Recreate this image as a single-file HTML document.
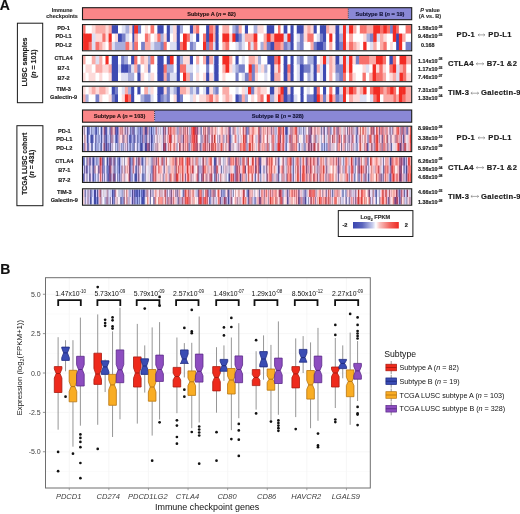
<!DOCTYPE html><html><head><meta charset="utf-8"><style>html,body{margin:0;padding:0;background:#fff;width:520px;height:514px;overflow:hidden}svg{display:block;filter:blur(0.3px)}text{font-family:"Liberation Sans",sans-serif}</style></head><body>
<svg width="520" height="514" viewBox="0 0 520 514">
<rect width="520" height="514" fill="#fff"/>
<text x="-0.2" y="9.6" font-size="14" font-weight="bold" fill="#111" stroke="#111" stroke-width="0.16">A</text>
<text x="62.1" y="12" font-size="5.4" font-weight="bold" fill="#333" text-anchor="middle"  stroke="#333" stroke-width="0.16">Immune</text>
<text x="62.1" y="18.2" font-size="5.4" font-weight="bold" fill="#333" text-anchor="middle"  stroke="#333" stroke-width="0.16">checkpoints</text>
<rect x="82.5" y="7.7" width="265.8" height="12.0" fill="#fa8688"/>
<rect x="348.3" y="7.7" width="63.39999999999998" height="12.0" fill="#8a88d6"/>
<line x1="348.3" y1="8.7" x2="348.3" y2="18.7" stroke="#222" stroke-width="0.8" stroke-dasharray="1,1"/>
<rect x="82.5" y="7.7" width="329.2" height="12.0" fill="none" stroke="#1a1a1a" stroke-width="1.1"/>
<text x="211.5" y="15.7" font-size="5.6" font-weight="bold" fill="#2a1515" text-anchor="middle" stroke="#2a1515" stroke-width="0.16">Subtype A (<tspan font-style="italic">n</tspan> = 82)</text>
<text x="380" y="15.7" font-size="5.6" font-weight="bold" fill="#15153a" text-anchor="middle" stroke="#15153a" stroke-width="0.16">Subtype B (<tspan font-style="italic">n</tspan> = 19)</text>
<rect x="82.5" y="110" width="72.1" height="12.200000000000003" fill="#fa8688"/>
<rect x="154.6" y="110" width="257.1" height="12.200000000000003" fill="#8a88d6"/>
<line x1="154.6" y1="111" x2="154.6" y2="121.2" stroke="#222" stroke-width="0.8" stroke-dasharray="1,1"/>
<rect x="82.5" y="110" width="329.2" height="12.200000000000003" fill="none" stroke="#1a1a1a" stroke-width="1.1"/>
<text x="119.5" y="118.1" font-size="5.6" font-weight="bold" fill="#2a1515" text-anchor="middle" stroke="#2a1515" stroke-width="0.16">Subtype A (<tspan font-style="italic">n</tspan> = 103)</text>
<text x="277.7" y="118.1" font-size="5.6" font-weight="bold" fill="#15153a" text-anchor="middle" stroke="#15153a" stroke-width="0.16">Subtype B (<tspan font-style="italic">n</tspan> = 328)</text>
<rect x="83.10" y="25.20" width="3.00" height="8.93" fill="#f7716b"/>
<rect x="83.10" y="33.53" width="3.00" height="8.93" fill="#f32c24"/>
<rect x="83.10" y="41.87" width="3.00" height="8.33" fill="#f32c24"/>
<rect x="85.50" y="25.20" width="3.73" height="8.93" fill="#ffffff"/>
<rect x="85.50" y="33.53" width="3.73" height="8.93" fill="#f32c24"/>
<rect x="85.50" y="41.87" width="3.73" height="8.33" fill="#f32c24"/>
<rect x="88.62" y="25.20" width="3.73" height="8.93" fill="#ffffff"/>
<rect x="88.62" y="33.53" width="3.73" height="8.93" fill="#f32c24"/>
<rect x="88.62" y="41.87" width="3.73" height="8.33" fill="#f7716b"/>
<rect x="91.75" y="25.20" width="4.35" height="8.93" fill="#fddad9"/>
<rect x="91.75" y="33.53" width="4.35" height="8.93" fill="#dddff2"/>
<rect x="91.75" y="41.87" width="4.35" height="8.33" fill="#dddff2"/>
<rect x="95.50" y="25.20" width="4.35" height="8.93" fill="#faaba7"/>
<rect x="95.50" y="33.53" width="4.35" height="8.93" fill="#fddad9"/>
<rect x="95.50" y="41.87" width="4.35" height="8.33" fill="#f7716b"/>
<rect x="99.25" y="25.20" width="3.73" height="8.93" fill="#faaba7"/>
<rect x="99.25" y="33.53" width="3.73" height="8.93" fill="#fddad9"/>
<rect x="99.25" y="41.87" width="3.73" height="8.33" fill="#faaba7"/>
<rect x="102.38" y="25.20" width="3.73" height="8.93" fill="#faaba7"/>
<rect x="102.38" y="33.53" width="3.73" height="8.93" fill="#f7716b"/>
<rect x="102.38" y="41.87" width="3.73" height="8.33" fill="#fddad9"/>
<rect x="105.50" y="25.20" width="3.73" height="8.93" fill="#fddad9"/>
<rect x="105.50" y="33.53" width="3.73" height="8.93" fill="#fddad9"/>
<rect x="105.50" y="41.87" width="3.73" height="8.33" fill="#ffffff"/>
<rect x="108.62" y="25.20" width="3.73" height="8.93" fill="#faaba7"/>
<rect x="108.62" y="33.53" width="3.73" height="8.93" fill="#f32c24"/>
<rect x="108.62" y="41.87" width="3.73" height="8.33" fill="#f7716b"/>
<rect x="111.75" y="25.20" width="3.73" height="8.93" fill="#3e4ab2"/>
<rect x="111.75" y="33.53" width="3.73" height="8.93" fill="#ffffff"/>
<rect x="111.75" y="41.87" width="3.73" height="8.33" fill="#dddff2"/>
<rect x="114.88" y="25.20" width="3.73" height="8.93" fill="#3e4ab2"/>
<rect x="114.88" y="33.53" width="3.73" height="8.93" fill="#fddad9"/>
<rect x="114.88" y="41.87" width="3.73" height="8.33" fill="#a8aedc"/>
<rect x="118.00" y="25.20" width="4.35" height="8.93" fill="#ffffff"/>
<rect x="118.00" y="33.53" width="4.35" height="8.93" fill="#3e4ab2"/>
<rect x="118.00" y="41.87" width="4.35" height="8.33" fill="#a8aedc"/>
<rect x="121.75" y="25.20" width="4.35" height="8.93" fill="#dddff2"/>
<rect x="121.75" y="33.53" width="4.35" height="8.93" fill="#7880c9"/>
<rect x="121.75" y="41.87" width="4.35" height="8.33" fill="#a8aedc"/>
<rect x="125.50" y="25.20" width="4.35" height="8.93" fill="#a8aedc"/>
<rect x="125.50" y="33.53" width="4.35" height="8.93" fill="#dddff2"/>
<rect x="125.50" y="41.87" width="4.35" height="8.33" fill="#f7716b"/>
<rect x="129.25" y="25.20" width="3.73" height="8.93" fill="#fddad9"/>
<rect x="129.25" y="33.53" width="3.73" height="8.93" fill="#ffffff"/>
<rect x="129.25" y="41.87" width="3.73" height="8.33" fill="#fddad9"/>
<rect x="132.38" y="25.20" width="2.48" height="8.93" fill="#3e4ab2"/>
<rect x="132.38" y="33.53" width="2.48" height="8.93" fill="#3e4ab2"/>
<rect x="132.38" y="41.87" width="2.48" height="8.33" fill="#7880c9"/>
<rect x="134.25" y="25.20" width="4.35" height="8.93" fill="#f32c24"/>
<rect x="134.25" y="33.53" width="4.35" height="8.93" fill="#faaba7"/>
<rect x="134.25" y="41.87" width="4.35" height="8.33" fill="#f7716b"/>
<rect x="138.00" y="25.20" width="3.73" height="8.93" fill="#7880c9"/>
<rect x="138.00" y="33.53" width="3.73" height="8.93" fill="#ffffff"/>
<rect x="138.00" y="41.87" width="3.73" height="8.33" fill="#ffffff"/>
<rect x="141.12" y="25.20" width="4.35" height="8.93" fill="#ffffff"/>
<rect x="141.12" y="33.53" width="4.35" height="8.93" fill="#ffffff"/>
<rect x="141.12" y="41.87" width="4.35" height="8.33" fill="#7880c9"/>
<rect x="144.88" y="25.20" width="3.73" height="8.93" fill="#fddad9"/>
<rect x="144.88" y="33.53" width="3.73" height="8.93" fill="#f7716b"/>
<rect x="144.88" y="41.87" width="3.73" height="8.33" fill="#faaba7"/>
<rect x="148.00" y="25.20" width="3.10" height="8.93" fill="#ffffff"/>
<rect x="148.00" y="33.53" width="3.10" height="8.93" fill="#faaba7"/>
<rect x="148.00" y="41.87" width="3.10" height="8.33" fill="#faaba7"/>
<rect x="150.50" y="25.20" width="4.35" height="8.93" fill="#f7716b"/>
<rect x="150.50" y="33.53" width="4.35" height="8.93" fill="#ffffff"/>
<rect x="150.50" y="41.87" width="4.35" height="8.33" fill="#dddff2"/>
<rect x="154.25" y="25.20" width="3.73" height="8.93" fill="#ffffff"/>
<rect x="154.25" y="33.53" width="3.73" height="8.93" fill="#fddad9"/>
<rect x="154.25" y="41.87" width="3.73" height="8.33" fill="#a8aedc"/>
<rect x="157.38" y="25.20" width="3.73" height="8.93" fill="#3e4ab2"/>
<rect x="157.38" y="33.53" width="3.73" height="8.93" fill="#f7716b"/>
<rect x="157.38" y="41.87" width="3.73" height="8.33" fill="#a8aedc"/>
<rect x="160.50" y="25.20" width="3.73" height="8.93" fill="#3e4ab2"/>
<rect x="160.50" y="33.53" width="3.73" height="8.93" fill="#a8aedc"/>
<rect x="160.50" y="41.87" width="3.73" height="8.33" fill="#7880c9"/>
<rect x="163.62" y="25.20" width="3.73" height="8.93" fill="#ffffff"/>
<rect x="163.62" y="33.53" width="3.73" height="8.93" fill="#fddad9"/>
<rect x="163.62" y="41.87" width="3.73" height="8.33" fill="#f7716b"/>
<rect x="166.75" y="25.20" width="3.73" height="8.93" fill="#3e4ab2"/>
<rect x="166.75" y="33.53" width="3.73" height="8.93" fill="#3e4ab2"/>
<rect x="166.75" y="41.87" width="3.73" height="8.33" fill="#ffffff"/>
<rect x="169.88" y="25.20" width="3.73" height="8.93" fill="#dddff2"/>
<rect x="169.88" y="33.53" width="3.73" height="8.93" fill="#ffffff"/>
<rect x="169.88" y="41.87" width="3.73" height="8.33" fill="#dddff2"/>
<rect x="173.00" y="25.20" width="4.35" height="8.93" fill="#fddad9"/>
<rect x="173.00" y="33.53" width="4.35" height="8.93" fill="#fddad9"/>
<rect x="173.00" y="41.87" width="4.35" height="8.33" fill="#dddff2"/>
<rect x="176.75" y="25.20" width="3.73" height="8.93" fill="#3e4ab2"/>
<rect x="176.75" y="33.53" width="3.73" height="8.93" fill="#3e4ab2"/>
<rect x="176.75" y="41.87" width="3.73" height="8.33" fill="#3e4ab2"/>
<rect x="179.88" y="25.20" width="3.73" height="8.93" fill="#a8aedc"/>
<rect x="179.88" y="33.53" width="3.73" height="8.93" fill="#ffffff"/>
<rect x="179.88" y="41.87" width="3.73" height="8.33" fill="#f7716b"/>
<rect x="183.00" y="25.20" width="4.35" height="8.93" fill="#ffffff"/>
<rect x="183.00" y="33.53" width="4.35" height="8.93" fill="#f32c24"/>
<rect x="183.00" y="41.87" width="4.35" height="8.33" fill="#f32c24"/>
<rect x="186.75" y="25.20" width="3.73" height="8.93" fill="#ffffff"/>
<rect x="186.75" y="33.53" width="3.73" height="8.93" fill="#f7716b"/>
<rect x="186.75" y="41.87" width="3.73" height="8.33" fill="#ffffff"/>
<rect x="189.88" y="25.20" width="3.73" height="8.93" fill="#3e4ab2"/>
<rect x="189.88" y="33.53" width="3.73" height="8.93" fill="#dddff2"/>
<rect x="189.88" y="41.87" width="3.73" height="8.33" fill="#7880c9"/>
<rect x="193.00" y="25.20" width="3.73" height="8.93" fill="#faaba7"/>
<rect x="193.00" y="33.53" width="3.73" height="8.93" fill="#ffffff"/>
<rect x="193.00" y="41.87" width="3.73" height="8.33" fill="#a8aedc"/>
<rect x="196.12" y="25.20" width="3.73" height="8.93" fill="#f7716b"/>
<rect x="196.12" y="33.53" width="3.73" height="8.93" fill="#3e4ab2"/>
<rect x="196.12" y="41.87" width="3.73" height="8.33" fill="#ffffff"/>
<rect x="199.25" y="25.20" width="4.35" height="8.93" fill="#ffffff"/>
<rect x="199.25" y="33.53" width="4.35" height="8.93" fill="#ffffff"/>
<rect x="199.25" y="41.87" width="4.35" height="8.33" fill="#ffffff"/>
<rect x="203.00" y="25.20" width="3.73" height="8.93" fill="#ffffff"/>
<rect x="203.00" y="33.53" width="3.73" height="8.93" fill="#f7716b"/>
<rect x="203.00" y="41.87" width="3.73" height="8.33" fill="#f32c24"/>
<rect x="206.12" y="25.20" width="3.73" height="8.93" fill="#3e4ab2"/>
<rect x="206.12" y="33.53" width="3.73" height="8.93" fill="#3e4ab2"/>
<rect x="206.12" y="41.87" width="3.73" height="8.33" fill="#7880c9"/>
<rect x="209.25" y="25.20" width="4.35" height="8.93" fill="#f7716b"/>
<rect x="209.25" y="33.53" width="4.35" height="8.93" fill="#f32c24"/>
<rect x="209.25" y="41.87" width="4.35" height="8.33" fill="#f7716b"/>
<rect x="213.00" y="25.20" width="3.10" height="8.93" fill="#faaba7"/>
<rect x="213.00" y="33.53" width="3.10" height="8.93" fill="#faaba7"/>
<rect x="213.00" y="41.87" width="3.10" height="8.33" fill="#dddff2"/>
<rect x="215.50" y="25.20" width="3.73" height="8.93" fill="#3e4ab2"/>
<rect x="215.50" y="33.53" width="3.73" height="8.93" fill="#3e4ab2"/>
<rect x="215.50" y="41.87" width="3.73" height="8.33" fill="#3e4ab2"/>
<rect x="218.62" y="25.20" width="4.35" height="8.93" fill="#ffffff"/>
<rect x="218.62" y="33.53" width="4.35" height="8.93" fill="#ffffff"/>
<rect x="218.62" y="41.87" width="4.35" height="8.33" fill="#ffffff"/>
<rect x="222.38" y="25.20" width="3.73" height="8.93" fill="#faaba7"/>
<rect x="222.38" y="33.53" width="3.73" height="8.93" fill="#f32c24"/>
<rect x="222.38" y="41.87" width="3.73" height="8.33" fill="#faaba7"/>
<rect x="225.50" y="25.20" width="4.35" height="8.93" fill="#faaba7"/>
<rect x="225.50" y="33.53" width="4.35" height="8.93" fill="#f32c24"/>
<rect x="225.50" y="41.87" width="4.35" height="8.33" fill="#f7716b"/>
<rect x="229.25" y="25.20" width="3.73" height="8.93" fill="#ffffff"/>
<rect x="229.25" y="33.53" width="3.73" height="8.93" fill="#fddad9"/>
<rect x="229.25" y="41.87" width="3.73" height="8.33" fill="#ffffff"/>
<rect x="232.38" y="25.20" width="3.73" height="8.93" fill="#a8aedc"/>
<rect x="232.38" y="33.53" width="3.73" height="8.93" fill="#f32c24"/>
<rect x="232.38" y="41.87" width="3.73" height="8.33" fill="#ffffff"/>
<rect x="235.50" y="25.20" width="3.73" height="8.93" fill="#7880c9"/>
<rect x="235.50" y="33.53" width="3.73" height="8.93" fill="#3e4ab2"/>
<rect x="235.50" y="41.87" width="3.73" height="8.33" fill="#dddff2"/>
<rect x="238.62" y="25.20" width="3.73" height="8.93" fill="#faaba7"/>
<rect x="238.62" y="33.53" width="3.73" height="8.93" fill="#7880c9"/>
<rect x="238.62" y="41.87" width="3.73" height="8.33" fill="#a8aedc"/>
<rect x="241.75" y="25.20" width="3.73" height="8.93" fill="#ffffff"/>
<rect x="241.75" y="33.53" width="3.73" height="8.93" fill="#dddff2"/>
<rect x="241.75" y="41.87" width="3.73" height="8.33" fill="#dddff2"/>
<rect x="244.88" y="25.20" width="3.73" height="8.93" fill="#3e4ab2"/>
<rect x="244.88" y="33.53" width="3.73" height="8.93" fill="#faaba7"/>
<rect x="244.88" y="41.87" width="3.73" height="8.33" fill="#ffffff"/>
<rect x="248.00" y="25.20" width="3.10" height="8.93" fill="#ffffff"/>
<rect x="248.00" y="33.53" width="3.10" height="8.93" fill="#faaba7"/>
<rect x="248.00" y="41.87" width="3.10" height="8.33" fill="#f7716b"/>
<rect x="250.50" y="25.20" width="3.73" height="8.93" fill="#ffffff"/>
<rect x="250.50" y="33.53" width="3.73" height="8.93" fill="#faaba7"/>
<rect x="250.50" y="41.87" width="3.73" height="8.33" fill="#dddff2"/>
<rect x="253.62" y="25.20" width="4.35" height="8.93" fill="#a8aedc"/>
<rect x="253.62" y="33.53" width="4.35" height="8.93" fill="#f32c24"/>
<rect x="253.62" y="41.87" width="4.35" height="8.33" fill="#f7716b"/>
<rect x="257.38" y="25.20" width="3.73" height="8.93" fill="#fddad9"/>
<rect x="257.38" y="33.53" width="3.73" height="8.93" fill="#ffffff"/>
<rect x="257.38" y="41.87" width="3.73" height="8.33" fill="#ffffff"/>
<rect x="260.50" y="25.20" width="3.73" height="8.93" fill="#fddad9"/>
<rect x="260.50" y="33.53" width="3.73" height="8.93" fill="#ffffff"/>
<rect x="260.50" y="41.87" width="3.73" height="8.33" fill="#a8aedc"/>
<rect x="263.62" y="25.20" width="3.73" height="8.93" fill="#ffffff"/>
<rect x="263.62" y="33.53" width="3.73" height="8.93" fill="#faaba7"/>
<rect x="263.62" y="41.87" width="3.73" height="8.33" fill="#faaba7"/>
<rect x="266.75" y="25.20" width="4.35" height="8.93" fill="#3e4ab2"/>
<rect x="266.75" y="33.53" width="4.35" height="8.93" fill="#f32c24"/>
<rect x="266.75" y="41.87" width="4.35" height="8.33" fill="#7880c9"/>
<rect x="270.50" y="25.20" width="4.35" height="8.93" fill="#3e4ab2"/>
<rect x="270.50" y="33.53" width="4.35" height="8.93" fill="#faaba7"/>
<rect x="270.50" y="41.87" width="4.35" height="8.33" fill="#3e4ab2"/>
<rect x="274.25" y="25.20" width="4.35" height="8.93" fill="#ffffff"/>
<rect x="274.25" y="33.53" width="4.35" height="8.93" fill="#f32c24"/>
<rect x="274.25" y="41.87" width="4.35" height="8.33" fill="#f7716b"/>
<rect x="278.00" y="25.20" width="3.10" height="8.93" fill="#f7716b"/>
<rect x="278.00" y="33.53" width="3.10" height="8.93" fill="#f32c24"/>
<rect x="278.00" y="41.87" width="3.10" height="8.33" fill="#f7716b"/>
<rect x="280.50" y="25.20" width="3.73" height="8.93" fill="#ffffff"/>
<rect x="280.50" y="33.53" width="3.73" height="8.93" fill="#f32c24"/>
<rect x="280.50" y="41.87" width="3.73" height="8.33" fill="#faaba7"/>
<rect x="283.62" y="25.20" width="4.35" height="8.93" fill="#3e4ab2"/>
<rect x="283.62" y="33.53" width="4.35" height="8.93" fill="#dddff2"/>
<rect x="283.62" y="41.87" width="4.35" height="8.33" fill="#7880c9"/>
<rect x="287.38" y="25.20" width="3.73" height="8.93" fill="#ffffff"/>
<rect x="287.38" y="33.53" width="3.73" height="8.93" fill="#f32c24"/>
<rect x="287.38" y="41.87" width="3.73" height="8.33" fill="#a8aedc"/>
<rect x="290.50" y="25.20" width="3.73" height="8.93" fill="#3e4ab2"/>
<rect x="290.50" y="33.53" width="3.73" height="8.93" fill="#3e4ab2"/>
<rect x="290.50" y="41.87" width="3.73" height="8.33" fill="#3e4ab2"/>
<rect x="293.62" y="25.20" width="3.73" height="8.93" fill="#ffffff"/>
<rect x="293.62" y="33.53" width="3.73" height="8.93" fill="#ffffff"/>
<rect x="293.62" y="41.87" width="3.73" height="8.33" fill="#ffffff"/>
<rect x="296.75" y="25.20" width="3.73" height="8.93" fill="#3e4ab2"/>
<rect x="296.75" y="33.53" width="3.73" height="8.93" fill="#dddff2"/>
<rect x="296.75" y="41.87" width="3.73" height="8.33" fill="#a8aedc"/>
<rect x="299.88" y="25.20" width="4.35" height="8.93" fill="#3e4ab2"/>
<rect x="299.88" y="33.53" width="4.35" height="8.93" fill="#7880c9"/>
<rect x="299.88" y="41.87" width="4.35" height="8.33" fill="#7880c9"/>
<rect x="303.62" y="25.20" width="4.35" height="8.93" fill="#fddad9"/>
<rect x="303.62" y="33.53" width="4.35" height="8.93" fill="#fddad9"/>
<rect x="303.62" y="41.87" width="4.35" height="8.33" fill="#ffffff"/>
<rect x="307.38" y="25.20" width="3.73" height="8.93" fill="#faaba7"/>
<rect x="307.38" y="33.53" width="3.73" height="8.93" fill="#f7716b"/>
<rect x="307.38" y="41.87" width="3.73" height="8.33" fill="#ffffff"/>
<rect x="310.50" y="25.20" width="3.73" height="8.93" fill="#fddad9"/>
<rect x="310.50" y="33.53" width="3.73" height="8.93" fill="#f7716b"/>
<rect x="310.50" y="41.87" width="3.73" height="8.33" fill="#faaba7"/>
<rect x="313.62" y="25.20" width="3.73" height="8.93" fill="#3e4ab2"/>
<rect x="313.62" y="33.53" width="3.73" height="8.93" fill="#ffffff"/>
<rect x="313.62" y="41.87" width="3.73" height="8.33" fill="#7880c9"/>
<rect x="316.75" y="25.20" width="3.73" height="8.93" fill="#ffffff"/>
<rect x="316.75" y="33.53" width="3.73" height="8.93" fill="#dddff2"/>
<rect x="316.75" y="41.87" width="3.73" height="8.33" fill="#3e4ab2"/>
<rect x="319.88" y="25.20" width="3.73" height="8.93" fill="#3e4ab2"/>
<rect x="319.88" y="33.53" width="3.73" height="8.93" fill="#7880c9"/>
<rect x="319.88" y="41.87" width="3.73" height="8.33" fill="#3e4ab2"/>
<rect x="323.00" y="25.20" width="3.73" height="8.93" fill="#3e4ab2"/>
<rect x="323.00" y="33.53" width="3.73" height="8.93" fill="#3e4ab2"/>
<rect x="323.00" y="41.87" width="3.73" height="8.33" fill="#7880c9"/>
<rect x="326.12" y="25.20" width="3.73" height="8.93" fill="#faaba7"/>
<rect x="326.12" y="33.53" width="3.73" height="8.93" fill="#ffffff"/>
<rect x="326.12" y="41.87" width="3.73" height="8.33" fill="#ffffff"/>
<rect x="329.25" y="25.20" width="3.73" height="8.93" fill="#fddad9"/>
<rect x="329.25" y="33.53" width="3.73" height="8.93" fill="#f32c24"/>
<rect x="329.25" y="41.87" width="3.73" height="8.33" fill="#faaba7"/>
<rect x="332.38" y="25.20" width="3.73" height="8.93" fill="#fddad9"/>
<rect x="332.38" y="33.53" width="3.73" height="8.93" fill="#ffffff"/>
<rect x="332.38" y="41.87" width="3.73" height="8.33" fill="#ffffff"/>
<rect x="335.50" y="25.20" width="4.35" height="8.93" fill="#3e4ab2"/>
<rect x="335.50" y="33.53" width="4.35" height="8.93" fill="#3e4ab2"/>
<rect x="335.50" y="41.87" width="4.35" height="8.33" fill="#3e4ab2"/>
<rect x="339.25" y="25.20" width="4.35" height="8.93" fill="#dddff2"/>
<rect x="339.25" y="33.53" width="4.35" height="8.93" fill="#a8aedc"/>
<rect x="339.25" y="41.87" width="4.35" height="8.33" fill="#7880c9"/>
<rect x="343.00" y="25.20" width="3.56" height="8.93" fill="#f32c24"/>
<rect x="343.00" y="33.53" width="3.56" height="8.93" fill="#f32c24"/>
<rect x="343.00" y="41.87" width="3.56" height="8.33" fill="#f32c24"/>
<rect x="345.96" y="25.20" width="3.70" height="8.93" fill="#dddff2"/>
<rect x="345.96" y="33.53" width="3.70" height="8.93" fill="#ffffff"/>
<rect x="345.96" y="41.87" width="3.70" height="8.33" fill="#fddad9"/>
<rect x="349.06" y="25.20" width="4.64" height="8.93" fill="#f32c24"/>
<rect x="349.06" y="33.53" width="4.64" height="8.93" fill="#faaba7"/>
<rect x="349.06" y="41.87" width="4.64" height="8.33" fill="#f7716b"/>
<rect x="353.09" y="25.20" width="3.96" height="8.93" fill="#faaba7"/>
<rect x="353.09" y="33.53" width="3.96" height="8.93" fill="#ffffff"/>
<rect x="353.09" y="41.87" width="3.96" height="8.33" fill="#faaba7"/>
<rect x="356.46" y="25.20" width="3.96" height="8.93" fill="#ffffff"/>
<rect x="356.46" y="33.53" width="3.96" height="8.93" fill="#ffffff"/>
<rect x="356.46" y="41.87" width="3.96" height="8.33" fill="#fddad9"/>
<rect x="359.82" y="25.20" width="3.96" height="8.93" fill="#f7716b"/>
<rect x="359.82" y="33.53" width="3.96" height="8.93" fill="#ffffff"/>
<rect x="359.82" y="41.87" width="3.96" height="8.33" fill="#ffffff"/>
<rect x="363.19" y="25.20" width="3.96" height="8.93" fill="#f7716b"/>
<rect x="363.19" y="33.53" width="3.96" height="8.93" fill="#fddad9"/>
<rect x="363.19" y="41.87" width="3.96" height="8.33" fill="#f32c24"/>
<rect x="366.55" y="25.20" width="3.96" height="8.93" fill="#faaba7"/>
<rect x="366.55" y="33.53" width="3.96" height="8.93" fill="#a8aedc"/>
<rect x="366.55" y="41.87" width="3.96" height="8.33" fill="#ffffff"/>
<rect x="369.92" y="25.20" width="3.96" height="8.93" fill="#faaba7"/>
<rect x="369.92" y="33.53" width="3.96" height="8.93" fill="#7880c9"/>
<rect x="369.92" y="41.87" width="3.96" height="8.33" fill="#dddff2"/>
<rect x="373.28" y="25.20" width="3.96" height="8.93" fill="#f32c24"/>
<rect x="373.28" y="33.53" width="3.96" height="8.93" fill="#f32c24"/>
<rect x="373.28" y="41.87" width="3.96" height="8.33" fill="#faaba7"/>
<rect x="376.65" y="25.20" width="3.96" height="8.93" fill="#f32c24"/>
<rect x="376.65" y="33.53" width="3.96" height="8.93" fill="#dddff2"/>
<rect x="376.65" y="41.87" width="3.96" height="8.33" fill="#ffffff"/>
<rect x="380.01" y="25.20" width="3.96" height="8.93" fill="#f7716b"/>
<rect x="380.01" y="33.53" width="3.96" height="8.93" fill="#faaba7"/>
<rect x="380.01" y="41.87" width="3.96" height="8.33" fill="#faaba7"/>
<rect x="383.38" y="25.20" width="3.96" height="8.93" fill="#f32c24"/>
<rect x="383.38" y="33.53" width="3.96" height="8.93" fill="#fddad9"/>
<rect x="383.38" y="41.87" width="3.96" height="8.33" fill="#f7716b"/>
<rect x="386.74" y="25.20" width="3.96" height="8.93" fill="#f7716b"/>
<rect x="386.74" y="33.53" width="3.96" height="8.93" fill="#ffffff"/>
<rect x="386.74" y="41.87" width="3.96" height="8.33" fill="#ffffff"/>
<rect x="390.11" y="25.20" width="3.29" height="8.93" fill="#7880c9"/>
<rect x="390.11" y="33.53" width="3.29" height="8.93" fill="#ffffff"/>
<rect x="390.11" y="41.87" width="3.29" height="8.33" fill="#fddad9"/>
<rect x="392.80" y="25.20" width="3.96" height="8.93" fill="#f32c24"/>
<rect x="392.80" y="33.53" width="3.96" height="8.93" fill="#f32c24"/>
<rect x="392.80" y="41.87" width="3.96" height="8.33" fill="#ffffff"/>
<rect x="396.16" y="25.20" width="3.29" height="8.93" fill="#f7716b"/>
<rect x="396.16" y="33.53" width="3.29" height="8.93" fill="#3e4ab2"/>
<rect x="396.16" y="41.87" width="3.29" height="8.33" fill="#3e4ab2"/>
<rect x="398.85" y="25.20" width="3.96" height="8.93" fill="#ffffff"/>
<rect x="398.85" y="33.53" width="3.96" height="8.93" fill="#f32c24"/>
<rect x="398.85" y="41.87" width="3.96" height="8.33" fill="#f32c24"/>
<rect x="402.22" y="25.20" width="3.96" height="8.93" fill="#ffffff"/>
<rect x="402.22" y="33.53" width="3.96" height="8.93" fill="#faaba7"/>
<rect x="402.22" y="41.87" width="3.96" height="8.33" fill="#ffffff"/>
<rect x="405.58" y="25.20" width="5.52" height="8.93" fill="#f7716b"/>
<rect x="405.58" y="33.53" width="5.52" height="8.93" fill="#ffffff"/>
<rect x="405.58" y="41.87" width="5.52" height="8.33" fill="#7880c9"/>
<rect x="82.5" y="24.6" width="329.2" height="26.199999999999996" fill="none" stroke="#1a1a1a" stroke-width="1.1"/>
<rect x="83.10" y="56.00" width="3.00" height="8.97" fill="#faaba7"/>
<rect x="83.10" y="64.37" width="3.00" height="8.97" fill="#ffffff"/>
<rect x="83.10" y="72.73" width="3.00" height="8.37" fill="#fddad9"/>
<rect x="85.50" y="56.00" width="3.73" height="8.97" fill="#ffffff"/>
<rect x="85.50" y="64.37" width="3.73" height="8.97" fill="#fddad9"/>
<rect x="85.50" y="72.73" width="3.73" height="8.37" fill="#ffffff"/>
<rect x="88.62" y="56.00" width="3.73" height="8.97" fill="#ffffff"/>
<rect x="88.62" y="64.37" width="3.73" height="8.97" fill="#fddad9"/>
<rect x="88.62" y="72.73" width="3.73" height="8.37" fill="#fddad9"/>
<rect x="91.75" y="56.00" width="4.35" height="8.97" fill="#faaba7"/>
<rect x="91.75" y="64.37" width="4.35" height="8.97" fill="#ffffff"/>
<rect x="91.75" y="72.73" width="4.35" height="8.37" fill="#fddad9"/>
<rect x="95.50" y="56.00" width="4.35" height="8.97" fill="#dddff2"/>
<rect x="95.50" y="64.37" width="4.35" height="8.97" fill="#faaba7"/>
<rect x="95.50" y="72.73" width="4.35" height="8.37" fill="#ffffff"/>
<rect x="99.25" y="56.00" width="3.73" height="8.97" fill="#faaba7"/>
<rect x="99.25" y="64.37" width="3.73" height="8.97" fill="#faaba7"/>
<rect x="99.25" y="72.73" width="3.73" height="8.37" fill="#fddad9"/>
<rect x="102.38" y="56.00" width="3.73" height="8.97" fill="#ffffff"/>
<rect x="102.38" y="64.37" width="3.73" height="8.97" fill="#fddad9"/>
<rect x="102.38" y="72.73" width="3.73" height="8.37" fill="#ffffff"/>
<rect x="105.50" y="56.00" width="3.73" height="8.97" fill="#f32c24"/>
<rect x="105.50" y="64.37" width="3.73" height="8.97" fill="#fddad9"/>
<rect x="105.50" y="72.73" width="3.73" height="8.37" fill="#ffffff"/>
<rect x="108.62" y="56.00" width="3.73" height="8.97" fill="#ffffff"/>
<rect x="108.62" y="64.37" width="3.73" height="8.97" fill="#faaba7"/>
<rect x="108.62" y="72.73" width="3.73" height="8.37" fill="#fddad9"/>
<rect x="111.75" y="56.00" width="6.85" height="8.97" fill="#3e4ab2"/>
<rect x="111.75" y="64.37" width="6.85" height="8.97" fill="#3e4ab2"/>
<rect x="111.75" y="72.73" width="6.85" height="8.37" fill="#3e4ab2"/>
<rect x="118.00" y="56.00" width="3.73" height="8.97" fill="#ffffff"/>
<rect x="118.00" y="64.37" width="3.73" height="8.97" fill="#dddff2"/>
<rect x="118.00" y="72.73" width="3.73" height="8.37" fill="#ffffff"/>
<rect x="121.12" y="56.00" width="3.73" height="8.97" fill="#7880c9"/>
<rect x="121.12" y="64.37" width="3.73" height="8.97" fill="#3e4ab2"/>
<rect x="121.12" y="72.73" width="3.73" height="8.37" fill="#dddff2"/>
<rect x="124.25" y="56.00" width="4.35" height="8.97" fill="#a8aedc"/>
<rect x="124.25" y="64.37" width="4.35" height="8.97" fill="#3e4ab2"/>
<rect x="124.25" y="72.73" width="4.35" height="8.37" fill="#dddff2"/>
<rect x="128.00" y="56.00" width="3.73" height="8.97" fill="#ffffff"/>
<rect x="128.00" y="64.37" width="3.73" height="8.97" fill="#7880c9"/>
<rect x="128.00" y="72.73" width="3.73" height="8.37" fill="#a8aedc"/>
<rect x="131.12" y="56.00" width="3.73" height="8.97" fill="#3e4ab2"/>
<rect x="131.12" y="64.37" width="3.73" height="8.97" fill="#dddff2"/>
<rect x="131.12" y="72.73" width="3.73" height="8.37" fill="#a8aedc"/>
<rect x="134.25" y="56.00" width="3.73" height="8.97" fill="#f7716b"/>
<rect x="134.25" y="64.37" width="3.73" height="8.97" fill="#faaba7"/>
<rect x="134.25" y="72.73" width="3.73" height="8.37" fill="#ffffff"/>
<rect x="137.38" y="56.00" width="3.73" height="8.97" fill="#ffffff"/>
<rect x="137.38" y="64.37" width="3.73" height="8.97" fill="#7880c9"/>
<rect x="137.38" y="72.73" width="3.73" height="8.37" fill="#3e4ab2"/>
<rect x="140.50" y="56.00" width="4.35" height="8.97" fill="#faaba7"/>
<rect x="140.50" y="64.37" width="4.35" height="8.97" fill="#ffffff"/>
<rect x="140.50" y="72.73" width="4.35" height="8.37" fill="#fddad9"/>
<rect x="144.25" y="56.00" width="4.35" height="8.97" fill="#fddad9"/>
<rect x="144.25" y="64.37" width="4.35" height="8.97" fill="#fddad9"/>
<rect x="144.25" y="72.73" width="4.35" height="8.37" fill="#ffffff"/>
<rect x="148.00" y="56.00" width="3.10" height="8.97" fill="#a8aedc"/>
<rect x="148.00" y="64.37" width="3.10" height="8.97" fill="#7880c9"/>
<rect x="148.00" y="72.73" width="3.10" height="8.37" fill="#dddff2"/>
<rect x="150.50" y="56.00" width="4.35" height="8.97" fill="#f7716b"/>
<rect x="150.50" y="64.37" width="4.35" height="8.97" fill="#ffffff"/>
<rect x="150.50" y="72.73" width="4.35" height="8.37" fill="#fddad9"/>
<rect x="154.25" y="56.00" width="3.73" height="8.97" fill="#ffffff"/>
<rect x="154.25" y="64.37" width="3.73" height="8.97" fill="#ffffff"/>
<rect x="154.25" y="72.73" width="3.73" height="8.37" fill="#ffffff"/>
<rect x="157.38" y="56.00" width="6.85" height="8.97" fill="#3e4ab2"/>
<rect x="157.38" y="64.37" width="6.85" height="8.97" fill="#3e4ab2"/>
<rect x="157.38" y="72.73" width="6.85" height="8.37" fill="#3e4ab2"/>
<rect x="163.62" y="56.00" width="3.73" height="8.97" fill="#ffffff"/>
<rect x="163.62" y="64.37" width="3.73" height="8.97" fill="#f7716b"/>
<rect x="163.62" y="72.73" width="3.73" height="8.37" fill="#faaba7"/>
<rect x="166.75" y="56.00" width="3.73" height="8.97" fill="#3e4ab2"/>
<rect x="166.75" y="64.37" width="3.73" height="8.97" fill="#a8aedc"/>
<rect x="166.75" y="72.73" width="3.73" height="8.37" fill="#7880c9"/>
<rect x="169.88" y="56.00" width="4.35" height="8.97" fill="#f32c24"/>
<rect x="169.88" y="64.37" width="4.35" height="8.97" fill="#a8aedc"/>
<rect x="169.88" y="72.73" width="4.35" height="8.37" fill="#dddff2"/>
<rect x="173.62" y="56.00" width="3.73" height="8.97" fill="#ffffff"/>
<rect x="173.62" y="64.37" width="3.73" height="8.97" fill="#ffffff"/>
<rect x="173.62" y="72.73" width="3.73" height="8.37" fill="#dddff2"/>
<rect x="176.75" y="56.00" width="3.73" height="8.97" fill="#3e4ab2"/>
<rect x="176.75" y="64.37" width="3.73" height="8.97" fill="#3e4ab2"/>
<rect x="176.75" y="72.73" width="3.73" height="8.37" fill="#3e4ab2"/>
<rect x="179.88" y="56.00" width="3.73" height="8.97" fill="#a8aedc"/>
<rect x="179.88" y="64.37" width="3.73" height="8.97" fill="#f7716b"/>
<rect x="179.88" y="72.73" width="3.73" height="8.37" fill="#ffffff"/>
<rect x="183.00" y="56.00" width="3.73" height="8.97" fill="#fddad9"/>
<rect x="183.00" y="64.37" width="3.73" height="8.97" fill="#f7716b"/>
<rect x="183.00" y="72.73" width="3.73" height="8.37" fill="#f32c24"/>
<rect x="186.12" y="56.00" width="4.35" height="8.97" fill="#fddad9"/>
<rect x="186.12" y="64.37" width="4.35" height="8.97" fill="#dddff2"/>
<rect x="186.12" y="72.73" width="4.35" height="8.37" fill="#faaba7"/>
<rect x="189.88" y="56.00" width="3.73" height="8.97" fill="#3e4ab2"/>
<rect x="189.88" y="64.37" width="3.73" height="8.97" fill="#dddff2"/>
<rect x="189.88" y="72.73" width="3.73" height="8.37" fill="#a8aedc"/>
<rect x="193.00" y="56.00" width="3.73" height="8.97" fill="#ffffff"/>
<rect x="193.00" y="64.37" width="3.73" height="8.97" fill="#ffffff"/>
<rect x="193.00" y="72.73" width="3.73" height="8.37" fill="#ffffff"/>
<rect x="196.12" y="56.00" width="3.73" height="8.97" fill="#faaba7"/>
<rect x="196.12" y="64.37" width="3.73" height="8.97" fill="#dddff2"/>
<rect x="196.12" y="72.73" width="3.73" height="8.37" fill="#fddad9"/>
<rect x="199.25" y="56.00" width="4.35" height="8.97" fill="#ffffff"/>
<rect x="199.25" y="64.37" width="4.35" height="8.97" fill="#ffffff"/>
<rect x="199.25" y="72.73" width="4.35" height="8.37" fill="#ffffff"/>
<rect x="203.00" y="56.00" width="3.73" height="8.97" fill="#faaba7"/>
<rect x="203.00" y="64.37" width="3.73" height="8.97" fill="#ffffff"/>
<rect x="203.00" y="72.73" width="3.73" height="8.37" fill="#fddad9"/>
<rect x="206.12" y="56.00" width="3.73" height="8.97" fill="#3e4ab2"/>
<rect x="206.12" y="64.37" width="3.73" height="8.97" fill="#7880c9"/>
<rect x="206.12" y="72.73" width="3.73" height="8.37" fill="#3e4ab2"/>
<rect x="209.25" y="56.00" width="4.35" height="8.97" fill="#faaba7"/>
<rect x="209.25" y="64.37" width="4.35" height="8.97" fill="#ffffff"/>
<rect x="209.25" y="72.73" width="4.35" height="8.37" fill="#fddad9"/>
<rect x="213.00" y="56.00" width="1.85" height="8.97" fill="#dddff2"/>
<rect x="213.00" y="64.37" width="1.85" height="8.97" fill="#dddff2"/>
<rect x="213.00" y="72.73" width="1.85" height="8.37" fill="#dddff2"/>
<rect x="214.25" y="56.00" width="4.97" height="8.97" fill="#3e4ab2"/>
<rect x="214.25" y="64.37" width="4.97" height="8.97" fill="#3e4ab2"/>
<rect x="214.25" y="72.73" width="4.97" height="8.37" fill="#3e4ab2"/>
<rect x="218.62" y="56.00" width="4.35" height="8.97" fill="#ffffff"/>
<rect x="218.62" y="64.37" width="4.35" height="8.97" fill="#ffffff"/>
<rect x="218.62" y="72.73" width="4.35" height="8.37" fill="#ffffff"/>
<rect x="222.38" y="56.00" width="3.73" height="8.97" fill="#f32c24"/>
<rect x="222.38" y="64.37" width="3.73" height="8.97" fill="#faaba7"/>
<rect x="222.38" y="72.73" width="3.73" height="8.37" fill="#fddad9"/>
<rect x="225.50" y="56.00" width="4.35" height="8.97" fill="#f32c24"/>
<rect x="225.50" y="64.37" width="4.35" height="8.97" fill="#f32c24"/>
<rect x="225.50" y="72.73" width="4.35" height="8.37" fill="#ffffff"/>
<rect x="229.25" y="56.00" width="3.73" height="8.97" fill="#faaba7"/>
<rect x="229.25" y="64.37" width="3.73" height="8.97" fill="#fddad9"/>
<rect x="229.25" y="72.73" width="3.73" height="8.37" fill="#ffffff"/>
<rect x="232.38" y="56.00" width="3.73" height="8.97" fill="#ffffff"/>
<rect x="232.38" y="64.37" width="3.73" height="8.97" fill="#dddff2"/>
<rect x="232.38" y="72.73" width="3.73" height="8.37" fill="#ffffff"/>
<rect x="235.50" y="56.00" width="3.73" height="8.97" fill="#3e4ab2"/>
<rect x="235.50" y="64.37" width="3.73" height="8.97" fill="#a8aedc"/>
<rect x="235.50" y="72.73" width="3.73" height="8.37" fill="#7880c9"/>
<rect x="238.62" y="56.00" width="3.73" height="8.97" fill="#ffffff"/>
<rect x="238.62" y="64.37" width="3.73" height="8.97" fill="#7880c9"/>
<rect x="238.62" y="72.73" width="3.73" height="8.37" fill="#ffffff"/>
<rect x="241.75" y="56.00" width="3.73" height="8.97" fill="#dddff2"/>
<rect x="241.75" y="64.37" width="3.73" height="8.97" fill="#7880c9"/>
<rect x="241.75" y="72.73" width="3.73" height="8.37" fill="#dddff2"/>
<rect x="244.88" y="56.00" width="4.35" height="8.97" fill="#ffffff"/>
<rect x="244.88" y="64.37" width="4.35" height="8.97" fill="#ffffff"/>
<rect x="244.88" y="72.73" width="4.35" height="8.37" fill="#7880c9"/>
<rect x="248.62" y="56.00" width="3.73" height="8.97" fill="#faaba7"/>
<rect x="248.62" y="64.37" width="3.73" height="8.97" fill="#f32c24"/>
<rect x="248.62" y="72.73" width="3.73" height="8.37" fill="#f7716b"/>
<rect x="251.75" y="56.00" width="3.73" height="8.97" fill="#faaba7"/>
<rect x="251.75" y="64.37" width="3.73" height="8.97" fill="#7880c9"/>
<rect x="251.75" y="72.73" width="3.73" height="8.37" fill="#7880c9"/>
<rect x="254.88" y="56.00" width="3.73" height="8.97" fill="#fddad9"/>
<rect x="254.88" y="64.37" width="3.73" height="8.97" fill="#faaba7"/>
<rect x="254.88" y="72.73" width="3.73" height="8.37" fill="#fddad9"/>
<rect x="258.00" y="56.00" width="3.73" height="8.97" fill="#a8aedc"/>
<rect x="258.00" y="64.37" width="3.73" height="8.97" fill="#dddff2"/>
<rect x="258.00" y="72.73" width="3.73" height="8.37" fill="#ffffff"/>
<rect x="261.12" y="56.00" width="3.73" height="8.97" fill="#ffffff"/>
<rect x="261.12" y="64.37" width="3.73" height="8.97" fill="#fddad9"/>
<rect x="261.12" y="72.73" width="3.73" height="8.37" fill="#ffffff"/>
<rect x="264.25" y="56.00" width="3.73" height="8.97" fill="#ffffff"/>
<rect x="264.25" y="64.37" width="3.73" height="8.97" fill="#a8aedc"/>
<rect x="264.25" y="72.73" width="3.73" height="8.37" fill="#dddff2"/>
<rect x="267.38" y="56.00" width="3.73" height="8.97" fill="#3e4ab2"/>
<rect x="267.38" y="64.37" width="3.73" height="8.97" fill="#ffffff"/>
<rect x="267.38" y="72.73" width="3.73" height="8.37" fill="#ffffff"/>
<rect x="270.50" y="56.00" width="4.35" height="8.97" fill="#3e4ab2"/>
<rect x="270.50" y="64.37" width="4.35" height="8.97" fill="#3e4ab2"/>
<rect x="270.50" y="72.73" width="4.35" height="8.37" fill="#3e4ab2"/>
<rect x="274.25" y="56.00" width="4.35" height="8.97" fill="#f7716b"/>
<rect x="274.25" y="64.37" width="4.35" height="8.97" fill="#fddad9"/>
<rect x="274.25" y="72.73" width="4.35" height="8.37" fill="#faaba7"/>
<rect x="278.00" y="56.00" width="3.10" height="8.97" fill="#f32c24"/>
<rect x="278.00" y="64.37" width="3.10" height="8.97" fill="#f7716b"/>
<rect x="278.00" y="72.73" width="3.10" height="8.37" fill="#faaba7"/>
<rect x="280.50" y="56.00" width="3.73" height="8.97" fill="#ffffff"/>
<rect x="280.50" y="64.37" width="3.73" height="8.97" fill="#ffffff"/>
<rect x="280.50" y="72.73" width="3.73" height="8.37" fill="#ffffff"/>
<rect x="283.62" y="56.00" width="4.35" height="8.97" fill="#3e4ab2"/>
<rect x="283.62" y="64.37" width="4.35" height="8.97" fill="#3e4ab2"/>
<rect x="283.62" y="72.73" width="4.35" height="8.37" fill="#3e4ab2"/>
<rect x="287.38" y="56.00" width="3.73" height="8.97" fill="#ffffff"/>
<rect x="287.38" y="64.37" width="3.73" height="8.97" fill="#f7716b"/>
<rect x="287.38" y="72.73" width="3.73" height="8.37" fill="#faaba7"/>
<rect x="290.50" y="56.00" width="3.73" height="8.97" fill="#3e4ab2"/>
<rect x="290.50" y="64.37" width="3.73" height="8.97" fill="#3e4ab2"/>
<rect x="290.50" y="72.73" width="3.73" height="8.37" fill="#3e4ab2"/>
<rect x="293.62" y="56.00" width="3.73" height="8.97" fill="#ffffff"/>
<rect x="293.62" y="64.37" width="3.73" height="8.97" fill="#ffffff"/>
<rect x="293.62" y="72.73" width="3.73" height="8.37" fill="#ffffff"/>
<rect x="296.75" y="56.00" width="3.73" height="8.97" fill="#a8aedc"/>
<rect x="296.75" y="64.37" width="3.73" height="8.97" fill="#dddff2"/>
<rect x="296.75" y="72.73" width="3.73" height="8.37" fill="#dddff2"/>
<rect x="299.88" y="56.00" width="4.35" height="8.97" fill="#7880c9"/>
<rect x="299.88" y="64.37" width="4.35" height="8.97" fill="#3e4ab2"/>
<rect x="299.88" y="72.73" width="4.35" height="8.37" fill="#3e4ab2"/>
<rect x="303.62" y="56.00" width="4.35" height="8.97" fill="#ffffff"/>
<rect x="303.62" y="64.37" width="4.35" height="8.97" fill="#7880c9"/>
<rect x="303.62" y="72.73" width="4.35" height="8.37" fill="#ffffff"/>
<rect x="307.38" y="56.00" width="3.73" height="8.97" fill="#a8aedc"/>
<rect x="307.38" y="64.37" width="3.73" height="8.97" fill="#7880c9"/>
<rect x="307.38" y="72.73" width="3.73" height="8.37" fill="#a8aedc"/>
<rect x="310.50" y="56.00" width="3.73" height="8.97" fill="#a8aedc"/>
<rect x="310.50" y="64.37" width="3.73" height="8.97" fill="#dddff2"/>
<rect x="310.50" y="72.73" width="3.73" height="8.37" fill="#dddff2"/>
<rect x="313.62" y="56.00" width="3.73" height="8.97" fill="#3e4ab2"/>
<rect x="313.62" y="64.37" width="3.73" height="8.97" fill="#3e4ab2"/>
<rect x="313.62" y="72.73" width="3.73" height="8.37" fill="#3e4ab2"/>
<rect x="316.75" y="56.00" width="3.73" height="8.97" fill="#ffffff"/>
<rect x="316.75" y="64.37" width="3.73" height="8.97" fill="#faaba7"/>
<rect x="316.75" y="72.73" width="3.73" height="8.37" fill="#ffffff"/>
<rect x="319.88" y="56.00" width="3.73" height="8.97" fill="#fddad9"/>
<rect x="319.88" y="64.37" width="3.73" height="8.97" fill="#dddff2"/>
<rect x="319.88" y="72.73" width="3.73" height="8.37" fill="#dddff2"/>
<rect x="323.00" y="56.00" width="3.73" height="8.97" fill="#f32c24"/>
<rect x="323.00" y="64.37" width="3.73" height="8.97" fill="#3e4ab2"/>
<rect x="323.00" y="72.73" width="3.73" height="8.37" fill="#3e4ab2"/>
<rect x="326.12" y="56.00" width="3.73" height="8.97" fill="#dddff2"/>
<rect x="326.12" y="64.37" width="3.73" height="8.97" fill="#ffffff"/>
<rect x="326.12" y="72.73" width="3.73" height="8.37" fill="#ffffff"/>
<rect x="329.25" y="56.00" width="3.73" height="8.97" fill="#faaba7"/>
<rect x="329.25" y="64.37" width="3.73" height="8.97" fill="#faaba7"/>
<rect x="329.25" y="72.73" width="3.73" height="8.37" fill="#faaba7"/>
<rect x="332.38" y="56.00" width="3.73" height="8.97" fill="#fddad9"/>
<rect x="332.38" y="64.37" width="3.73" height="8.97" fill="#fddad9"/>
<rect x="332.38" y="72.73" width="3.73" height="8.37" fill="#ffffff"/>
<rect x="335.50" y="56.00" width="4.35" height="8.97" fill="#3e4ab2"/>
<rect x="335.50" y="64.37" width="4.35" height="8.97" fill="#7880c9"/>
<rect x="335.50" y="72.73" width="4.35" height="8.37" fill="#a8aedc"/>
<rect x="339.25" y="56.00" width="4.35" height="8.97" fill="#dddff2"/>
<rect x="339.25" y="64.37" width="4.35" height="8.97" fill="#7880c9"/>
<rect x="339.25" y="72.73" width="4.35" height="8.37" fill="#7880c9"/>
<rect x="343.00" y="56.00" width="3.56" height="8.97" fill="#f32c24"/>
<rect x="343.00" y="64.37" width="3.56" height="8.97" fill="#f32c24"/>
<rect x="343.00" y="72.73" width="3.56" height="8.37" fill="#f7716b"/>
<rect x="345.96" y="56.00" width="3.70" height="8.97" fill="#dddff2"/>
<rect x="345.96" y="64.37" width="3.70" height="8.97" fill="#fddad9"/>
<rect x="345.96" y="72.73" width="3.70" height="8.37" fill="#ffffff"/>
<rect x="349.06" y="56.00" width="3.96" height="8.97" fill="#f32c24"/>
<rect x="349.06" y="64.37" width="3.96" height="8.97" fill="#f32c24"/>
<rect x="349.06" y="72.73" width="3.96" height="8.37" fill="#f7716b"/>
<rect x="352.42" y="56.00" width="3.96" height="8.97" fill="#fddad9"/>
<rect x="352.42" y="64.37" width="3.96" height="8.97" fill="#ffffff"/>
<rect x="352.42" y="72.73" width="3.96" height="8.37" fill="#fddad9"/>
<rect x="355.79" y="56.00" width="3.96" height="8.97" fill="#7880c9"/>
<rect x="355.79" y="64.37" width="3.96" height="8.97" fill="#ffffff"/>
<rect x="355.79" y="72.73" width="3.96" height="8.37" fill="#ffffff"/>
<rect x="359.15" y="56.00" width="3.96" height="8.97" fill="#f7716b"/>
<rect x="359.15" y="64.37" width="3.96" height="8.97" fill="#ffffff"/>
<rect x="359.15" y="72.73" width="3.96" height="8.37" fill="#ffffff"/>
<rect x="362.52" y="56.00" width="3.96" height="8.97" fill="#f7716b"/>
<rect x="362.52" y="64.37" width="3.96" height="8.97" fill="#fddad9"/>
<rect x="362.52" y="72.73" width="3.96" height="8.37" fill="#f7716b"/>
<rect x="365.88" y="56.00" width="3.96" height="8.97" fill="#f7716b"/>
<rect x="365.88" y="64.37" width="3.96" height="8.97" fill="#dddff2"/>
<rect x="365.88" y="72.73" width="3.96" height="8.37" fill="#ffffff"/>
<rect x="369.24" y="56.00" width="3.96" height="8.97" fill="#faaba7"/>
<rect x="369.24" y="64.37" width="3.96" height="8.97" fill="#ffffff"/>
<rect x="369.24" y="72.73" width="3.96" height="8.37" fill="#faaba7"/>
<rect x="372.61" y="56.00" width="3.96" height="8.97" fill="#faaba7"/>
<rect x="372.61" y="64.37" width="3.96" height="8.97" fill="#f32c24"/>
<rect x="372.61" y="72.73" width="3.96" height="8.37" fill="#f32c24"/>
<rect x="375.97" y="56.00" width="3.96" height="8.97" fill="#f32c24"/>
<rect x="375.97" y="64.37" width="3.96" height="8.97" fill="#fddad9"/>
<rect x="375.97" y="72.73" width="3.96" height="8.37" fill="#f7716b"/>
<rect x="379.34" y="56.00" width="3.96" height="8.97" fill="#f32c24"/>
<rect x="379.34" y="64.37" width="3.96" height="8.97" fill="#f7716b"/>
<rect x="379.34" y="72.73" width="3.96" height="8.37" fill="#f7716b"/>
<rect x="382.70" y="56.00" width="3.96" height="8.97" fill="#f7716b"/>
<rect x="382.70" y="64.37" width="3.96" height="8.97" fill="#fddad9"/>
<rect x="382.70" y="72.73" width="3.96" height="8.37" fill="#faaba7"/>
<rect x="386.07" y="56.00" width="3.96" height="8.97" fill="#ffffff"/>
<rect x="386.07" y="64.37" width="3.96" height="8.97" fill="#ffffff"/>
<rect x="386.07" y="72.73" width="3.96" height="8.37" fill="#ffffff"/>
<rect x="389.43" y="56.00" width="3.96" height="8.97" fill="#3e4ab2"/>
<rect x="389.43" y="64.37" width="3.96" height="8.97" fill="#f7716b"/>
<rect x="389.43" y="72.73" width="3.96" height="8.37" fill="#fddad9"/>
<rect x="392.80" y="56.00" width="3.96" height="8.97" fill="#f7716b"/>
<rect x="392.80" y="64.37" width="3.96" height="8.97" fill="#f32c24"/>
<rect x="392.80" y="72.73" width="3.96" height="8.37" fill="#faaba7"/>
<rect x="396.16" y="56.00" width="3.96" height="8.97" fill="#ffffff"/>
<rect x="396.16" y="64.37" width="3.96" height="8.97" fill="#dddff2"/>
<rect x="396.16" y="72.73" width="3.96" height="8.37" fill="#dddff2"/>
<rect x="399.53" y="56.00" width="3.96" height="8.97" fill="#f32c24"/>
<rect x="399.53" y="64.37" width="3.96" height="8.97" fill="#faaba7"/>
<rect x="399.53" y="72.73" width="3.96" height="8.37" fill="#f32c24"/>
<rect x="402.89" y="56.00" width="3.96" height="8.97" fill="#f32c24"/>
<rect x="402.89" y="64.37" width="3.96" height="8.97" fill="#f7716b"/>
<rect x="402.89" y="72.73" width="3.96" height="8.37" fill="#f7716b"/>
<rect x="406.26" y="56.00" width="4.84" height="8.97" fill="#faaba7"/>
<rect x="406.26" y="64.37" width="4.84" height="8.97" fill="#ffffff"/>
<rect x="406.26" y="72.73" width="4.84" height="8.37" fill="#fddad9"/>
<rect x="82.5" y="55.4" width="329.2" height="26.300000000000004" fill="none" stroke="#1a1a1a" stroke-width="1.1"/>
<rect x="83.10" y="86.80" width="3.00" height="8.20" fill="#fddad9"/>
<rect x="83.10" y="94.40" width="3.00" height="7.60" fill="#faaba7"/>
<rect x="85.50" y="86.80" width="3.73" height="8.20" fill="#ffffff"/>
<rect x="85.50" y="94.40" width="3.73" height="7.60" fill="#a8aedc"/>
<rect x="88.62" y="86.80" width="3.73" height="8.20" fill="#fddad9"/>
<rect x="88.62" y="94.40" width="3.73" height="7.60" fill="#ffffff"/>
<rect x="91.75" y="86.80" width="4.35" height="8.20" fill="#faaba7"/>
<rect x="91.75" y="94.40" width="4.35" height="7.60" fill="#ffffff"/>
<rect x="95.50" y="86.80" width="4.35" height="8.20" fill="#fddad9"/>
<rect x="95.50" y="94.40" width="4.35" height="7.60" fill="#7880c9"/>
<rect x="99.25" y="86.80" width="3.73" height="8.20" fill="#faaba7"/>
<rect x="99.25" y="94.40" width="3.73" height="7.60" fill="#fddad9"/>
<rect x="102.38" y="86.80" width="3.73" height="8.20" fill="#faaba7"/>
<rect x="102.38" y="94.40" width="3.73" height="7.60" fill="#ffffff"/>
<rect x="105.50" y="86.80" width="3.73" height="8.20" fill="#fddad9"/>
<rect x="105.50" y="94.40" width="3.73" height="7.60" fill="#ffffff"/>
<rect x="108.62" y="86.80" width="3.73" height="8.20" fill="#ffffff"/>
<rect x="108.62" y="94.40" width="3.73" height="7.60" fill="#fddad9"/>
<rect x="111.75" y="86.80" width="3.73" height="8.20" fill="#3e4ab2"/>
<rect x="111.75" y="94.40" width="3.73" height="7.60" fill="#7880c9"/>
<rect x="114.88" y="86.80" width="3.73" height="8.20" fill="#7880c9"/>
<rect x="114.88" y="94.40" width="3.73" height="7.60" fill="#3e4ab2"/>
<rect x="118.00" y="86.80" width="4.35" height="8.20" fill="#ffffff"/>
<rect x="118.00" y="94.40" width="4.35" height="7.60" fill="#ffffff"/>
<rect x="121.75" y="86.80" width="3.73" height="8.20" fill="#dddff2"/>
<rect x="121.75" y="94.40" width="3.73" height="7.60" fill="#fddad9"/>
<rect x="124.88" y="86.80" width="3.73" height="8.20" fill="#faaba7"/>
<rect x="124.88" y="94.40" width="3.73" height="7.60" fill="#f32c24"/>
<rect x="128.00" y="86.80" width="3.73" height="8.20" fill="#a8aedc"/>
<rect x="128.00" y="94.40" width="3.73" height="7.60" fill="#f7716b"/>
<rect x="131.12" y="86.80" width="3.73" height="8.20" fill="#3e4ab2"/>
<rect x="131.12" y="94.40" width="3.73" height="7.60" fill="#3e4ab2"/>
<rect x="134.25" y="86.80" width="3.73" height="8.20" fill="#ffffff"/>
<rect x="134.25" y="94.40" width="3.73" height="7.60" fill="#ffffff"/>
<rect x="137.38" y="86.80" width="3.73" height="8.20" fill="#3e4ab2"/>
<rect x="137.38" y="94.40" width="3.73" height="7.60" fill="#ffffff"/>
<rect x="140.50" y="86.80" width="4.35" height="8.20" fill="#ffffff"/>
<rect x="140.50" y="94.40" width="4.35" height="7.60" fill="#a8aedc"/>
<rect x="144.25" y="86.80" width="4.35" height="8.20" fill="#faaba7"/>
<rect x="144.25" y="94.40" width="4.35" height="7.60" fill="#7880c9"/>
<rect x="148.00" y="86.80" width="3.10" height="8.20" fill="#dddff2"/>
<rect x="148.00" y="94.40" width="3.10" height="7.60" fill="#7880c9"/>
<rect x="150.50" y="86.80" width="3.73" height="8.20" fill="#fddad9"/>
<rect x="150.50" y="94.40" width="3.73" height="7.60" fill="#dddff2"/>
<rect x="153.62" y="86.80" width="4.35" height="8.20" fill="#ffffff"/>
<rect x="153.62" y="94.40" width="4.35" height="7.60" fill="#ffffff"/>
<rect x="157.38" y="86.80" width="3.73" height="8.20" fill="#3e4ab2"/>
<rect x="157.38" y="94.40" width="3.73" height="7.60" fill="#3e4ab2"/>
<rect x="160.50" y="86.80" width="3.73" height="8.20" fill="#3e4ab2"/>
<rect x="160.50" y="94.40" width="3.73" height="7.60" fill="#7880c9"/>
<rect x="163.62" y="86.80" width="3.73" height="8.20" fill="#fddad9"/>
<rect x="163.62" y="94.40" width="3.73" height="7.60" fill="#a8aedc"/>
<rect x="166.75" y="86.80" width="3.73" height="8.20" fill="#7880c9"/>
<rect x="166.75" y="94.40" width="3.73" height="7.60" fill="#7880c9"/>
<rect x="169.88" y="86.80" width="4.35" height="8.20" fill="#dddff2"/>
<rect x="169.88" y="94.40" width="4.35" height="7.60" fill="#ffffff"/>
<rect x="173.62" y="86.80" width="3.73" height="8.20" fill="#a8aedc"/>
<rect x="173.62" y="94.40" width="3.73" height="7.60" fill="#fddad9"/>
<rect x="176.75" y="86.80" width="3.73" height="8.20" fill="#3e4ab2"/>
<rect x="176.75" y="94.40" width="3.73" height="7.60" fill="#3e4ab2"/>
<rect x="179.88" y="86.80" width="3.73" height="8.20" fill="#faaba7"/>
<rect x="179.88" y="94.40" width="3.73" height="7.60" fill="#7880c9"/>
<rect x="183.00" y="86.80" width="3.73" height="8.20" fill="#faaba7"/>
<rect x="183.00" y="94.40" width="3.73" height="7.60" fill="#ffffff"/>
<rect x="186.12" y="86.80" width="4.35" height="8.20" fill="#fddad9"/>
<rect x="186.12" y="94.40" width="4.35" height="7.60" fill="#ffffff"/>
<rect x="189.88" y="86.80" width="3.73" height="8.20" fill="#a8aedc"/>
<rect x="189.88" y="94.40" width="3.73" height="7.60" fill="#dddff2"/>
<rect x="193.00" y="86.80" width="3.73" height="8.20" fill="#dddff2"/>
<rect x="193.00" y="94.40" width="3.73" height="7.60" fill="#fddad9"/>
<rect x="196.12" y="86.80" width="3.73" height="8.20" fill="#7880c9"/>
<rect x="196.12" y="94.40" width="3.73" height="7.60" fill="#ffffff"/>
<rect x="199.25" y="86.80" width="4.35" height="8.20" fill="#ffffff"/>
<rect x="199.25" y="94.40" width="4.35" height="7.60" fill="#fddad9"/>
<rect x="203.00" y="86.80" width="3.73" height="8.20" fill="#dddff2"/>
<rect x="203.00" y="94.40" width="3.73" height="7.60" fill="#fddad9"/>
<rect x="206.12" y="86.80" width="3.73" height="8.20" fill="#3e4ab2"/>
<rect x="206.12" y="94.40" width="3.73" height="7.60" fill="#faaba7"/>
<rect x="209.25" y="86.80" width="4.35" height="8.20" fill="#fddad9"/>
<rect x="209.25" y="94.40" width="4.35" height="7.60" fill="#f7716b"/>
<rect x="213.00" y="86.80" width="3.10" height="8.20" fill="#a8aedc"/>
<rect x="213.00" y="94.40" width="3.10" height="7.60" fill="#fddad9"/>
<rect x="215.50" y="86.80" width="3.73" height="8.20" fill="#7880c9"/>
<rect x="215.50" y="94.40" width="3.73" height="7.60" fill="#faaba7"/>
<rect x="218.62" y="86.80" width="4.35" height="8.20" fill="#ffffff"/>
<rect x="218.62" y="94.40" width="4.35" height="7.60" fill="#ffffff"/>
<rect x="222.38" y="86.80" width="3.73" height="8.20" fill="#faaba7"/>
<rect x="222.38" y="94.40" width="3.73" height="7.60" fill="#fddad9"/>
<rect x="225.50" y="86.80" width="4.35" height="8.20" fill="#faaba7"/>
<rect x="225.50" y="94.40" width="4.35" height="7.60" fill="#faaba7"/>
<rect x="229.25" y="86.80" width="3.73" height="8.20" fill="#ffffff"/>
<rect x="229.25" y="94.40" width="3.73" height="7.60" fill="#fddad9"/>
<rect x="232.38" y="86.80" width="3.73" height="8.20" fill="#ffffff"/>
<rect x="232.38" y="94.40" width="3.73" height="7.60" fill="#ffffff"/>
<rect x="235.50" y="86.80" width="3.73" height="8.20" fill="#dddff2"/>
<rect x="235.50" y="94.40" width="3.73" height="7.60" fill="#3e4ab2"/>
<rect x="238.62" y="86.80" width="3.73" height="8.20" fill="#ffffff"/>
<rect x="238.62" y="94.40" width="3.73" height="7.60" fill="#7880c9"/>
<rect x="241.75" y="86.80" width="3.73" height="8.20" fill="#fddad9"/>
<rect x="241.75" y="94.40" width="3.73" height="7.60" fill="#faaba7"/>
<rect x="244.88" y="86.80" width="3.73" height="8.20" fill="#dddff2"/>
<rect x="244.88" y="94.40" width="3.73" height="7.60" fill="#a8aedc"/>
<rect x="248.00" y="86.80" width="3.73" height="8.20" fill="#f32c24"/>
<rect x="248.00" y="94.40" width="3.73" height="7.60" fill="#ffffff"/>
<rect x="251.12" y="86.80" width="3.73" height="8.20" fill="#7880c9"/>
<rect x="251.12" y="94.40" width="3.73" height="7.60" fill="#fddad9"/>
<rect x="254.25" y="86.80" width="3.73" height="8.20" fill="#fddad9"/>
<rect x="254.25" y="94.40" width="3.73" height="7.60" fill="#ffffff"/>
<rect x="257.38" y="86.80" width="3.73" height="8.20" fill="#faaba7"/>
<rect x="257.38" y="94.40" width="3.73" height="7.60" fill="#faaba7"/>
<rect x="260.50" y="86.80" width="3.73" height="8.20" fill="#fddad9"/>
<rect x="260.50" y="94.40" width="3.73" height="7.60" fill="#f7716b"/>
<rect x="263.62" y="86.80" width="3.73" height="8.20" fill="#fddad9"/>
<rect x="263.62" y="94.40" width="3.73" height="7.60" fill="#ffffff"/>
<rect x="266.75" y="86.80" width="3.73" height="8.20" fill="#ffffff"/>
<rect x="266.75" y="94.40" width="3.73" height="7.60" fill="#f32c24"/>
<rect x="269.88" y="86.80" width="4.97" height="8.20" fill="#3e4ab2"/>
<rect x="269.88" y="94.40" width="4.97" height="7.60" fill="#a8aedc"/>
<rect x="274.25" y="86.80" width="4.35" height="8.20" fill="#fddad9"/>
<rect x="274.25" y="94.40" width="4.35" height="7.60" fill="#fddad9"/>
<rect x="278.00" y="86.80" width="3.10" height="8.20" fill="#faaba7"/>
<rect x="278.00" y="94.40" width="3.10" height="7.60" fill="#f32c24"/>
<rect x="280.50" y="86.80" width="3.73" height="8.20" fill="#f32c24"/>
<rect x="280.50" y="94.40" width="3.73" height="7.60" fill="#f7716b"/>
<rect x="283.62" y="86.80" width="4.35" height="8.20" fill="#3e4ab2"/>
<rect x="283.62" y="94.40" width="4.35" height="7.60" fill="#3e4ab2"/>
<rect x="287.38" y="86.80" width="3.73" height="8.20" fill="#fddad9"/>
<rect x="287.38" y="94.40" width="3.73" height="7.60" fill="#7880c9"/>
<rect x="290.50" y="86.80" width="3.73" height="8.20" fill="#3e4ab2"/>
<rect x="290.50" y="94.40" width="3.73" height="7.60" fill="#3e4ab2"/>
<rect x="293.62" y="86.80" width="4.35" height="8.20" fill="#ffffff"/>
<rect x="293.62" y="94.40" width="4.35" height="7.60" fill="#dddff2"/>
<rect x="297.38" y="86.80" width="3.73" height="8.20" fill="#ffffff"/>
<rect x="297.38" y="94.40" width="3.73" height="7.60" fill="#ffffff"/>
<rect x="300.50" y="86.80" width="3.73" height="8.20" fill="#3e4ab2"/>
<rect x="300.50" y="94.40" width="3.73" height="7.60" fill="#3e4ab2"/>
<rect x="303.62" y="86.80" width="3.73" height="8.20" fill="#ffffff"/>
<rect x="303.62" y="94.40" width="3.73" height="7.60" fill="#ffffff"/>
<rect x="306.75" y="86.80" width="3.73" height="8.20" fill="#dddff2"/>
<rect x="306.75" y="94.40" width="3.73" height="7.60" fill="#7880c9"/>
<rect x="309.88" y="86.80" width="4.35" height="8.20" fill="#ffffff"/>
<rect x="309.88" y="94.40" width="4.35" height="7.60" fill="#7880c9"/>
<rect x="313.62" y="86.80" width="3.73" height="8.20" fill="#3e4ab2"/>
<rect x="313.62" y="94.40" width="3.73" height="7.60" fill="#3e4ab2"/>
<rect x="316.75" y="86.80" width="3.73" height="8.20" fill="#f7716b"/>
<rect x="316.75" y="94.40" width="3.73" height="7.60" fill="#f32c24"/>
<rect x="319.88" y="86.80" width="3.73" height="8.20" fill="#ffffff"/>
<rect x="319.88" y="94.40" width="3.73" height="7.60" fill="#faaba7"/>
<rect x="323.00" y="86.80" width="3.73" height="8.20" fill="#3e4ab2"/>
<rect x="323.00" y="94.40" width="3.73" height="7.60" fill="#7880c9"/>
<rect x="326.12" y="86.80" width="3.73" height="8.20" fill="#ffffff"/>
<rect x="326.12" y="94.40" width="3.73" height="7.60" fill="#fddad9"/>
<rect x="329.25" y="86.80" width="3.73" height="8.20" fill="#f7716b"/>
<rect x="329.25" y="94.40" width="3.73" height="7.60" fill="#f32c24"/>
<rect x="332.38" y="86.80" width="3.73" height="8.20" fill="#ffffff"/>
<rect x="332.38" y="94.40" width="3.73" height="7.60" fill="#faaba7"/>
<rect x="335.50" y="86.80" width="4.35" height="8.20" fill="#3e4ab2"/>
<rect x="335.50" y="94.40" width="4.35" height="7.60" fill="#7880c9"/>
<rect x="339.25" y="86.80" width="4.35" height="8.20" fill="#dddff2"/>
<rect x="339.25" y="94.40" width="4.35" height="7.60" fill="#a8aedc"/>
<rect x="343.00" y="86.80" width="3.56" height="8.20" fill="#f32c24"/>
<rect x="343.00" y="94.40" width="3.56" height="7.60" fill="#f32c24"/>
<rect x="345.96" y="86.80" width="3.70" height="8.20" fill="#faaba7"/>
<rect x="345.96" y="94.40" width="3.70" height="7.60" fill="#ffffff"/>
<rect x="349.06" y="86.80" width="4.64" height="8.20" fill="#f32c24"/>
<rect x="349.06" y="94.40" width="4.64" height="7.60" fill="#faaba7"/>
<rect x="353.09" y="86.80" width="3.96" height="8.20" fill="#f7716b"/>
<rect x="353.09" y="94.40" width="3.96" height="7.60" fill="#fddad9"/>
<rect x="356.46" y="86.80" width="3.96" height="8.20" fill="#fddad9"/>
<rect x="356.46" y="94.40" width="3.96" height="7.60" fill="#fddad9"/>
<rect x="359.82" y="86.80" width="3.96" height="8.20" fill="#faaba7"/>
<rect x="359.82" y="94.40" width="3.96" height="7.60" fill="#dddff2"/>
<rect x="363.19" y="86.80" width="3.96" height="8.20" fill="#f32c24"/>
<rect x="363.19" y="94.40" width="3.96" height="7.60" fill="#dddff2"/>
<rect x="366.55" y="86.80" width="3.96" height="8.20" fill="#ffffff"/>
<rect x="366.55" y="94.40" width="3.96" height="7.60" fill="#ffffff"/>
<rect x="369.92" y="86.80" width="3.96" height="8.20" fill="#f7716b"/>
<rect x="369.92" y="94.40" width="3.96" height="7.60" fill="#dddff2"/>
<rect x="373.28" y="86.80" width="3.96" height="8.20" fill="#f32c24"/>
<rect x="373.28" y="94.40" width="3.96" height="7.60" fill="#f7716b"/>
<rect x="376.65" y="86.80" width="3.96" height="8.20" fill="#f32c24"/>
<rect x="376.65" y="94.40" width="3.96" height="7.60" fill="#f32c24"/>
<rect x="380.01" y="86.80" width="3.96" height="8.20" fill="#f7716b"/>
<rect x="380.01" y="94.40" width="3.96" height="7.60" fill="#ffffff"/>
<rect x="383.38" y="86.80" width="3.96" height="8.20" fill="#faaba7"/>
<rect x="383.38" y="94.40" width="3.96" height="7.60" fill="#faaba7"/>
<rect x="386.74" y="86.80" width="3.96" height="8.20" fill="#f7716b"/>
<rect x="386.74" y="94.40" width="3.96" height="7.60" fill="#faaba7"/>
<rect x="390.11" y="86.80" width="3.96" height="8.20" fill="#f32c24"/>
<rect x="390.11" y="94.40" width="3.96" height="7.60" fill="#faaba7"/>
<rect x="393.47" y="86.80" width="3.29" height="8.20" fill="#f7716b"/>
<rect x="393.47" y="94.40" width="3.29" height="7.60" fill="#f7716b"/>
<rect x="396.16" y="86.80" width="3.29" height="8.20" fill="#ffffff"/>
<rect x="396.16" y="94.40" width="3.29" height="7.60" fill="#faaba7"/>
<rect x="398.85" y="86.80" width="3.96" height="8.20" fill="#f32c24"/>
<rect x="398.85" y="94.40" width="3.96" height="7.60" fill="#f32c24"/>
<rect x="402.22" y="86.80" width="3.96" height="8.20" fill="#f32c24"/>
<rect x="402.22" y="94.40" width="3.96" height="7.60" fill="#f7716b"/>
<rect x="405.58" y="86.80" width="5.52" height="8.20" fill="#faaba7"/>
<rect x="405.58" y="94.40" width="5.52" height="7.60" fill="#faaba7"/>
<rect x="82.5" y="86.2" width="329.2" height="16.39999999999999" fill="none" stroke="#1a1a1a" stroke-width="1.1"/>
<path fill="#dec0d8" d="M83.10 126.80h0.90v8.67h-0.90zM167.00 126.80h1.00v8.67h-1.00zM320.00 126.80h1.00v8.67h-1.00z"/>
<path fill="#9c8aa8" d="M84.00 126.80h1.00v8.67h-1.00z"/>
<path fill="#f0e4f6" d="M85.00 126.80h1.00v8.67h-1.00z"/>
<path fill="#d2d2fc" d="M86.00 126.80h1.00v8.67h-1.00z"/>
<path fill="#424e9c" d="M87.00 126.80h1.00v8.67h-1.00z"/>
<path fill="#5a66ba" d="M88.00 126.80h1.00v8.67h-1.00z"/>
<path fill="#787ec0" d="M89.00 126.80h1.00v8.67h-1.00z"/>
<path fill="#ccd2ff" d="M90.00 126.80h1.00v8.67h-1.00z"/>
<path fill="#848aba" d="M91.00 126.80h1.00v8.67h-1.00z"/>
<path fill="#aeb4e4" d="M92.00 126.80h1.00v8.67h-1.00z"/>
<path fill="#aeb4de" d="M93.00 126.80h1.00v8.67h-1.00z"/>
<path fill="#a8aee4" d="M94.00 126.80h1.00v8.67h-1.00z"/>
<path fill="#666cba" d="M95.00 126.80h1.00v8.67h-1.00z"/>
<path fill="#4e54a8" d="M96.00 126.80h1.00v8.67h-1.00z"/>
<path fill="#a8b4f0" d="M97.00 126.80h1.00v8.67h-1.00z"/>
<path fill="#8a90c0" d="M98.00 126.80h1.00v8.67h-1.00z"/>
<path fill="#eaeaff" d="M99.00 126.80h1.00v8.67h-1.00z"/>
<path fill="#aeb4ea" d="M100.00 126.80h1.00v8.67h-1.00z"/>
<path fill="#424e96" d="M101.00 126.80h1.00v8.67h-1.00zM151.00 126.80h1.00v8.67h-1.00z"/>
<path fill="#b4a8de" d="M102.00 126.80h1.00v8.67h-1.00z"/>
<path fill="#deaec6" d="M103.00 126.80h1.00v8.67h-1.00zM297.00 126.80h1.00v8.67h-1.00z"/>
<path fill="#844e84" d="M104.00 126.80h1.00v8.67h-1.00z"/>
<path fill="#5a4ea2" d="M105.00 126.80h1.00v8.67h-1.00z"/>
<path fill="#545aae" d="M106.00 126.80h1.00v8.67h-1.00z"/>
<path fill="#c0bae4" d="M107.00 126.80h1.00v8.67h-1.00z"/>
<path fill="#ded8f6" d="M108.00 126.80h1.00v8.67h-1.00z"/>
<path fill="#969cd2" d="M109.00 126.80h1.00v8.67h-1.00z"/>
<path fill="#8466a2" d="M110.00 126.80h1.00v8.67h-1.00z"/>
<path fill="#a86084" d="M111.00 126.80h1.00v8.67h-1.00z"/>
<path fill="#c084a2" d="M112.00 126.80h1.00v8.67h-1.00z"/>
<path fill="#f6c0c6" d="M113.00 126.80h1.00v8.67h-1.00z"/>
<path fill="#dea2ba" d="M114.00 126.80h1.00v8.67h-1.00z"/>
<path fill="#664e96" d="M115.00 126.80h1.00v8.67h-1.00z"/>
<path fill="#6066c6" d="M116.00 126.80h1.00v8.67h-1.00z"/>
<path fill="#484ea2" d="M117.00 126.80h1.00v8.67h-1.00z"/>
<path fill="#a290c6" d="M118.00 126.80h1.00v8.67h-1.00z"/>
<path fill="#f0b4c6" d="M119.00 126.80h1.00v8.67h-1.00z"/>
<path fill="#d88a90" d="M120.00 126.80h1.00v8.67h-1.00z"/>
<path fill="#e496a2" d="M121.00 126.80h1.00v8.67h-1.00z"/>
<path fill="#c67e8a" d="M122.00 126.80h1.00v8.67h-1.00z"/>
<path fill="#f0c6d2" d="M123.00 126.80h1.00v8.67h-1.00z"/>
<path fill="#ccaecc" d="M124.00 126.80h1.00v8.67h-1.00zM274.00 126.80h1.00v8.67h-1.00z"/>
<path fill="#9078a2" d="M125.00 126.80h1.00v8.67h-1.00z"/>
<path fill="#ccbaea" d="M126.00 126.80h1.00v8.67h-1.00z"/>
<path fill="#8a6c96" d="M127.00 126.80h1.00v8.67h-1.00z"/>
<path fill="#d8bad8" d="M128.00 126.80h1.00v8.67h-1.00z"/>
<path fill="#d8ccf0" d="M129.00 126.80h1.00v8.67h-1.00z"/>
<path fill="#6c72ae" d="M130.00 126.80h1.00v8.67h-1.00z"/>
<path fill="#9c96d8" d="M131.00 126.80h1.00v8.67h-1.00z"/>
<path fill="#8472ae" d="M132.00 126.80h1.00v8.67h-1.00z"/>
<path fill="#7866a8" d="M133.00 126.80h1.00v8.67h-1.00z"/>
<path fill="#7878b4" d="M134.00 126.80h1.00v8.67h-1.00z"/>
<path fill="#d2d8fc" d="M135.00 126.80h1.00v8.67h-1.00z"/>
<path fill="#c6ccf0" d="M136.00 126.80h1.00v8.67h-1.00z"/>
<path fill="#9ca2d2" d="M137.00 126.80h1.00v8.67h-1.00z"/>
<path fill="#8a90cc" d="M138.00 126.80h1.00v8.67h-1.00z"/>
<path fill="#969ce4" d="M139.00 126.80h1.00v8.67h-1.00z"/>
<path fill="#545aa8" d="M140.00 126.80h1.00v8.67h-1.00z"/>
<path fill="#848ad2" d="M141.00 126.80h1.00v8.67h-1.00zM247.00 126.80h1.00v8.67h-1.00z"/>
<path fill="#968ac0" d="M142.00 126.80h1.00v8.67h-1.00z"/>
<path fill="#d29cba" d="M143.00 126.80h1.00v8.67h-1.00zM405.00 126.80h1.00v8.67h-1.00z"/>
<path fill="#b47ea8" d="M144.00 126.80h1.00v8.67h-1.00z"/>
<path fill="#4e4896" d="M145.00 126.80h1.00v8.67h-1.00z"/>
<path fill="#5a489c" d="M146.00 126.80h1.00v8.67h-1.00z"/>
<path fill="#ae7ea2" d="M147.00 126.80h1.00v8.67h-1.00z"/>
<path fill="#c6a8d2" d="M148.00 126.80h1.00v8.67h-1.00z"/>
<path fill="#7e7eb4" d="M149.00 126.80h1.00v8.67h-1.00z"/>
<path fill="#a8aef0" d="M150.00 126.80h1.00v8.67h-1.00zM152.00 126.80h1.00v8.67h-1.00z"/>
<path fill="#8a90c6" d="M153.00 126.80h1.00v8.67h-1.00z"/>
<path fill="#bac0f0" d="M154.00 126.80h1.00v8.67h-1.00z"/>
<path fill="#baa2c6" d="M155.00 126.80h1.00v8.67h-1.00z"/>
<path fill="#ba7e96" d="M156.00 126.80h1.00v8.67h-1.00z"/>
<path fill="#dec6de" d="M157.00 126.80h1.00v8.67h-1.00z"/>
<path fill="#bab4d2" d="M158.00 126.80h1.00v8.67h-1.00z"/>
<path fill="#ead8f0" d="M159.00 126.80h1.00v8.67h-1.00z"/>
<path fill="#bab4cc" d="M160.00 126.80h1.00v8.67h-1.00z"/>
<path fill="#e4def6" d="M161.00 126.80h1.00v8.67h-1.00z"/>
<path fill="#ccc6f0" d="M162.00 126.80h1.00v8.67h-1.00z"/>
<path fill="#7e5484" d="M163.00 126.80h1.00v8.67h-1.00z"/>
<path fill="#d28aa8" d="M164.00 126.80h1.00v8.67h-1.00z"/>
<path fill="#906084" d="M165.00 126.80h1.00v8.67h-1.00z"/>
<path fill="#d8d2f6" d="M166.00 126.80h1.00v8.67h-1.00z"/>
<path fill="#ba606c" d="M168.00 126.80h1.00v8.67h-1.00z"/>
<path fill="#ff9090" d="M169.00 126.80h1.00v8.67h-1.00z"/>
<path fill="#d85a5a" d="M170.00 126.80h1.00v8.67h-1.00z"/>
<path fill="#ea8a90" d="M171.00 126.80h1.00v8.67h-1.00z"/>
<path fill="#fca8ae" d="M172.00 126.80h1.00v8.67h-1.00z"/>
<path fill="#f0908a" d="M173.00 126.80h1.00v8.67h-1.00z"/>
<path fill="#ea9090" d="M174.00 126.80h1.00v8.67h-1.00z"/>
<path fill="#e4aeba" d="M175.00 126.80h1.00v8.67h-1.00z"/>
<path fill="#d2b4cc" d="M176.00 126.80h1.00v8.67h-1.00z"/>
<path fill="#a296c6" d="M177.00 126.80h1.00v8.67h-1.00z"/>
<path fill="#b4a2c6" d="M178.00 126.80h1.00v8.67h-1.00z"/>
<path fill="#d290a8" d="M179.00 126.80h1.00v8.67h-1.00z"/>
<path fill="#d28a9c" d="M180.00 126.80h1.00v8.67h-1.00z"/>
<path fill="#c696ae" d="M181.00 126.80h1.00v8.67h-1.00zM352.00 126.80h1.00v8.67h-1.00z"/>
<path fill="#f0c0d2" d="M182.00 126.80h1.00v8.67h-1.00z"/>
<path fill="#ba788a" d="M183.00 126.80h1.00v8.67h-1.00z"/>
<path fill="#e4909c" d="M184.00 126.80h1.00v8.67h-1.00z"/>
<path fill="#cc787e" d="M185.00 126.80h1.00v8.67h-1.00z"/>
<path fill="#fcbacc" d="M186.00 126.80h1.00v8.67h-1.00z"/>
<path fill="#a26072" d="M187.00 126.80h1.00v8.67h-1.00z"/>
<path fill="#f6ccde" d="M188.00 126.80h1.00v8.67h-1.00z"/>
<path fill="#aeaed2" d="M189.00 126.80h1.00v8.67h-1.00z"/>
<path fill="#c6aecc" d="M190.00 126.80h1.00v8.67h-1.00z"/>
<path fill="#d26c7e" d="M191.00 126.80h1.00v8.67h-1.00z"/>
<path fill="#fc605a" d="M192.00 126.80h1.00v8.67h-1.00z"/>
<path fill="#ea302a" d="M193.00 126.80h1.00v8.67h-1.00zM411.00 126.80h0.10v8.67h-0.10z"/>
<path fill="#d23642" d="M194.00 126.80h1.00v8.67h-1.00z"/>
<path fill="#ae4866" d="M195.00 126.80h1.00v8.67h-1.00z"/>
<path fill="#c6668a" d="M196.00 126.80h1.00v8.67h-1.00z"/>
<path fill="#90547e" d="M197.00 126.80h1.00v8.67h-1.00z"/>
<path fill="#ccb4d2" d="M198.00 126.80h1.00v8.67h-1.00z"/>
<path fill="#eac6d8" d="M199.00 126.80h1.00v8.67h-1.00z"/>
<path fill="#a896c0" d="M200.00 126.80h1.00v8.67h-1.00z"/>
<path fill="#8484b4" d="M201.00 126.80h1.00v8.67h-1.00z"/>
<path fill="#ffdef0" d="M202.00 126.80h1.00v8.67h-1.00z"/>
<path fill="#c6787e" d="M203.00 126.80h1.00v8.67h-1.00z"/>
<path fill="#f09ca8" d="M204.00 126.80h1.00v8.67h-1.00z"/>
<path fill="#ba727e" d="M205.00 126.80h1.00v8.67h-1.00zM267.00 126.80h1.00v8.67h-1.00z"/>
<path fill="#ffd2d8" d="M206.00 126.80h1.00v8.67h-1.00z"/>
<path fill="#c08aa2" d="M207.00 126.80h1.00v8.67h-1.00zM290.00 126.80h1.00v8.67h-1.00z"/>
<path fill="#a27ea8" d="M208.00 126.80h1.00v8.67h-1.00z"/>
<path fill="#a27ea2" d="M209.00 126.80h1.00v8.67h-1.00z"/>
<path fill="#f6b4c0" d="M210.00 126.80h1.00v8.67h-1.00zM378.00 126.80h1.00v8.67h-1.00z"/>
<path fill="#de96a2" d="M211.00 126.80h1.00v8.67h-1.00zM234.00 126.80h1.00v8.67h-1.00z"/>
<path fill="#cc8a96" d="M212.00 126.80h1.00v8.67h-1.00zM273.00 126.80h1.00v8.67h-1.00zM292.00 126.80h1.00v8.67h-1.00zM333.00 126.80h1.00v8.67h-1.00z"/>
<path fill="#fcc6cc" d="M213.00 126.80h1.00v8.67h-1.00zM216.00 126.80h1.00v8.67h-1.00z"/>
<path fill="#ffc6c0" d="M214.00 126.80h1.00v8.67h-1.00z"/>
<path fill="#e49696" d="M215.00 126.80h1.00v8.67h-1.00z"/>
<path fill="#deccd8" d="M217.00 126.80h1.00v8.67h-1.00zM341.00 126.80h1.00v8.67h-1.00z"/>
<path fill="#fcf0fc" d="M218.00 126.80h1.00v8.67h-1.00z"/>
<path fill="#fce4e4" d="M219.00 126.80h1.00v8.67h-1.00z"/>
<path fill="#ffd2cc" d="M220.00 126.80h1.00v8.67h-1.00z"/>
<path fill="#f6a8a8" d="M221.00 126.80h1.00v8.67h-1.00z"/>
<path fill="#e49c9c" d="M222.00 126.80h1.00v8.67h-1.00z"/>
<path fill="#fcd8de" d="M223.00 126.80h1.00v8.67h-1.00z"/>
<path fill="#f6d2d8" d="M224.00 126.80h1.00v8.67h-1.00z"/>
<path fill="#eabac0" d="M225.00 126.80h1.00v8.67h-1.00zM343.00 126.80h1.00v8.67h-1.00z"/>
<path fill="#d8b4c6" d="M226.00 126.80h1.00v8.67h-1.00z"/>
<path fill="#f0c0cc" d="M227.00 126.80h1.00v8.67h-1.00z"/>
<path fill="#c67e96" d="M228.00 126.80h1.00v8.67h-1.00z"/>
<path fill="#845a90" d="M229.00 126.80h1.00v8.67h-1.00z"/>
<path fill="#847eba" d="M230.00 126.80h1.00v8.67h-1.00z"/>
<path fill="#ead8f6" d="M231.00 126.80h1.00v8.67h-1.00z"/>
<path fill="#d2aec6" d="M232.00 126.80h1.00v8.67h-1.00z"/>
<path fill="#ae84a2" d="M233.00 126.80h1.00v8.67h-1.00z"/>
<path fill="#f0aeb4" d="M235.00 126.80h1.00v8.67h-1.00zM318.00 126.80h1.00v8.67h-1.00zM340.00 126.80h1.00v8.67h-1.00z"/>
<path fill="#ead8e4" d="M236.00 126.80h1.00v8.67h-1.00z"/>
<path fill="#c0c6e4" d="M237.00 126.80h1.00v8.67h-1.00z"/>
<path fill="#d2c6de" d="M238.00 126.80h1.00v8.67h-1.00z"/>
<path fill="#f0ccd8" d="M239.00 126.80h1.00v8.67h-1.00z"/>
<path fill="#e4baba" d="M240.00 126.80h1.00v8.67h-1.00z"/>
<path fill="#fff0f6" d="M241.00 126.80h1.00v8.67h-1.00z"/>
<path fill="#f0bac6" d="M242.00 126.80h1.00v8.67h-1.00z"/>
<path fill="#c66066" d="M243.00 126.80h1.00v8.67h-1.00z"/>
<path fill="#ffb4b4" d="M244.00 126.80h1.00v8.67h-1.00zM264.00 126.80h1.00v8.67h-1.00z"/>
<path fill="#c68aa2" d="M245.00 126.80h1.00v8.67h-1.00z"/>
<path fill="#7e66a2" d="M246.00 126.80h1.00v8.67h-1.00z"/>
<path fill="#907eae" d="M248.00 126.80h1.00v8.67h-1.00z"/>
<path fill="#d896a8" d="M249.00 126.80h1.00v8.67h-1.00z"/>
<path fill="#ffc6c6" d="M250.00 126.80h1.00v8.67h-1.00zM409.00 126.80h1.00v8.67h-1.00z"/>
<path fill="#f6b4ba" d="M251.00 126.80h1.00v8.67h-1.00z"/>
<path fill="#f08a8a" d="M252.00 126.80h1.00v8.67h-1.00z"/>
<path fill="#ea847e" d="M253.00 126.80h1.00v8.67h-1.00zM362.00 126.80h1.00v8.67h-1.00z"/>
<path fill="#ffbaba" d="M254.00 126.80h1.00v8.67h-1.00zM364.00 126.80h1.00v8.67h-1.00z"/>
<path fill="#fcccc6" d="M255.00 126.80h1.00v8.67h-1.00z"/>
<path fill="#fcd8d8" d="M256.00 126.80h1.00v8.67h-1.00z"/>
<path fill="#ffd8d8" d="M257.00 126.80h1.00v8.67h-1.00z"/>
<path fill="#d26c72" d="M258.00 126.80h1.00v8.67h-1.00z"/>
<path fill="#b4607e" d="M259.00 126.80h1.00v8.67h-1.00z"/>
<path fill="#a884ae" d="M260.00 126.80h1.00v8.67h-1.00z"/>
<path fill="#d2a2ba" d="M261.00 126.80h1.00v8.67h-1.00z"/>
<path fill="#fcc0c6" d="M262.00 126.80h1.00v8.67h-1.00z"/>
<path fill="#e49090" d="M263.00 126.80h1.00v8.67h-1.00z"/>
<path fill="#e4aeae" d="M265.00 126.80h1.00v8.67h-1.00z"/>
<path fill="#ffccd8" d="M266.00 126.80h1.00v8.67h-1.00z"/>
<path fill="#f0b4c0" d="M268.00 126.80h1.00v8.67h-1.00z"/>
<path fill="#f0b4ba" d="M269.00 126.80h1.00v8.67h-1.00z"/>
<path fill="#eaaec0" d="M270.00 126.80h1.00v8.67h-1.00z"/>
<path fill="#9c7296" d="M271.00 126.80h1.00v8.67h-1.00z"/>
<path fill="#e4aec6" d="M272.00 126.80h1.00v8.67h-1.00z"/>
<path fill="#b4b4de" d="M275.00 126.80h1.00v8.67h-1.00z"/>
<path fill="#b4aed2" d="M276.00 126.80h1.00v8.67h-1.00z"/>
<path fill="#fcc6d2" d="M277.00 126.80h1.00v8.67h-1.00z"/>
<path fill="#e45a54" d="M278.00 126.80h1.00v8.67h-1.00zM410.00 126.80h1.00v8.67h-1.00z"/>
<path fill="#d84e54" d="M279.00 126.80h1.00v8.67h-1.00z"/>
<path fill="#ba6078" d="M280.00 126.80h1.00v8.67h-1.00z"/>
<path fill="#de8490" d="M281.00 126.80h1.00v8.67h-1.00z"/>
<path fill="#ff8a84" d="M282.00 126.80h1.00v8.67h-1.00z"/>
<path fill="#c04242" d="M283.00 126.80h1.00v8.67h-1.00z"/>
<path fill="#f0c0e4" d="M284.00 126.80h1.00v8.67h-1.00z"/>
<path fill="#6066b4" d="M285.00 126.80h1.00v8.67h-1.00z"/>
<path fill="#4248a8" d="M286.00 126.80h1.00v8.67h-1.00z"/>
<path fill="#6c72b4" d="M287.00 126.80h1.00v8.67h-1.00z"/>
<path fill="#d8d2f0" d="M288.00 126.80h1.00v8.67h-1.00z"/>
<path fill="#f0ccde" d="M289.00 126.80h1.00v8.67h-1.00z"/>
<path fill="#c68aa8" d="M291.00 126.80h1.00v8.67h-1.00z"/>
<path fill="#eaa2a8" d="M293.00 126.80h1.00v8.67h-1.00z"/>
<path fill="#f69696" d="M294.00 126.80h1.00v8.67h-1.00z"/>
<path fill="#f0605a" d="M295.00 126.80h1.00v8.67h-1.00z"/>
<path fill="#cc545a" d="M296.00 126.80h1.00v8.67h-1.00z"/>
<path fill="#c6bade" d="M298.00 126.80h1.00v8.67h-1.00z"/>
<path fill="#9c96c0" d="M299.00 126.80h1.00v8.67h-1.00z"/>
<path fill="#babae4" d="M300.00 126.80h1.00v8.67h-1.00z"/>
<path fill="#b4bad8" d="M301.00 126.80h1.00v8.67h-1.00z"/>
<path fill="#e4deff" d="M302.00 126.80h1.00v8.67h-1.00z"/>
<path fill="#7e78a8" d="M303.00 126.80h1.00v8.67h-1.00z"/>
<path fill="#c0c0ea" d="M304.00 126.80h1.00v8.67h-1.00z"/>
<path fill="#c0b4d2" d="M305.00 126.80h1.00v8.67h-1.00z"/>
<path fill="#ead2d8" d="M306.00 126.80h1.00v8.67h-1.00z"/>
<path fill="#fff0ff" d="M307.00 126.80h1.00v8.67h-1.00z"/>
<path fill="#a28aa8" d="M308.00 126.80h1.00v8.67h-1.00z"/>
<path fill="#ae7ea8" d="M309.00 126.80h1.00v8.67h-1.00z"/>
<path fill="#9c6c9c" d="M310.00 126.80h1.00v8.67h-1.00z"/>
<path fill="#8a486c" d="M311.00 126.80h1.00v8.67h-1.00z"/>
<path fill="#f6bac6" d="M312.00 126.80h1.00v8.67h-1.00z"/>
<path fill="#ffccd2" d="M313.00 126.80h1.00v8.67h-1.00z"/>
<path fill="#d89096" d="M314.00 126.80h1.00v8.67h-1.00z"/>
<path fill="#d296a8" d="M315.00 126.80h1.00v8.67h-1.00z"/>
<path fill="#fcccd8" d="M316.00 126.80h1.00v8.67h-1.00z"/>
<path fill="#dea2a8" d="M317.00 126.80h1.00v8.67h-1.00z"/>
<path fill="#f0baba" d="M319.00 126.80h1.00v8.67h-1.00z"/>
<path fill="#7e78a2" d="M321.00 126.80h1.00v8.67h-1.00z"/>
<path fill="#dec6ea" d="M322.00 126.80h1.00v8.67h-1.00z"/>
<path fill="#ae8aae" d="M323.00 126.80h1.00v8.67h-1.00zM400.00 126.80h1.00v8.67h-1.00z"/>
<path fill="#72669c" d="M324.00 126.80h1.00v8.67h-1.00z"/>
<path fill="#eae4ff" d="M325.00 126.80h1.00v8.67h-1.00z"/>
<path fill="#d8ccea" d="M326.00 126.80h1.00v8.67h-1.00z"/>
<path fill="#9c7ea8" d="M327.00 126.80h1.00v8.67h-1.00z"/>
<path fill="#c6849c" d="M328.00 126.80h1.00v8.67h-1.00z"/>
<path fill="#cc90a8" d="M329.00 126.80h1.00v8.67h-1.00z"/>
<path fill="#9084b4" d="M330.00 126.80h1.00v8.67h-1.00z"/>
<path fill="#aeaede" d="M331.00 126.80h1.00v8.67h-1.00z"/>
<path fill="#eadef6" d="M332.00 126.80h1.00v8.67h-1.00z"/>
<path fill="#d87278" d="M334.00 126.80h1.00v8.67h-1.00z"/>
<path fill="#f6b4c6" d="M335.00 126.80h1.00v8.67h-1.00z"/>
<path fill="#ae90b4" d="M336.00 126.80h1.00v8.67h-1.00z"/>
<path fill="#a8729c" d="M337.00 126.80h1.00v8.67h-1.00z"/>
<path fill="#a86c90" d="M338.00 126.80h1.00v8.67h-1.00z"/>
<path fill="#eaa2ae" d="M339.00 126.80h1.00v8.67h-1.00z"/>
<path fill="#e4d8e4" d="M342.00 126.80h1.00v8.67h-1.00z"/>
<path fill="#dea8ba" d="M344.00 126.80h1.00v8.67h-1.00z"/>
<path fill="#c0a2ba" d="M345.00 126.80h1.00v8.67h-1.00z"/>
<path fill="#f0e4ff" d="M346.00 126.80h1.00v8.67h-1.00z"/>
<path fill="#846c90" d="M347.00 126.80h1.00v8.67h-1.00z"/>
<path fill="#f0b4cc" d="M348.00 126.80h1.00v8.67h-1.00z"/>
<path fill="#a86c7e" d="M349.00 126.80h1.00v8.67h-1.00z"/>
<path fill="#eabad2" d="M350.00 126.80h1.00v8.67h-1.00z"/>
<path fill="#ba7e90" d="M351.00 126.80h1.00v8.67h-1.00z"/>
<path fill="#c0a2c0" d="M353.00 126.80h1.00v8.67h-1.00z"/>
<path fill="#d8c0d8" d="M354.00 126.80h1.00v8.67h-1.00z"/>
<path fill="#c6c0e4" d="M355.00 126.80h1.00v8.67h-1.00z"/>
<path fill="#9090cc" d="M356.00 126.80h1.00v8.67h-1.00z"/>
<path fill="#726096" d="M357.00 126.80h1.00v8.67h-1.00z"/>
<path fill="#e4b4cc" d="M358.00 126.80h1.00v8.67h-1.00z"/>
<path fill="#ffcccc" d="M359.00 126.80h1.00v8.67h-1.00z"/>
<path fill="#c6726c" d="M360.00 126.80h1.00v8.67h-1.00z"/>
<path fill="#ffded8" d="M361.00 126.80h1.00v8.67h-1.00z"/>
<path fill="#e4726c" d="M363.00 126.80h1.00v8.67h-1.00z"/>
<path fill="#d8969c" d="M365.00 126.80h1.00v8.67h-1.00z"/>
<path fill="#eac0cc" d="M366.00 126.80h1.00v8.67h-1.00z"/>
<path fill="#ccc6de" d="M367.00 126.80h1.00v8.67h-1.00z"/>
<path fill="#c6c0de" d="M368.00 126.80h1.00v8.67h-1.00z"/>
<path fill="#ffe4ea" d="M369.00 126.80h1.00v8.67h-1.00z"/>
<path fill="#de969c" d="M370.00 126.80h1.00v8.67h-1.00z"/>
<path fill="#ae5a72" d="M371.00 126.80h1.00v8.67h-1.00z"/>
<path fill="#d2728a" d="M372.00 126.80h1.00v8.67h-1.00z"/>
<path fill="#ae546c" d="M373.00 126.80h1.00v8.67h-1.00z"/>
<path fill="#b490b4" d="M374.00 126.80h1.00v8.67h-1.00z"/>
<path fill="#ffd8f0" d="M375.00 126.80h1.00v8.67h-1.00z"/>
<path fill="#cc5a5a" d="M376.00 126.80h1.00v8.67h-1.00z"/>
<path fill="#f67e78" d="M377.00 126.80h1.00v8.67h-1.00z"/>
<path fill="#90608a" d="M379.00 126.80h1.00v8.67h-1.00z"/>
<path fill="#ea909c" d="M380.00 126.80h1.00v8.67h-1.00z"/>
<path fill="#de7884" d="M381.00 126.80h1.00v8.67h-1.00z"/>
<path fill="#c07890" d="M382.00 126.80h1.00v8.67h-1.00z"/>
<path fill="#de8a96" d="M383.00 126.80h1.00v8.67h-1.00z"/>
<path fill="#f0a8b4" d="M384.00 126.80h1.00v8.67h-1.00z"/>
<path fill="#d2a2b4" d="M385.00 126.80h1.00v8.67h-1.00z"/>
<path fill="#de909c" d="M386.00 126.80h1.00v8.67h-1.00z"/>
<path fill="#e49ca2" d="M387.00 126.80h1.00v8.67h-1.00z"/>
<path fill="#fcd8ea" d="M388.00 126.80h1.00v8.67h-1.00z"/>
<path fill="#b49cba" d="M389.00 126.80h1.00v8.67h-1.00z"/>
<path fill="#a284a8" d="M390.00 126.80h1.00v8.67h-1.00zM392.00 126.80h1.00v8.67h-1.00z"/>
<path fill="#d2c6ea" d="M391.00 126.80h1.00v8.67h-1.00z"/>
<path fill="#dea2ae" d="M393.00 126.80h1.00v8.67h-1.00z"/>
<path fill="#fccccc" d="M394.00 126.80h1.00v8.67h-1.00z"/>
<path fill="#fcccd2" d="M395.00 126.80h1.00v8.67h-1.00z"/>
<path fill="#ea8a8a" d="M396.00 126.80h1.00v8.67h-1.00z"/>
<path fill="#f66660" d="M397.00 126.80h1.00v8.67h-1.00z"/>
<path fill="#de5454" d="M398.00 126.80h1.00v8.67h-1.00z"/>
<path fill="#f0a8ba" d="M399.00 126.80h1.00v8.67h-1.00z"/>
<path fill="#c07290" d="M401.00 126.80h1.00v8.67h-1.00z"/>
<path fill="#b46684" d="M402.00 126.80h1.00v8.67h-1.00z"/>
<path fill="#966c9c" d="M403.00 126.80h1.00v8.67h-1.00z"/>
<path fill="#cc96b4" d="M404.00 126.80h1.00v8.67h-1.00z"/>
<path fill="#9084c0" d="M406.00 126.80h1.00v8.67h-1.00z"/>
<path fill="#786ca8" d="M407.00 126.80h1.00v8.67h-1.00z"/>
<path fill="#d8aec0" d="M408.00 126.80h1.00v8.67h-1.00z"/>
<path fill="#fcf0fc" d="M83.10 134.87h0.90v8.67h-0.90z"/>
<path fill="#c096a8" d="M84.00 134.87h1.00v8.67h-1.00z"/>
<path fill="#deb4c0" d="M85.00 134.87h1.00v8.67h-1.00zM119.00 134.87h1.00v8.67h-1.00z"/>
<path fill="#ccc6f0" d="M86.00 134.87h1.00v8.67h-1.00z"/>
<path fill="#424e96" d="M87.00 134.87h1.00v8.67h-1.00z"/>
<path fill="#8a90d2" d="M88.00 134.87h1.00v8.67h-1.00zM138.00 134.87h1.00v8.67h-1.00z"/>
<path fill="#d8deff" d="M89.00 134.87h1.00v8.67h-1.00z"/>
<path fill="#848acc" d="M90.00 134.87h1.00v8.67h-1.00z"/>
<path fill="#424ea8" d="M91.00 134.87h1.00v8.67h-1.00z"/>
<path fill="#4e54ae" d="M92.00 134.87h1.00v8.67h-1.00zM116.00 134.87h1.00v8.67h-1.00z"/>
<path fill="#9ca2d8" d="M93.00 134.87h1.00v8.67h-1.00z"/>
<path fill="#eae4ff" d="M94.00 134.87h1.00v8.67h-1.00z"/>
<path fill="#7872ae" d="M95.00 134.87h1.00v8.67h-1.00z"/>
<path fill="#9096cc" d="M96.00 134.87h1.00v8.67h-1.00z"/>
<path fill="#b4baea" d="M97.00 134.87h1.00v8.67h-1.00z"/>
<path fill="#969cd2" d="M98.00 134.87h1.00v8.67h-1.00zM99.00 134.87h1.00v8.67h-1.00z"/>
<path fill="#bac0f6" d="M100.00 134.87h1.00v8.67h-1.00z"/>
<path fill="#4e5a9c" d="M101.00 134.87h1.00v8.67h-1.00z"/>
<path fill="#c0baea" d="M102.00 134.87h1.00v8.67h-1.00z"/>
<path fill="#d2bad8" d="M103.00 134.87h1.00v8.67h-1.00z"/>
<path fill="#846ca2" d="M104.00 134.87h1.00v8.67h-1.00z"/>
<path fill="#7272c0" d="M105.00 134.87h1.00v8.67h-1.00z"/>
<path fill="#4e54a2" d="M106.00 134.87h1.00v8.67h-1.00z"/>
<path fill="#aeaee4" d="M107.00 134.87h1.00v8.67h-1.00zM153.00 134.87h1.00v8.67h-1.00z"/>
<path fill="#b4b4de" d="M108.00 134.87h1.00v8.67h-1.00zM231.00 134.87h1.00v8.67h-1.00z"/>
<path fill="#c0c6f6" d="M109.00 134.87h1.00v8.67h-1.00z"/>
<path fill="#786ca2" d="M110.00 134.87h1.00v8.67h-1.00z"/>
<path fill="#a87ea8" d="M111.00 134.87h1.00v8.67h-1.00z"/>
<path fill="#ae8aae" d="M112.00 134.87h1.00v8.67h-1.00z"/>
<path fill="#ccbad2" d="M113.00 134.87h1.00v8.67h-1.00z"/>
<path fill="#ded8fc" d="M114.00 134.87h1.00v8.67h-1.00z"/>
<path fill="#727ec0" d="M115.00 134.87h1.00v8.67h-1.00z"/>
<path fill="#6c72c0" d="M117.00 134.87h1.00v8.67h-1.00zM152.00 134.87h1.00v8.67h-1.00z"/>
<path fill="#b49ccc" d="M118.00 134.87h1.00v8.67h-1.00z"/>
<path fill="#fcd8de" d="M120.00 134.87h1.00v8.67h-1.00z"/>
<path fill="#ffdee4" d="M121.00 134.87h1.00v8.67h-1.00zM363.00 134.87h1.00v8.67h-1.00z"/>
<path fill="#ba8aa2" d="M122.00 134.87h1.00v8.67h-1.00z"/>
<path fill="#9c7ea8" d="M123.00 134.87h1.00v8.67h-1.00z"/>
<path fill="#c6a2ba" d="M124.00 134.87h1.00v8.67h-1.00z"/>
<path fill="#f6c6d2" d="M125.00 134.87h1.00v8.67h-1.00z"/>
<path fill="#deaec0" d="M126.00 134.87h1.00v8.67h-1.00zM220.00 134.87h1.00v8.67h-1.00z"/>
<path fill="#967ea2" d="M127.00 134.87h1.00v8.67h-1.00z"/>
<path fill="#c6c6fc" d="M128.00 134.87h1.00v8.67h-1.00z"/>
<path fill="#6066b4" d="M129.00 134.87h1.00v8.67h-1.00z"/>
<path fill="#545ab4" d="M130.00 134.87h1.00v8.67h-1.00z"/>
<path fill="#7e84c6" d="M131.00 134.87h1.00v8.67h-1.00z"/>
<path fill="#aeaeea" d="M132.00 134.87h1.00v8.67h-1.00z"/>
<path fill="#7e7ec0" d="M133.00 134.87h1.00v8.67h-1.00z"/>
<path fill="#6060ae" d="M134.00 134.87h1.00v8.67h-1.00z"/>
<path fill="#a8a2d2" d="M135.00 134.87h1.00v8.67h-1.00z"/>
<path fill="#d2ccf6" d="M136.00 134.87h1.00v8.67h-1.00z"/>
<path fill="#7278b4" d="M137.00 134.87h1.00v8.67h-1.00z"/>
<path fill="#a2a8e4" d="M139.00 134.87h1.00v8.67h-1.00z"/>
<path fill="#666cb4" d="M140.00 134.87h1.00v8.67h-1.00z"/>
<path fill="#8a96de" d="M141.00 134.87h1.00v8.67h-1.00z"/>
<path fill="#7266a2" d="M142.00 134.87h1.00v8.67h-1.00z"/>
<path fill="#ba96c0" d="M143.00 134.87h1.00v8.67h-1.00z"/>
<path fill="#a290c6" d="M144.00 134.87h1.00v8.67h-1.00z"/>
<path fill="#7e84cc" d="M145.00 134.87h1.00v8.67h-1.00z"/>
<path fill="#6c66a8" d="M146.00 134.87h1.00v8.67h-1.00z"/>
<path fill="#ccb4d2" d="M147.00 134.87h1.00v8.67h-1.00z"/>
<path fill="#d8c6ea" d="M148.00 134.87h1.00v8.67h-1.00z"/>
<path fill="#847eae" d="M149.00 134.87h1.00v8.67h-1.00z"/>
<path fill="#c0baf0" d="M150.00 134.87h1.00v8.67h-1.00z"/>
<path fill="#484896" d="M151.00 134.87h1.00v8.67h-1.00z"/>
<path fill="#a8a2c6" d="M154.00 134.87h1.00v8.67h-1.00z"/>
<path fill="#f6e4f6" d="M155.00 134.87h1.00v8.67h-1.00z"/>
<path fill="#e4c6d2" d="M156.00 134.87h1.00v8.67h-1.00z"/>
<path fill="#c0a8ba" d="M157.00 134.87h1.00v8.67h-1.00z"/>
<path fill="#f0def0" d="M158.00 134.87h1.00v8.67h-1.00z"/>
<path fill="#d8c6d2" d="M159.00 134.87h1.00v8.67h-1.00z"/>
<path fill="#f0d8e4" d="M160.00 134.87h1.00v8.67h-1.00z"/>
<path fill="#e4d8e4" d="M161.00 134.87h1.00v8.67h-1.00zM407.00 134.87h1.00v8.67h-1.00z"/>
<path fill="#d2ccea" d="M162.00 134.87h1.00v8.67h-1.00z"/>
<path fill="#906690" d="M163.00 134.87h1.00v8.67h-1.00z"/>
<path fill="#d290a8" d="M164.00 134.87h1.00v8.67h-1.00zM297.00 134.87h1.00v8.67h-1.00z"/>
<path fill="#ba8a9c" d="M165.00 134.87h1.00v8.67h-1.00z"/>
<path fill="#fcdef0" d="M166.00 134.87h1.00v8.67h-1.00z"/>
<path fill="#d8a8b4" d="M167.00 134.87h1.00v8.67h-1.00z"/>
<path fill="#f6a2ae" d="M168.00 134.87h1.00v8.67h-1.00z"/>
<path fill="#e44848" d="M169.00 134.87h1.00v8.67h-1.00z"/>
<path fill="#d8363c" d="M170.00 134.87h1.00v8.67h-1.00z"/>
<path fill="#c06678" d="M171.00 134.87h1.00v8.67h-1.00z"/>
<path fill="#f6d2de" d="M172.00 134.87h1.00v8.67h-1.00z"/>
<path fill="#ffd8d8" d="M173.00 134.87h1.00v8.67h-1.00z"/>
<path fill="#de9696" d="M174.00 134.87h1.00v8.67h-1.00z"/>
<path fill="#ffd2d2" d="M175.00 134.87h1.00v8.67h-1.00zM242.00 134.87h1.00v8.67h-1.00z"/>
<path fill="#f0deea" d="M176.00 134.87h1.00v8.67h-1.00z"/>
<path fill="#c6aecc" d="M177.00 134.87h1.00v8.67h-1.00zM347.00 134.87h1.00v8.67h-1.00z"/>
<path fill="#d296a8" d="M178.00 134.87h1.00v8.67h-1.00z"/>
<path fill="#e4a2ae" d="M179.00 134.87h1.00v8.67h-1.00zM222.00 134.87h1.00v8.67h-1.00z"/>
<path fill="#cc96ae" d="M180.00 134.87h1.00v8.67h-1.00z"/>
<path fill="#ba9cc0" d="M181.00 134.87h1.00v8.67h-1.00zM311.00 134.87h1.00v8.67h-1.00z"/>
<path fill="#c0a8d2" d="M182.00 134.87h1.00v8.67h-1.00z"/>
<path fill="#84486c" d="M183.00 134.87h1.00v8.67h-1.00z"/>
<path fill="#ffa8b4" d="M184.00 134.87h1.00v8.67h-1.00z"/>
<path fill="#e4847e" d="M185.00 134.87h1.00v8.67h-1.00z"/>
<path fill="#ff9ca2" d="M186.00 134.87h1.00v8.67h-1.00z"/>
<path fill="#cc7884" d="M187.00 134.87h1.00v8.67h-1.00zM289.00 134.87h1.00v8.67h-1.00z"/>
<path fill="#d2a2ba" d="M188.00 134.87h1.00v8.67h-1.00z"/>
<path fill="#baa2c6" d="M189.00 134.87h1.00v8.67h-1.00z"/>
<path fill="#b48aa8" d="M190.00 134.87h1.00v8.67h-1.00z"/>
<path fill="#e48490" d="M191.00 134.87h1.00v8.67h-1.00z"/>
<path fill="#ea5a5a" d="M192.00 134.87h1.00v8.67h-1.00z"/>
<path fill="#fc544e" d="M193.00 134.87h1.00v8.67h-1.00z"/>
<path fill="#d23c42" d="M194.00 134.87h1.00v8.67h-1.00z"/>
<path fill="#f07284" d="M195.00 134.87h1.00v8.67h-1.00z"/>
<path fill="#ba424e" d="M196.00 134.87h1.00v8.67h-1.00z"/>
<path fill="#d28496" d="M197.00 134.87h1.00v8.67h-1.00z"/>
<path fill="#fff6ff" d="M198.00 134.87h1.00v8.67h-1.00z"/>
<path fill="#fcfcff" d="M199.00 134.87h1.00v8.67h-1.00z"/>
<path fill="#babade" d="M200.00 134.87h1.00v8.67h-1.00z"/>
<path fill="#a296c0" d="M201.00 134.87h1.00v8.67h-1.00zM303.00 134.87h1.00v8.67h-1.00z"/>
<path fill="#b496ba" d="M202.00 134.87h1.00v8.67h-1.00zM223.00 134.87h1.00v8.67h-1.00z"/>
<path fill="#dea8ba" d="M203.00 134.87h1.00v8.67h-1.00z"/>
<path fill="#de7884" d="M204.00 134.87h1.00v8.67h-1.00z"/>
<path fill="#a84e60" d="M205.00 134.87h1.00v8.67h-1.00z"/>
<path fill="#e4a8c0" d="M206.00 134.87h1.00v8.67h-1.00z"/>
<path fill="#b46c84" d="M207.00 134.87h1.00v8.67h-1.00zM352.00 134.87h1.00v8.67h-1.00z"/>
<path fill="#c09cc0" d="M208.00 134.87h1.00v8.67h-1.00z"/>
<path fill="#a8a2c0" d="M209.00 134.87h1.00v8.67h-1.00z"/>
<path fill="#ffdef0" d="M210.00 134.87h1.00v8.67h-1.00z"/>
<path fill="#cc7e90" d="M211.00 134.87h1.00v8.67h-1.00z"/>
<path fill="#ba6072" d="M212.00 134.87h1.00v8.67h-1.00z"/>
<path fill="#ffbac0" d="M213.00 134.87h1.00v8.67h-1.00z"/>
<path fill="#c63c36" d="M214.00 134.87h1.00v8.67h-1.00z"/>
<path fill="#f6908a" d="M215.00 134.87h1.00v8.67h-1.00z"/>
<path fill="#fff0fc" d="M216.00 134.87h1.00v8.67h-1.00zM342.00 134.87h1.00v8.67h-1.00z"/>
<path fill="#b4a2ba" d="M217.00 134.87h1.00v8.67h-1.00z"/>
<path fill="#e4ccea" d="M218.00 134.87h1.00v8.67h-1.00z"/>
<path fill="#a28aae" d="M219.00 134.87h1.00v8.67h-1.00z"/>
<path fill="#ffc0c0" d="M221.00 134.87h1.00v8.67h-1.00z"/>
<path fill="#c6bad8" d="M224.00 134.87h1.00v8.67h-1.00z"/>
<path fill="#ead2e4" d="M225.00 134.87h1.00v8.67h-1.00z"/>
<path fill="#a87e96" d="M226.00 134.87h1.00v8.67h-1.00z"/>
<path fill="#f09ca8" d="M227.00 134.87h1.00v8.67h-1.00zM307.00 134.87h1.00v8.67h-1.00z"/>
<path fill="#de7e8a" d="M228.00 134.87h1.00v8.67h-1.00z"/>
<path fill="#72427e" d="M229.00 134.87h1.00v8.67h-1.00z"/>
<path fill="#6c6cb4" d="M230.00 134.87h1.00v8.67h-1.00z"/>
<path fill="#d8d2e4" d="M232.00 134.87h1.00v8.67h-1.00z"/>
<path fill="#fceaf0" d="M233.00 134.87h1.00v8.67h-1.00z"/>
<path fill="#fcc0c0" d="M234.00 134.87h1.00v8.67h-1.00zM264.00 134.87h1.00v8.67h-1.00z"/>
<path fill="#de7e7e" d="M235.00 134.87h1.00v8.67h-1.00z"/>
<path fill="#f0b4c0" d="M236.00 134.87h1.00v8.67h-1.00z"/>
<path fill="#d8cce4" d="M237.00 134.87h1.00v8.67h-1.00z"/>
<path fill="#aea8cc" d="M238.00 134.87h1.00v8.67h-1.00z"/>
<path fill="#eadef6" d="M239.00 134.87h1.00v8.67h-1.00z"/>
<path fill="#eaccd8" d="M240.00 134.87h1.00v8.67h-1.00z"/>
<path fill="#e4c0c6" d="M241.00 134.87h1.00v8.67h-1.00z"/>
<path fill="#cc423c" d="M243.00 134.87h1.00v8.67h-1.00z"/>
<path fill="#ff7272" d="M244.00 134.87h1.00v8.67h-1.00z"/>
<path fill="#c65a66" d="M245.00 134.87h1.00v8.67h-1.00z"/>
<path fill="#96729c" d="M246.00 134.87h1.00v8.67h-1.00z"/>
<path fill="#c6c6ea" d="M247.00 134.87h1.00v8.67h-1.00z"/>
<path fill="#fce4f0" d="M248.00 134.87h1.00v8.67h-1.00zM312.00 134.87h1.00v8.67h-1.00zM322.00 134.87h1.00v8.67h-1.00z"/>
<path fill="#e49c9c" d="M249.00 134.87h1.00v8.67h-1.00z"/>
<path fill="#fca29c" d="M250.00 134.87h1.00v8.67h-1.00z"/>
<path fill="#ff9696" d="M251.00 134.87h1.00v8.67h-1.00z"/>
<path fill="#d2544e" d="M252.00 134.87h1.00v8.67h-1.00z"/>
<path fill="#fcb4b4" d="M253.00 134.87h1.00v8.67h-1.00z"/>
<path fill="#ffeaf0" d="M254.00 134.87h1.00v8.67h-1.00z"/>
<path fill="#dec6d2" d="M255.00 134.87h1.00v8.67h-1.00z"/>
<path fill="#ccc0de" d="M256.00 134.87h1.00v8.67h-1.00z"/>
<path fill="#e4c6de" d="M257.00 134.87h1.00v8.67h-1.00z"/>
<path fill="#d27284" d="M258.00 134.87h1.00v8.67h-1.00zM369.00 134.87h1.00v8.67h-1.00z"/>
<path fill="#a85472" d="M259.00 134.87h1.00v8.67h-1.00z"/>
<path fill="#906c9c" d="M260.00 134.87h1.00v8.67h-1.00z"/>
<path fill="#d8aec6" d="M261.00 134.87h1.00v8.67h-1.00z"/>
<path fill="#ffc6c6" d="M262.00 134.87h1.00v8.67h-1.00zM293.00 134.87h1.00v8.67h-1.00z"/>
<path fill="#e48a8a" d="M263.00 134.87h1.00v8.67h-1.00z"/>
<path fill="#fff6fc" d="M265.00 134.87h1.00v8.67h-1.00z"/>
<path fill="#f6ccd8" d="M266.00 134.87h1.00v8.67h-1.00zM268.00 134.87h1.00v8.67h-1.00z"/>
<path fill="#ae6672" d="M267.00 134.87h1.00v8.67h-1.00z"/>
<path fill="#e4d2d8" d="M269.00 134.87h1.00v8.67h-1.00z"/>
<path fill="#fcdeea" d="M270.00 134.87h1.00v8.67h-1.00z"/>
<path fill="#d29cae" d="M271.00 134.87h1.00v8.67h-1.00z"/>
<path fill="#e47e84" d="M272.00 134.87h1.00v8.67h-1.00z"/>
<path fill="#e47878" d="M273.00 134.87h1.00v8.67h-1.00z"/>
<path fill="#f0b4c6" d="M274.00 134.87h1.00v8.67h-1.00z"/>
<path fill="#b4aecc" d="M275.00 134.87h1.00v8.67h-1.00z"/>
<path fill="#d2d2f6" d="M276.00 134.87h1.00v8.67h-1.00z"/>
<path fill="#d8a8c0" d="M277.00 134.87h1.00v8.67h-1.00z"/>
<path fill="#d85454" d="M278.00 134.87h1.00v8.67h-1.00z"/>
<path fill="#de5a66" d="M279.00 134.87h1.00v8.67h-1.00z"/>
<path fill="#964e6c" d="M280.00 134.87h1.00v8.67h-1.00z"/>
<path fill="#ffc6d2" d="M281.00 134.87h1.00v8.67h-1.00z"/>
<path fill="#fc908a" d="M282.00 134.87h1.00v8.67h-1.00z"/>
<path fill="#d25454" d="M283.00 134.87h1.00v8.67h-1.00z"/>
<path fill="#e4a2ba" d="M284.00 134.87h1.00v8.67h-1.00z"/>
<path fill="#aea8d2" d="M285.00 134.87h1.00v8.67h-1.00z"/>
<path fill="#787eba" d="M286.00 134.87h1.00v8.67h-1.00z"/>
<path fill="#a8aede" d="M287.00 134.87h1.00v8.67h-1.00z"/>
<path fill="#eaccea" d="M288.00 134.87h1.00v8.67h-1.00z"/>
<path fill="#c06078" d="M290.00 134.87h1.00v8.67h-1.00z"/>
<path fill="#ba789c" d="M291.00 134.87h1.00v8.67h-1.00z"/>
<path fill="#d28490" d="M292.00 134.87h1.00v8.67h-1.00z"/>
<path fill="#f6baba" d="M294.00 134.87h1.00v8.67h-1.00z"/>
<path fill="#ffc0ba" d="M295.00 134.87h1.00v8.67h-1.00z"/>
<path fill="#cc6060" d="M296.00 134.87h1.00v8.67h-1.00z"/>
<path fill="#b49cba" d="M298.00 134.87h1.00v8.67h-1.00z"/>
<path fill="#fceaf6" d="M299.00 134.87h1.00v8.67h-1.00z"/>
<path fill="#f6e4e4" d="M300.00 134.87h1.00v8.67h-1.00z"/>
<path fill="#f6f0f0" d="M301.00 134.87h1.00v8.67h-1.00z"/>
<path fill="#f0eafc" d="M302.00 134.87h1.00v8.67h-1.00z"/>
<path fill="#a29ccc" d="M304.00 134.87h1.00v8.67h-1.00zM367.00 134.87h1.00v8.67h-1.00z"/>
<path fill="#debad2" d="M305.00 134.87h1.00v8.67h-1.00z"/>
<path fill="#d87e7e" d="M306.00 134.87h1.00v8.67h-1.00z"/>
<path fill="#ba7296" d="M308.00 134.87h1.00v8.67h-1.00z"/>
<path fill="#964e7e" d="M309.00 134.87h1.00v8.67h-1.00z"/>
<path fill="#845a90" d="M310.00 134.87h1.00v8.67h-1.00z"/>
<path fill="#debac6" d="M313.00 134.87h1.00v8.67h-1.00z"/>
<path fill="#d2909c" d="M314.00 134.87h1.00v8.67h-1.00zM328.00 134.87h1.00v8.67h-1.00z"/>
<path fill="#a8789c" d="M315.00 134.87h1.00v8.67h-1.00z"/>
<path fill="#baaed2" d="M316.00 134.87h1.00v8.67h-1.00z"/>
<path fill="#d8c6de" d="M317.00 134.87h1.00v8.67h-1.00z"/>
<path fill="#d8b4c0" d="M318.00 134.87h1.00v8.67h-1.00z"/>
<path fill="#f0d2d8" d="M319.00 134.87h1.00v8.67h-1.00z"/>
<path fill="#eae4f6" d="M320.00 134.87h1.00v8.67h-1.00z"/>
<path fill="#aeaecc" d="M321.00 134.87h1.00v8.67h-1.00z"/>
<path fill="#e4c0cc" d="M323.00 134.87h1.00v8.67h-1.00z"/>
<path fill="#8a7296" d="M324.00 134.87h1.00v8.67h-1.00z"/>
<path fill="#dedefc" d="M325.00 134.87h1.00v8.67h-1.00z"/>
<path fill="#c0c6de" d="M326.00 134.87h1.00v8.67h-1.00z"/>
<path fill="#e4ccde" d="M327.00 134.87h1.00v8.67h-1.00z"/>
<path fill="#c08aa2" d="M329.00 134.87h1.00v8.67h-1.00zM395.00 134.87h1.00v8.67h-1.00z"/>
<path fill="#b496b4" d="M330.00 134.87h1.00v8.67h-1.00z"/>
<path fill="#ffdeea" d="M331.00 134.87h1.00v8.67h-1.00z"/>
<path fill="#ae5a66" d="M332.00 134.87h1.00v8.67h-1.00z"/>
<path fill="#e490a2" d="M333.00 134.87h1.00v8.67h-1.00z"/>
<path fill="#d88a90" d="M334.00 134.87h1.00v8.67h-1.00z"/>
<path fill="#ffccd8" d="M335.00 134.87h1.00v8.67h-1.00zM361.00 134.87h1.00v8.67h-1.00z"/>
<path fill="#c0a8c0" d="M336.00 134.87h1.00v8.67h-1.00z"/>
<path fill="#b484a8" d="M337.00 134.87h1.00v8.67h-1.00z"/>
<path fill="#d27e96" d="M338.00 134.87h1.00v8.67h-1.00z"/>
<path fill="#c64e54" d="M339.00 134.87h1.00v8.67h-1.00z"/>
<path fill="#fca2ae" d="M340.00 134.87h1.00v8.67h-1.00z"/>
<path fill="#a28aa8" d="M341.00 134.87h1.00v8.67h-1.00z"/>
<path fill="#ea9c9c" d="M343.00 134.87h1.00v8.67h-1.00z"/>
<path fill="#cc7284" d="M344.00 134.87h1.00v8.67h-1.00z"/>
<path fill="#a87290" d="M345.00 134.87h1.00v8.67h-1.00z"/>
<path fill="#eac6de" d="M346.00 134.87h1.00v8.67h-1.00z"/>
<path fill="#ae96c0" d="M348.00 134.87h1.00v8.67h-1.00z"/>
<path fill="#8a6c9c" d="M349.00 134.87h1.00v8.67h-1.00z"/>
<path fill="#e4c6ea" d="M350.00 134.87h1.00v8.67h-1.00z"/>
<path fill="#c696b4" d="M351.00 134.87h1.00v8.67h-1.00z"/>
<path fill="#e49ca8" d="M353.00 134.87h1.00v8.67h-1.00z"/>
<path fill="#ffe4ea" d="M354.00 134.87h1.00v8.67h-1.00z"/>
<path fill="#ccc6ea" d="M355.00 134.87h1.00v8.67h-1.00z"/>
<path fill="#6666a2" d="M356.00 134.87h1.00v8.67h-1.00z"/>
<path fill="#a8aee4" d="M357.00 134.87h1.00v8.67h-1.00z"/>
<path fill="#deccea" d="M358.00 134.87h1.00v8.67h-1.00z"/>
<path fill="#d88a9c" d="M359.00 134.87h1.00v8.67h-1.00z"/>
<path fill="#c06066" d="M360.00 134.87h1.00v8.67h-1.00z"/>
<path fill="#d8aeb4" d="M362.00 134.87h1.00v8.67h-1.00z"/>
<path fill="#dea2a8" d="M364.00 134.87h1.00v8.67h-1.00z"/>
<path fill="#de9090" d="M365.00 134.87h1.00v8.67h-1.00z"/>
<path fill="#fcccd8" d="M366.00 134.87h1.00v8.67h-1.00z"/>
<path fill="#a28aba" d="M368.00 134.87h1.00v8.67h-1.00z"/>
<path fill="#de5a5a" d="M370.00 134.87h1.00v8.67h-1.00z"/>
<path fill="#de8a90" d="M371.00 134.87h1.00v8.67h-1.00zM386.00 134.87h1.00v8.67h-1.00z"/>
<path fill="#f6ccde" d="M372.00 134.87h1.00v8.67h-1.00z"/>
<path fill="#d2aec6" d="M373.00 134.87h1.00v8.67h-1.00z"/>
<path fill="#a26c8a" d="M374.00 134.87h1.00v8.67h-1.00z"/>
<path fill="#f08490" d="M375.00 134.87h1.00v8.67h-1.00z"/>
<path fill="#f04842" d="M376.00 134.87h1.00v8.67h-1.00z"/>
<path fill="#d83c36" d="M377.00 134.87h1.00v8.67h-1.00z"/>
<path fill="#f09cae" d="M378.00 134.87h1.00v8.67h-1.00z"/>
<path fill="#a88aae" d="M379.00 134.87h1.00v8.67h-1.00zM390.00 134.87h1.00v8.67h-1.00z"/>
<path fill="#f0ccde" d="M380.00 134.87h1.00v8.67h-1.00z"/>
<path fill="#c6a2c0" d="M381.00 134.87h1.00v8.67h-1.00z"/>
<path fill="#7e5a8a" d="M382.00 134.87h1.00v8.67h-1.00z"/>
<path fill="#de8496" d="M383.00 134.87h1.00v8.67h-1.00z"/>
<path fill="#ea8a8a" d="M384.00 134.87h1.00v8.67h-1.00z"/>
<path fill="#ffd2cc" d="M385.00 134.87h1.00v8.67h-1.00z"/>
<path fill="#a26078" d="M387.00 134.87h1.00v8.67h-1.00z"/>
<path fill="#dec6de" d="M388.00 134.87h1.00v8.67h-1.00z"/>
<path fill="#ead8f0" d="M389.00 134.87h1.00v8.67h-1.00z"/>
<path fill="#c096b4" d="M391.00 134.87h1.00v8.67h-1.00z"/>
<path fill="#fcdee4" d="M392.00 134.87h1.00v8.67h-1.00z"/>
<path fill="#fcd8d8" d="M393.00 134.87h1.00v8.67h-1.00z"/>
<path fill="#e4bac6" d="M394.00 134.87h1.00v8.67h-1.00z"/>
<path fill="#cc788a" d="M396.00 134.87h1.00v8.67h-1.00z"/>
<path fill="#d87884" d="M397.00 134.87h1.00v8.67h-1.00z"/>
<path fill="#f6a8ae" d="M398.00 134.87h1.00v8.67h-1.00z"/>
<path fill="#d8a8ba" d="M399.00 134.87h1.00v8.67h-1.00z"/>
<path fill="#d8a2c0" d="M400.00 134.87h1.00v8.67h-1.00z"/>
<path fill="#ae6678" d="M401.00 134.87h1.00v8.67h-1.00z"/>
<path fill="#d8bae4" d="M402.00 134.87h1.00v8.67h-1.00z"/>
<path fill="#605490" d="M403.00 134.87h1.00v8.67h-1.00z"/>
<path fill="#ba84a8" d="M404.00 134.87h1.00v8.67h-1.00z"/>
<path fill="#eabac6" d="M405.00 134.87h1.00v8.67h-1.00z"/>
<path fill="#f0e4f0" d="M406.00 134.87h1.00v8.67h-1.00z"/>
<path fill="#f6c6cc" d="M408.00 134.87h1.00v8.67h-1.00z"/>
<path fill="#ffa2a2" d="M409.00 134.87h1.00v8.67h-1.00z"/>
<path fill="#e4423c" d="M410.00 134.87h1.00v8.67h-1.00z"/>
<path fill="#f63c36" d="M411.00 134.87h0.10v8.67h-0.10z"/>
<path fill="#9090cc" d="M83.10 142.93h0.90v8.07h-0.90z"/>
<path fill="#9c7ea8" d="M84.00 142.93h1.00v8.07h-1.00z"/>
<path fill="#dea8ba" d="M85.00 142.93h1.00v8.07h-1.00zM344.00 142.93h1.00v8.07h-1.00zM379.00 142.93h1.00v8.07h-1.00z"/>
<path fill="#ead2ea" d="M86.00 142.93h1.00v8.07h-1.00z"/>
<path fill="#666cae" d="M87.00 142.93h1.00v8.07h-1.00z"/>
<path fill="#7272b4" d="M88.00 142.93h1.00v8.07h-1.00z"/>
<path fill="#d8cce4" d="M89.00 142.93h1.00v8.07h-1.00z"/>
<path fill="#e4def6" d="M90.00 142.93h1.00v8.07h-1.00z"/>
<path fill="#7278b4" d="M91.00 142.93h1.00v8.07h-1.00zM92.00 142.93h1.00v8.07h-1.00z"/>
<path fill="#eaeaff" d="M93.00 142.93h1.00v8.07h-1.00z"/>
<path fill="#d2d8fc" d="M94.00 142.93h1.00v8.07h-1.00z"/>
<path fill="#6c72ae" d="M95.00 142.93h1.00v8.07h-1.00zM286.00 142.93h1.00v8.07h-1.00z"/>
<path fill="#9ca2de" d="M96.00 142.93h1.00v8.07h-1.00z"/>
<path fill="#9ca2d8" d="M97.00 142.93h1.00v8.07h-1.00z"/>
<path fill="#a2a8d2" d="M98.00 142.93h1.00v8.07h-1.00z"/>
<path fill="#c6ccf6" d="M99.00 142.93h1.00v8.07h-1.00z"/>
<path fill="#8490cc" d="M100.00 142.93h1.00v8.07h-1.00z"/>
<path fill="#5a66a8" d="M101.00 142.93h1.00v8.07h-1.00z"/>
<path fill="#ded2f6" d="M102.00 142.93h1.00v8.07h-1.00z"/>
<path fill="#c696ae" d="M103.00 142.93h1.00v8.07h-1.00zM218.00 142.93h1.00v8.07h-1.00z"/>
<path fill="#844e7e" d="M104.00 142.93h1.00v8.07h-1.00z"/>
<path fill="#7e78c0" d="M105.00 142.93h1.00v8.07h-1.00z"/>
<path fill="#48489c" d="M106.00 142.93h1.00v8.07h-1.00zM145.00 142.93h1.00v8.07h-1.00z"/>
<path fill="#9684c6" d="M107.00 142.93h1.00v8.07h-1.00z"/>
<path fill="#786cae" d="M108.00 142.93h1.00v8.07h-1.00z"/>
<path fill="#9ca2e4" d="M109.00 142.93h1.00v8.07h-1.00z"/>
<path fill="#605a9c" d="M110.00 142.93h1.00v8.07h-1.00z"/>
<path fill="#c6bae4" d="M111.00 142.93h1.00v8.07h-1.00z"/>
<path fill="#b4a8c6" d="M112.00 142.93h1.00v8.07h-1.00z"/>
<path fill="#f0e4f6" d="M113.00 142.93h1.00v8.07h-1.00z"/>
<path fill="#f6f0ff" d="M114.00 142.93h1.00v8.07h-1.00z"/>
<path fill="#969cc0" d="M115.00 142.93h1.00v8.07h-1.00z"/>
<path fill="#c0c6f6" d="M116.00 142.93h1.00v8.07h-1.00z"/>
<path fill="#848aba" d="M117.00 142.93h1.00v8.07h-1.00z"/>
<path fill="#b4a8d2" d="M118.00 142.93h1.00v8.07h-1.00z"/>
<path fill="#c0a2c0" d="M119.00 142.93h1.00v8.07h-1.00z"/>
<path fill="#d2ccea" d="M120.00 142.93h1.00v8.07h-1.00z"/>
<path fill="#8a90c6" d="M121.00 142.93h1.00v8.07h-1.00zM326.00 142.93h1.00v8.07h-1.00z"/>
<path fill="#aeb4ea" d="M122.00 142.93h1.00v8.07h-1.00zM139.00 142.93h1.00v8.07h-1.00z"/>
<path fill="#9690ba" d="M123.00 142.93h1.00v8.07h-1.00z"/>
<path fill="#d8ccea" d="M124.00 142.93h1.00v8.07h-1.00z"/>
<path fill="#baa2c0" d="M125.00 142.93h1.00v8.07h-1.00zM353.00 142.93h1.00v8.07h-1.00z"/>
<path fill="#eaccea" d="M126.00 142.93h1.00v8.07h-1.00z"/>
<path fill="#8a78a2" d="M127.00 142.93h1.00v8.07h-1.00z"/>
<path fill="#c6c6f6" d="M128.00 142.93h1.00v8.07h-1.00z"/>
<path fill="#969ccc" d="M129.00 142.93h1.00v8.07h-1.00zM321.00 142.93h1.00v8.07h-1.00zM356.00 142.93h1.00v8.07h-1.00z"/>
<path fill="#7878b4" d="M130.00 142.93h1.00v8.07h-1.00z"/>
<path fill="#bac0f0" d="M131.00 142.93h1.00v8.07h-1.00z"/>
<path fill="#9096d2" d="M132.00 142.93h1.00v8.07h-1.00z"/>
<path fill="#7e84c6" d="M133.00 142.93h1.00v8.07h-1.00z"/>
<path fill="#8484b4" d="M134.00 142.93h1.00v8.07h-1.00z"/>
<path fill="#f6eaff" d="M135.00 142.93h1.00v8.07h-1.00z"/>
<path fill="#d8d2f0" d="M136.00 142.93h1.00v8.07h-1.00z"/>
<path fill="#787eae" d="M137.00 142.93h1.00v8.07h-1.00z"/>
<path fill="#c0c0f0" d="M138.00 142.93h1.00v8.07h-1.00z"/>
<path fill="#5460ae" d="M140.00 142.93h1.00v8.07h-1.00z"/>
<path fill="#4248a8" d="M141.00 142.93h1.00v8.07h-1.00z"/>
<path fill="#6c72c0" d="M142.00 142.93h1.00v8.07h-1.00z"/>
<path fill="#c0c0ea" d="M143.00 142.93h1.00v8.07h-1.00zM298.00 142.93h1.00v8.07h-1.00z"/>
<path fill="#baaede" d="M144.00 142.93h1.00v8.07h-1.00z"/>
<path fill="#544296" d="M146.00 142.93h1.00v8.07h-1.00z"/>
<path fill="#a86696" d="M147.00 142.93h1.00v8.07h-1.00z"/>
<path fill="#9c5a8a" d="M148.00 142.93h1.00v8.07h-1.00z"/>
<path fill="#78548a" d="M149.00 142.93h1.00v8.07h-1.00z"/>
<path fill="#d2c6fc" d="M150.00 142.93h1.00v8.07h-1.00z"/>
<path fill="#545a9c" d="M151.00 142.93h1.00v8.07h-1.00z"/>
<path fill="#96a2de" d="M152.00 142.93h1.00v8.07h-1.00z"/>
<path fill="#a8a8d2" d="M153.00 142.93h1.00v8.07h-1.00z"/>
<path fill="#d8c6e4" d="M154.00 142.93h1.00v8.07h-1.00z"/>
<path fill="#c0a2ba" d="M155.00 142.93h1.00v8.07h-1.00z"/>
<path fill="#d2a8c0" d="M156.00 142.93h1.00v8.07h-1.00zM260.00 142.93h1.00v8.07h-1.00z"/>
<path fill="#ba90a8" d="M157.00 142.93h1.00v8.07h-1.00z"/>
<path fill="#eac6cc" d="M158.00 142.93h1.00v8.07h-1.00z"/>
<path fill="#ffe4e4" d="M159.00 142.93h1.00v8.07h-1.00z"/>
<path fill="#f6dee4" d="M160.00 142.93h1.00v8.07h-1.00z"/>
<path fill="#ded2e4" d="M161.00 142.93h1.00v8.07h-1.00z"/>
<path fill="#e4d8fc" d="M162.00 142.93h1.00v8.07h-1.00z"/>
<path fill="#84426c" d="M163.00 142.93h1.00v8.07h-1.00z"/>
<path fill="#ba4266" d="M164.00 142.93h1.00v8.07h-1.00z"/>
<path fill="#8a426c" d="M165.00 142.93h1.00v8.07h-1.00z"/>
<path fill="#c0aed8" d="M166.00 142.93h1.00v8.07h-1.00z"/>
<path fill="#f6ccde" d="M167.00 142.93h1.00v8.07h-1.00z"/>
<path fill="#cc7e84" d="M168.00 142.93h1.00v8.07h-1.00z"/>
<path fill="#ffb4b4" d="M169.00 142.93h1.00v8.07h-1.00zM251.00 142.93h1.00v8.07h-1.00zM253.00 142.93h1.00v8.07h-1.00z"/>
<path fill="#d2605a" d="M170.00 142.93h1.00v8.07h-1.00zM215.00 142.93h1.00v8.07h-1.00z"/>
<path fill="#ffbaba" d="M171.00 142.93h1.00v8.07h-1.00z"/>
<path fill="#ffd2d8" d="M172.00 142.93h1.00v8.07h-1.00zM319.00 142.93h1.00v8.07h-1.00z"/>
<path fill="#f09696" d="M173.00 142.93h1.00v8.07h-1.00z"/>
<path fill="#de7878" d="M174.00 142.93h1.00v8.07h-1.00z"/>
<path fill="#f6bac0" d="M175.00 142.93h1.00v8.07h-1.00zM261.00 142.93h1.00v8.07h-1.00z"/>
<path fill="#c6a2c0" d="M176.00 142.93h1.00v8.07h-1.00z"/>
<path fill="#b4aecc" d="M177.00 142.93h1.00v8.07h-1.00z"/>
<path fill="#ffe4f6" d="M178.00 142.93h1.00v8.07h-1.00z"/>
<path fill="#ae5460" d="M179.00 142.93h1.00v8.07h-1.00z"/>
<path fill="#c6788a" d="M180.00 142.93h1.00v8.07h-1.00zM318.00 142.93h1.00v8.07h-1.00z"/>
<path fill="#fcc6d2" d="M181.00 142.93h1.00v8.07h-1.00z"/>
<path fill="#e4aec0" d="M182.00 142.93h1.00v8.07h-1.00z"/>
<path fill="#a26072" d="M183.00 142.93h1.00v8.07h-1.00z"/>
<path fill="#ffb4ba" d="M184.00 142.93h1.00v8.07h-1.00z"/>
<path fill="#d8848a" d="M185.00 142.93h1.00v8.07h-1.00z"/>
<path fill="#ffc0c0" d="M186.00 142.93h1.00v8.07h-1.00z"/>
<path fill="#c66c78" d="M187.00 142.93h1.00v8.07h-1.00z"/>
<path fill="#b484ae" d="M188.00 142.93h1.00v8.07h-1.00z"/>
<path fill="#8484ba" d="M189.00 142.93h1.00v8.07h-1.00z"/>
<path fill="#d2bade" d="M190.00 142.93h1.00v8.07h-1.00z"/>
<path fill="#d89096" d="M191.00 142.93h1.00v8.07h-1.00z"/>
<path fill="#ff9c96" d="M192.00 142.93h1.00v8.07h-1.00zM295.00 142.93h1.00v8.07h-1.00z"/>
<path fill="#ea5454" d="M193.00 142.93h1.00v8.07h-1.00z"/>
<path fill="#de5a60" d="M194.00 142.93h1.00v8.07h-1.00z"/>
<path fill="#cc6072" d="M195.00 142.93h1.00v8.07h-1.00z"/>
<path fill="#c05a72" d="M196.00 142.93h1.00v8.07h-1.00z"/>
<path fill="#a2607e" d="M197.00 142.93h1.00v8.07h-1.00z"/>
<path fill="#fcccd8" d="M198.00 142.93h1.00v8.07h-1.00z"/>
<path fill="#d2a2ba" d="M199.00 142.93h1.00v8.07h-1.00z"/>
<path fill="#8472a2" d="M200.00 142.93h1.00v8.07h-1.00z"/>
<path fill="#b4a2cc" d="M201.00 142.93h1.00v8.07h-1.00z"/>
<path fill="#e4a2b4" d="M202.00 142.93h1.00v8.07h-1.00z"/>
<path fill="#d86c72" d="M203.00 142.93h1.00v8.07h-1.00z"/>
<path fill="#f07272" d="M204.00 142.93h1.00v8.07h-1.00z"/>
<path fill="#ba5466" d="M205.00 142.93h1.00v8.07h-1.00z"/>
<path fill="#f0a8ba" d="M206.00 142.93h1.00v8.07h-1.00zM281.00 142.93h1.00v8.07h-1.00z"/>
<path fill="#cc8490" d="M207.00 142.93h1.00v8.07h-1.00z"/>
<path fill="#f6bacc" d="M208.00 142.93h1.00v8.07h-1.00z"/>
<path fill="#96546c" d="M209.00 142.93h1.00v8.07h-1.00z"/>
<path fill="#ffbac6" d="M210.00 142.93h1.00v8.07h-1.00z"/>
<path fill="#c05a60" d="M211.00 142.93h1.00v8.07h-1.00z"/>
<path fill="#d86066" d="M212.00 142.93h1.00v8.07h-1.00z"/>
<path fill="#de6060" d="M213.00 142.93h1.00v8.07h-1.00z"/>
<path fill="#ff9690" d="M214.00 142.93h1.00v8.07h-1.00z"/>
<path fill="#fcbac6" d="M216.00 142.93h1.00v8.07h-1.00z"/>
<path fill="#cca2ba" d="M217.00 142.93h1.00v8.07h-1.00z"/>
<path fill="#deb4c6" d="M219.00 142.93h1.00v8.07h-1.00z"/>
<path fill="#f0969c" d="M220.00 142.93h1.00v8.07h-1.00zM359.00 142.93h1.00v8.07h-1.00z"/>
<path fill="#de544e" d="M221.00 142.93h1.00v8.07h-1.00z"/>
<path fill="#f09096" d="M222.00 142.93h1.00v8.07h-1.00z"/>
<path fill="#c69cae" d="M223.00 142.93h1.00v8.07h-1.00z"/>
<path fill="#ffd8de" d="M224.00 142.93h1.00v8.07h-1.00z"/>
<path fill="#e4a8a8" d="M225.00 142.93h1.00v8.07h-1.00z"/>
<path fill="#d8b4c6" d="M226.00 142.93h1.00v8.07h-1.00z"/>
<path fill="#f6d2de" d="M227.00 142.93h1.00v8.07h-1.00z"/>
<path fill="#d290a8" d="M228.00 142.93h1.00v8.07h-1.00zM328.00 142.93h1.00v8.07h-1.00z"/>
<path fill="#72427e" d="M229.00 142.93h1.00v8.07h-1.00z"/>
<path fill="#7866a2" d="M230.00 142.93h1.00v8.07h-1.00z"/>
<path fill="#d8bad8" d="M231.00 142.93h1.00v8.07h-1.00zM373.00 142.93h1.00v8.07h-1.00z"/>
<path fill="#d8bacc" d="M232.00 142.93h1.00v8.07h-1.00z"/>
<path fill="#c6aec6" d="M233.00 142.93h1.00v8.07h-1.00z"/>
<path fill="#f0deea" d="M234.00 142.93h1.00v8.07h-1.00zM394.00 142.93h1.00v8.07h-1.00z"/>
<path fill="#f6eaf0" d="M235.00 142.93h1.00v8.07h-1.00z"/>
<path fill="#e4d2e4" d="M236.00 142.93h1.00v8.07h-1.00z"/>
<path fill="#d8bad2" d="M237.00 142.93h1.00v8.07h-1.00z"/>
<path fill="#b490ae" d="M238.00 142.93h1.00v8.07h-1.00z"/>
<path fill="#e4aec6" d="M239.00 142.93h1.00v8.07h-1.00z"/>
<path fill="#de7278" d="M240.00 142.93h1.00v8.07h-1.00z"/>
<path fill="#fc908a" d="M241.00 142.93h1.00v8.07h-1.00z"/>
<path fill="#ffa29c" d="M242.00 142.93h1.00v8.07h-1.00z"/>
<path fill="#ea605a" d="M243.00 142.93h1.00v8.07h-1.00z"/>
<path fill="#f05a54" d="M244.00 142.93h1.00v8.07h-1.00z"/>
<path fill="#d8727e" d="M245.00 142.93h1.00v8.07h-1.00z"/>
<path fill="#b496ba" d="M246.00 142.93h1.00v8.07h-1.00z"/>
<path fill="#a8a2cc" d="M247.00 142.93h1.00v8.07h-1.00z"/>
<path fill="#e49cae" d="M248.00 142.93h1.00v8.07h-1.00z"/>
<path fill="#d8423c" d="M249.00 142.93h1.00v8.07h-1.00z"/>
<path fill="#e4544e" d="M250.00 142.93h1.00v8.07h-1.00z"/>
<path fill="#d26660" d="M252.00 142.93h1.00v8.07h-1.00z"/>
<path fill="#f6c0c0" d="M254.00 142.93h1.00v8.07h-1.00z"/>
<path fill="#f6d8e4" d="M255.00 142.93h1.00v8.07h-1.00z"/>
<path fill="#ccc6d8" d="M256.00 142.93h1.00v8.07h-1.00z"/>
<path fill="#fcd2d8" d="M257.00 142.93h1.00v8.07h-1.00z"/>
<path fill="#d87278" d="M258.00 142.93h1.00v8.07h-1.00z"/>
<path fill="#c06c7e" d="M259.00 142.93h1.00v8.07h-1.00z"/>
<path fill="#f09c9c" d="M262.00 142.93h1.00v8.07h-1.00z"/>
<path fill="#ffaeae" d="M263.00 142.93h1.00v8.07h-1.00z"/>
<path fill="#ea9c9c" d="M264.00 142.93h1.00v8.07h-1.00z"/>
<path fill="#d8a8ba" d="M265.00 142.93h1.00v8.07h-1.00z"/>
<path fill="#cc96b4" d="M266.00 142.93h1.00v8.07h-1.00z"/>
<path fill="#d26c78" d="M267.00 142.93h1.00v8.07h-1.00z"/>
<path fill="#d28490" d="M268.00 142.93h1.00v8.07h-1.00z"/>
<path fill="#c0a8c6" d="M269.00 142.93h1.00v8.07h-1.00z"/>
<path fill="#fcf6ff" d="M270.00 142.93h1.00v8.07h-1.00z"/>
<path fill="#debac6" d="M271.00 142.93h1.00v8.07h-1.00z"/>
<path fill="#de8a90" d="M272.00 142.93h1.00v8.07h-1.00z"/>
<path fill="#d2727e" d="M273.00 142.93h1.00v8.07h-1.00z"/>
<path fill="#d8aec6" d="M274.00 142.93h1.00v8.07h-1.00z"/>
<path fill="#babade" d="M275.00 142.93h1.00v8.07h-1.00z"/>
<path fill="#c0a8cc" d="M276.00 142.93h1.00v8.07h-1.00z"/>
<path fill="#de788a" d="M277.00 142.93h1.00v8.07h-1.00z"/>
<path fill="#e43630" d="M278.00 142.93h1.00v8.07h-1.00z"/>
<path fill="#d8363c" d="M279.00 142.93h1.00v8.07h-1.00z"/>
<path fill="#cc788a" d="M280.00 142.93h1.00v8.07h-1.00z"/>
<path fill="#ea787e" d="M282.00 142.93h1.00v8.07h-1.00z"/>
<path fill="#d25a5a" d="M283.00 142.93h1.00v8.07h-1.00z"/>
<path fill="#f0b4cc" d="M284.00 142.93h1.00v8.07h-1.00z"/>
<path fill="#9c9cd2" d="M285.00 142.93h1.00v8.07h-1.00z"/>
<path fill="#dee4ff" d="M287.00 142.93h1.00v8.07h-1.00z"/>
<path fill="#f6e4f0" d="M288.00 142.93h1.00v8.07h-1.00z"/>
<path fill="#f0bac0" d="M289.00 142.93h1.00v8.07h-1.00z"/>
<path fill="#cc8a9c" d="M290.00 142.93h1.00v8.07h-1.00z"/>
<path fill="#ba7890" d="M291.00 142.93h1.00v8.07h-1.00z"/>
<path fill="#c67284" d="M292.00 142.93h1.00v8.07h-1.00z"/>
<path fill="#d88496" d="M293.00 142.93h1.00v8.07h-1.00z"/>
<path fill="#e4848a" d="M294.00 142.93h1.00v8.07h-1.00z"/>
<path fill="#d27878" d="M296.00 142.93h1.00v8.07h-1.00z"/>
<path fill="#f6d2e4" d="M297.00 142.93h1.00v8.07h-1.00z"/>
<path fill="#7272a8" d="M299.00 142.93h1.00v8.07h-1.00z"/>
<path fill="#dedeff" d="M300.00 142.93h1.00v8.07h-1.00z"/>
<path fill="#d8ccde" d="M301.00 142.93h1.00v8.07h-1.00z"/>
<path fill="#d2bacc" d="M302.00 142.93h1.00v8.07h-1.00z"/>
<path fill="#baaed2" d="M303.00 142.93h1.00v8.07h-1.00z"/>
<path fill="#8a90cc" d="M304.00 142.93h1.00v8.07h-1.00z"/>
<path fill="#9c96c0" d="M305.00 142.93h1.00v8.07h-1.00z"/>
<path fill="#eac0d2" d="M306.00 142.93h1.00v8.07h-1.00z"/>
<path fill="#f0bacc" d="M307.00 142.93h1.00v8.07h-1.00z"/>
<path fill="#964e72" d="M308.00 142.93h1.00v8.07h-1.00z"/>
<path fill="#ae6084" d="M309.00 142.93h1.00v8.07h-1.00z"/>
<path fill="#cc90b4" d="M310.00 142.93h1.00v8.07h-1.00z"/>
<path fill="#84486c" d="M311.00 142.93h1.00v8.07h-1.00z"/>
<path fill="#e4a8c6" d="M312.00 142.93h1.00v8.07h-1.00z"/>
<path fill="#c66c84" d="M313.00 142.93h1.00v8.07h-1.00z"/>
<path fill="#ba424e" d="M314.00 142.93h1.00v8.07h-1.00z"/>
<path fill="#de909c" d="M315.00 142.93h1.00v8.07h-1.00z"/>
<path fill="#fcdeea" d="M316.00 142.93h1.00v8.07h-1.00z"/>
<path fill="#c690a2" d="M317.00 142.93h1.00v8.07h-1.00z"/>
<path fill="#eae4f6" d="M320.00 142.93h1.00v8.07h-1.00z"/>
<path fill="#9096cc" d="M322.00 142.93h1.00v8.07h-1.00z"/>
<path fill="#c0c6fc" d="M323.00 142.93h1.00v8.07h-1.00z"/>
<path fill="#6c72a8" d="M324.00 142.93h1.00v8.07h-1.00z"/>
<path fill="#c6ccfc" d="M325.00 142.93h1.00v8.07h-1.00z"/>
<path fill="#a896c6" d="M327.00 142.93h1.00v8.07h-1.00z"/>
<path fill="#c08aa8" d="M329.00 142.93h1.00v8.07h-1.00zM381.00 142.93h1.00v8.07h-1.00z"/>
<path fill="#b49cc0" d="M330.00 142.93h1.00v8.07h-1.00z"/>
<path fill="#e4c6d8" d="M331.00 142.93h1.00v8.07h-1.00z"/>
<path fill="#dec0d2" d="M332.00 142.93h1.00v8.07h-1.00z"/>
<path fill="#d8c6d8" d="M333.00 142.93h1.00v8.07h-1.00z"/>
<path fill="#e4d2de" d="M334.00 142.93h1.00v8.07h-1.00zM395.00 142.93h1.00v8.07h-1.00z"/>
<path fill="#fcf0ff" d="M335.00 142.93h1.00v8.07h-1.00z"/>
<path fill="#c0aec6" d="M336.00 142.93h1.00v8.07h-1.00z"/>
<path fill="#c68496" d="M337.00 142.93h1.00v8.07h-1.00z"/>
<path fill="#fc9696" d="M338.00 142.93h1.00v8.07h-1.00z"/>
<path fill="#e48a84" d="M339.00 142.93h1.00v8.07h-1.00z"/>
<path fill="#ffdef0" d="M340.00 142.93h1.00v8.07h-1.00z"/>
<path fill="#7e6c90" d="M341.00 142.93h1.00v8.07h-1.00z"/>
<path fill="#f6c6d8" d="M342.00 142.93h1.00v8.07h-1.00z"/>
<path fill="#f0a8a8" d="M343.00 142.93h1.00v8.07h-1.00z"/>
<path fill="#a28aae" d="M345.00 142.93h1.00v8.07h-1.00z"/>
<path fill="#f0eaff" d="M346.00 142.93h1.00v8.07h-1.00z"/>
<path fill="#a296ba" d="M347.00 142.93h1.00v8.07h-1.00z"/>
<path fill="#d2c0de" d="M348.00 142.93h1.00v8.07h-1.00z"/>
<path fill="#ae96b4" d="M349.00 142.93h1.00v8.07h-1.00z"/>
<path fill="#f0d2e4" d="M350.00 142.93h1.00v8.07h-1.00z"/>
<path fill="#c68a9c" d="M351.00 142.93h1.00v8.07h-1.00z"/>
<path fill="#deaec6" d="M352.00 142.93h1.00v8.07h-1.00z"/>
<path fill="#ded2ea" d="M354.00 142.93h1.00v8.07h-1.00z"/>
<path fill="#ccc6e4" d="M355.00 142.93h1.00v8.07h-1.00z"/>
<path fill="#9096c6" d="M357.00 142.93h1.00v8.07h-1.00z"/>
<path fill="#f0def6" d="M358.00 142.93h1.00v8.07h-1.00z"/>
<path fill="#cc5a54" d="M360.00 142.93h1.00v8.07h-1.00z"/>
<path fill="#ffc6c6" d="M361.00 142.93h1.00v8.07h-1.00z"/>
<path fill="#f0d2d8" d="M362.00 142.93h1.00v8.07h-1.00z"/>
<path fill="#f0d8e4" d="M363.00 142.93h1.00v8.07h-1.00z"/>
<path fill="#c08a9c" d="M364.00 142.93h1.00v8.07h-1.00z"/>
<path fill="#f69ca2" d="M365.00 142.93h1.00v8.07h-1.00z"/>
<path fill="#c6728a" d="M366.00 142.93h1.00v8.07h-1.00z"/>
<path fill="#6c4e90" d="M367.00 142.93h1.00v8.07h-1.00z"/>
<path fill="#a29cd2" d="M368.00 142.93h1.00v8.07h-1.00z"/>
<path fill="#eaccd8" d="M369.00 142.93h1.00v8.07h-1.00z"/>
<path fill="#f6c0cc" d="M370.00 142.93h1.00v8.07h-1.00z"/>
<path fill="#a26c84" d="M371.00 142.93h1.00v8.07h-1.00z"/>
<path fill="#c690ae" d="M372.00 142.93h1.00v8.07h-1.00z"/>
<path fill="#ae8aae" d="M374.00 142.93h1.00v8.07h-1.00z"/>
<path fill="#d8788a" d="M375.00 142.93h1.00v8.07h-1.00z"/>
<path fill="#ea4e48" d="M376.00 142.93h1.00v8.07h-1.00z"/>
<path fill="#de4842" d="M377.00 142.93h1.00v8.07h-1.00z"/>
<path fill="#ffa8ae" d="M378.00 142.93h1.00v8.07h-1.00z"/>
<path fill="#d8909c" d="M380.00 142.93h1.00v8.07h-1.00z"/>
<path fill="#a87ea2" d="M382.00 142.93h1.00v8.07h-1.00z"/>
<path fill="#de7884" d="M383.00 142.93h1.00v8.07h-1.00z"/>
<path fill="#e4787e" d="M384.00 142.93h1.00v8.07h-1.00z"/>
<path fill="#e49ca8" d="M385.00 142.93h1.00v8.07h-1.00z"/>
<path fill="#eab4c0" d="M386.00 142.93h1.00v8.07h-1.00z"/>
<path fill="#a27ea2" d="M387.00 142.93h1.00v8.07h-1.00z"/>
<path fill="#baa8cc" d="M388.00 142.93h1.00v8.07h-1.00z"/>
<path fill="#e4c0d2" d="M389.00 142.93h1.00v8.07h-1.00z"/>
<path fill="#baa2cc" d="M390.00 142.93h1.00v8.07h-1.00z"/>
<path fill="#66669c" d="M391.00 142.93h1.00v8.07h-1.00z"/>
<path fill="#dedefc" d="M392.00 142.93h1.00v8.07h-1.00z"/>
<path fill="#f0dee4" d="M393.00 142.93h1.00v8.07h-1.00z"/>
<path fill="#ffc6cc" d="M396.00 142.93h1.00v8.07h-1.00z"/>
<path fill="#f67e78" d="M397.00 142.93h1.00v8.07h-1.00z"/>
<path fill="#d83c42" d="M398.00 142.93h1.00v8.07h-1.00z"/>
<path fill="#ba5a7e" d="M399.00 142.93h1.00v8.07h-1.00z"/>
<path fill="#6c427e" d="M400.00 142.93h1.00v8.07h-1.00z"/>
<path fill="#ae6c90" d="M401.00 142.93h1.00v8.07h-1.00z"/>
<path fill="#dea8c6" d="M402.00 142.93h1.00v8.07h-1.00z"/>
<path fill="#a87ea8" d="M403.00 142.93h1.00v8.07h-1.00z"/>
<path fill="#c0546c" d="M404.00 142.93h1.00v8.07h-1.00z"/>
<path fill="#c05460" d="M405.00 142.93h1.00v8.07h-1.00z"/>
<path fill="#eabacc" d="M406.00 142.93h1.00v8.07h-1.00z"/>
<path fill="#f0d2de" d="M407.00 142.93h1.00v8.07h-1.00z"/>
<path fill="#eabac0" d="M408.00 142.93h1.00v8.07h-1.00z"/>
<path fill="#fcaeb4" d="M409.00 142.93h1.00v8.07h-1.00z"/>
<path fill="#e45454" d="M410.00 142.93h1.00v8.07h-1.00z"/>
<path fill="#f03024" d="M411.00 142.93h0.10v8.07h-0.10z"/>
<rect x="82.5" y="126.2" width="329.2" height="25.39999999999999" fill="none" stroke="#1a1a1a" stroke-width="1.1"/>
<path fill="#545ab4" d="M83.10 157.20h0.90v8.80h-0.90z"/>
<path fill="#7884c0" d="M84.00 157.20h1.00v8.80h-1.00z"/>
<path fill="#eaeaff" d="M85.00 157.20h1.00v8.80h-1.00z"/>
<path fill="#a29cc6" d="M86.00 157.20h1.00v8.80h-1.00z"/>
<path fill="#a27ea8" d="M87.00 157.20h1.00v8.80h-1.00zM113.00 157.20h1.00v8.80h-1.00z"/>
<path fill="#cca8cc" d="M88.00 157.20h1.00v8.80h-1.00z"/>
<path fill="#7e6cae" d="M89.00 157.20h1.00v8.80h-1.00z"/>
<path fill="#786ca8" d="M90.00 157.20h1.00v8.80h-1.00z"/>
<path fill="#d8c6f0" d="M91.00 157.20h1.00v8.80h-1.00z"/>
<path fill="#7e7ec0" d="M92.00 157.20h1.00v8.80h-1.00z"/>
<path fill="#42489c" d="M93.00 157.20h1.00v8.80h-1.00z"/>
<path fill="#9696d2" d="M94.00 157.20h1.00v8.80h-1.00z"/>
<path fill="#c0c0ea" d="M95.00 157.20h1.00v8.80h-1.00z"/>
<path fill="#8a90c6" d="M96.00 157.20h1.00v8.80h-1.00zM117.00 157.20h1.00v8.80h-1.00z"/>
<path fill="#9ca2d8" d="M97.00 157.20h1.00v8.80h-1.00z"/>
<path fill="#b4b4de" d="M98.00 157.20h1.00v8.80h-1.00z"/>
<path fill="#cc8aa8" d="M99.00 157.20h1.00v8.80h-1.00z"/>
<path fill="#c63c42" d="M100.00 157.20h1.00v8.80h-1.00z"/>
<path fill="#ea7284" d="M101.00 157.20h1.00v8.80h-1.00z"/>
<path fill="#785a90" d="M102.00 157.20h1.00v8.80h-1.00z"/>
<path fill="#7e7ec6" d="M103.00 157.20h1.00v8.80h-1.00z"/>
<path fill="#9ca2cc" d="M104.00 157.20h1.00v8.80h-1.00z"/>
<path fill="#f6f6ff" d="M105.00 157.20h1.00v8.80h-1.00z"/>
<path fill="#bab4de" d="M106.00 157.20h1.00v8.80h-1.00z"/>
<path fill="#484e96" d="M107.00 157.20h1.00v8.80h-1.00z"/>
<path fill="#a29cde" d="M108.00 157.20h1.00v8.80h-1.00z"/>
<path fill="#7e548a" d="M109.00 157.20h1.00v8.80h-1.00z"/>
<path fill="#844e8a" d="M110.00 157.20h1.00v8.80h-1.00z"/>
<path fill="#8a72a8" d="M111.00 157.20h1.00v8.80h-1.00z"/>
<path fill="#d2bae4" d="M112.00 157.20h1.00v8.80h-1.00z"/>
<path fill="#78609c" d="M114.00 157.20h1.00v8.80h-1.00z"/>
<path fill="#9090c6" d="M115.00 157.20h1.00v8.80h-1.00z"/>
<path fill="#dedeff" d="M116.00 157.20h1.00v8.80h-1.00z"/>
<path fill="#7e84d2" d="M118.00 157.20h1.00v8.80h-1.00z"/>
<path fill="#424e9c" d="M119.00 157.20h1.00v8.80h-1.00z"/>
<path fill="#aeaee4" d="M120.00 157.20h1.00v8.80h-1.00z"/>
<path fill="#d8d2ea" d="M121.00 157.20h1.00v8.80h-1.00z"/>
<path fill="#deccd8" d="M122.00 157.20h1.00v8.80h-1.00z"/>
<path fill="#f0eafc" d="M123.00 157.20h1.00v8.80h-1.00z"/>
<path fill="#9c96b4" d="M124.00 157.20h1.00v8.80h-1.00z"/>
<path fill="#f6eaf6" d="M125.00 157.20h1.00v8.80h-1.00zM221.00 157.20h1.00v8.80h-1.00z"/>
<path fill="#f6e4ea" d="M126.00 157.20h1.00v8.80h-1.00z"/>
<path fill="#f6c0c6" d="M127.00 157.20h1.00v8.80h-1.00z"/>
<path fill="#ea969c" d="M128.00 157.20h1.00v8.80h-1.00z"/>
<path fill="#904e7e" d="M129.00 157.20h1.00v8.80h-1.00z"/>
<path fill="#6c60a2" d="M130.00 157.20h1.00v8.80h-1.00z"/>
<path fill="#909cde" d="M131.00 157.20h1.00v8.80h-1.00z"/>
<path fill="#9078ae" d="M132.00 157.20h1.00v8.80h-1.00z"/>
<path fill="#c06c7e" d="M133.00 157.20h1.00v8.80h-1.00z"/>
<path fill="#fcaeb4" d="M134.00 157.20h1.00v8.80h-1.00z"/>
<path fill="#ead2ea" d="M135.00 157.20h1.00v8.80h-1.00z"/>
<path fill="#8478a8" d="M136.00 157.20h1.00v8.80h-1.00z"/>
<path fill="#c6a2cc" d="M137.00 157.20h1.00v8.80h-1.00z"/>
<path fill="#90547e" d="M138.00 157.20h1.00v8.80h-1.00z"/>
<path fill="#ae6c8a" d="M139.00 157.20h1.00v8.80h-1.00z"/>
<path fill="#d8aecc" d="M140.00 157.20h1.00v8.80h-1.00z"/>
<path fill="#908ac6" d="M141.00 157.20h1.00v8.80h-1.00z"/>
<path fill="#545aa8" d="M142.00 157.20h1.00v8.80h-1.00z"/>
<path fill="#a2a8de" d="M143.00 157.20h1.00v8.80h-1.00z"/>
<path fill="#d2ccf6" d="M144.00 157.20h1.00v8.80h-1.00z"/>
<path fill="#a290ae" d="M145.00 157.20h1.00v8.80h-1.00z"/>
<path fill="#f0c6cc" d="M146.00 157.20h1.00v8.80h-1.00z"/>
<path fill="#f6d2d2" d="M147.00 157.20h1.00v8.80h-1.00zM263.00 157.20h1.00v8.80h-1.00z"/>
<path fill="#d8c6d2" d="M148.00 157.20h1.00v8.80h-1.00z"/>
<path fill="#e4d8ea" d="M149.00 157.20h1.00v8.80h-1.00z"/>
<path fill="#d2cce4" d="M150.00 157.20h1.00v8.80h-1.00z"/>
<path fill="#a8a2cc" d="M151.00 157.20h1.00v8.80h-1.00z"/>
<path fill="#a28ab4" d="M152.00 157.20h1.00v8.80h-1.00z"/>
<path fill="#c68aa8" d="M153.00 157.20h1.00v8.80h-1.00z"/>
<path fill="#d290a2" d="M154.00 157.20h1.00v8.80h-1.00zM219.00 157.20h1.00v8.80h-1.00z"/>
<path fill="#dea2ba" d="M155.00 157.20h1.00v8.80h-1.00z"/>
<path fill="#966084" d="M156.00 157.20h1.00v8.80h-1.00z"/>
<path fill="#f69ca8" d="M157.00 157.20h1.00v8.80h-1.00z"/>
<path fill="#d2605a" d="M158.00 157.20h1.00v8.80h-1.00z"/>
<path fill="#ffccd2" d="M159.00 157.20h1.00v8.80h-1.00z"/>
<path fill="#eaccde" d="M160.00 157.20h1.00v8.80h-1.00z"/>
<path fill="#d28496" d="M161.00 157.20h1.00v8.80h-1.00z"/>
<path fill="#c66072" d="M162.00 157.20h1.00v8.80h-1.00zM176.00 157.20h1.00v8.80h-1.00z"/>
<path fill="#b484ae" d="M163.00 157.20h1.00v8.80h-1.00z"/>
<path fill="#a890b4" d="M164.00 157.20h1.00v8.80h-1.00z"/>
<path fill="#ffc6cc" d="M165.00 157.20h1.00v8.80h-1.00zM204.00 157.20h1.00v8.80h-1.00zM304.00 157.20h1.00v8.80h-1.00z"/>
<path fill="#c66c6c" d="M166.00 157.20h1.00v8.80h-1.00z"/>
<path fill="#ffe4ea" d="M167.00 157.20h1.00v8.80h-1.00zM274.00 157.20h1.00v8.80h-1.00z"/>
<path fill="#f6eaf0" d="M168.00 157.20h1.00v8.80h-1.00z"/>
<path fill="#e4ccd2" d="M169.00 157.20h1.00v8.80h-1.00z"/>
<path fill="#f0c0c0" d="M170.00 157.20h1.00v8.80h-1.00z"/>
<path fill="#ffc0ba" d="M171.00 157.20h1.00v8.80h-1.00z"/>
<path fill="#f69c96" d="M172.00 157.20h1.00v8.80h-1.00z"/>
<path fill="#f08a84" d="M173.00 157.20h1.00v8.80h-1.00z"/>
<path fill="#ea9cae" d="M174.00 157.20h1.00v8.80h-1.00z"/>
<path fill="#a2607e" d="M175.00 157.20h1.00v8.80h-1.00z"/>
<path fill="#ffa8a8" d="M177.00 157.20h1.00v8.80h-1.00z"/>
<path fill="#ffccc6" d="M178.00 157.20h1.00v8.80h-1.00z"/>
<path fill="#cc6066" d="M179.00 157.20h1.00v8.80h-1.00z"/>
<path fill="#f07e7e" d="M180.00 157.20h1.00v8.80h-1.00z"/>
<path fill="#fc7872" d="M181.00 157.20h1.00v8.80h-1.00z"/>
<path fill="#de4e48" d="M182.00 157.20h1.00v8.80h-1.00z"/>
<path fill="#f69c9c" d="M183.00 157.20h1.00v8.80h-1.00z"/>
<path fill="#f6deea" d="M184.00 157.20h1.00v8.80h-1.00z"/>
<path fill="#ba96ae" d="M185.00 157.20h1.00v8.80h-1.00z"/>
<path fill="#ea7e84" d="M186.00 157.20h1.00v8.80h-1.00z"/>
<path fill="#e4423c" d="M187.00 157.20h1.00v8.80h-1.00z"/>
<path fill="#fc6666" d="M188.00 157.20h1.00v8.80h-1.00z"/>
<path fill="#c65460" d="M189.00 157.20h1.00v8.80h-1.00z"/>
<path fill="#de96a8" d="M190.00 157.20h1.00v8.80h-1.00z"/>
<path fill="#ffc6c6" d="M191.00 157.20h1.00v8.80h-1.00z"/>
<path fill="#de9096" d="M192.00 157.20h1.00v8.80h-1.00z"/>
<path fill="#dea8ba" d="M193.00 157.20h1.00v8.80h-1.00z"/>
<path fill="#e4ccde" d="M194.00 157.20h1.00v8.80h-1.00zM341.00 157.20h1.00v8.80h-1.00z"/>
<path fill="#cc9cae" d="M195.00 157.20h1.00v8.80h-1.00z"/>
<path fill="#e48a8a" d="M196.00 157.20h1.00v8.80h-1.00zM345.00 157.20h1.00v8.80h-1.00z"/>
<path fill="#e49096" d="M197.00 157.20h1.00v8.80h-1.00z"/>
<path fill="#ccaec6" d="M198.00 157.20h1.00v8.80h-1.00z"/>
<path fill="#ccc6ea" d="M199.00 157.20h1.00v8.80h-1.00z"/>
<path fill="#c0c0d8" d="M200.00 157.20h1.00v8.80h-1.00z"/>
<path fill="#f0def6" d="M201.00 157.20h1.00v8.80h-1.00z"/>
<path fill="#c08aa2" d="M202.00 157.20h1.00v8.80h-1.00z"/>
<path fill="#a24e60" d="M203.00 157.20h1.00v8.80h-1.00z"/>
<path fill="#e4a8ae" d="M205.00 157.20h1.00v8.80h-1.00z"/>
<path fill="#c0a2ba" d="M206.00 157.20h1.00v8.80h-1.00z"/>
<path fill="#ccb4d2" d="M207.00 157.20h1.00v8.80h-1.00z"/>
<path fill="#f0aeb4" d="M208.00 157.20h1.00v8.80h-1.00z"/>
<path fill="#fc9090" d="M209.00 157.20h1.00v8.80h-1.00z"/>
<path fill="#ea605a" d="M210.00 157.20h1.00v8.80h-1.00z"/>
<path fill="#d26666" d="M211.00 157.20h1.00v8.80h-1.00z"/>
<path fill="#fcdeea" d="M212.00 157.20h1.00v8.80h-1.00z"/>
<path fill="#d2d8fc" d="M213.00 157.20h1.00v8.80h-1.00z"/>
<path fill="#4854a2" d="M214.00 157.20h1.00v8.80h-1.00z"/>
<path fill="#5a4e9c" d="M215.00 157.20h1.00v8.80h-1.00z"/>
<path fill="#a884a8" d="M216.00 157.20h1.00v8.80h-1.00z"/>
<path fill="#f6d8f0" d="M217.00 157.20h1.00v8.80h-1.00z"/>
<path fill="#d2aec0" d="M218.00 157.20h1.00v8.80h-1.00zM364.00 157.20h1.00v8.80h-1.00z"/>
<path fill="#b48aa2" d="M220.00 157.20h1.00v8.80h-1.00z"/>
<path fill="#eae4f6" d="M222.00 157.20h1.00v8.80h-1.00z"/>
<path fill="#b4b4d2" d="M223.00 157.20h1.00v8.80h-1.00z"/>
<path fill="#d2c6de" d="M224.00 157.20h1.00v8.80h-1.00z"/>
<path fill="#d2c0d2" d="M225.00 157.20h1.00v8.80h-1.00z"/>
<path fill="#ffdee4" d="M226.00 157.20h1.00v8.80h-1.00z"/>
<path fill="#deaeba" d="M227.00 157.20h1.00v8.80h-1.00zM295.00 157.20h1.00v8.80h-1.00z"/>
<path fill="#a88aba" d="M228.00 157.20h1.00v8.80h-1.00z"/>
<path fill="#9672a2" d="M229.00 157.20h1.00v8.80h-1.00z"/>
<path fill="#d8788a" d="M230.00 157.20h1.00v8.80h-1.00z"/>
<path fill="#f6847e" d="M231.00 157.20h1.00v8.80h-1.00z"/>
<path fill="#ff9690" d="M232.00 157.20h1.00v8.80h-1.00zM270.00 157.20h1.00v8.80h-1.00zM288.00 157.20h1.00v8.80h-1.00z"/>
<path fill="#e47872" d="M233.00 157.20h1.00v8.80h-1.00z"/>
<path fill="#fcb4c6" d="M234.00 157.20h1.00v8.80h-1.00z"/>
<path fill="#9c668a" d="M235.00 157.20h1.00v8.80h-1.00z"/>
<path fill="#c05a72" d="M236.00 157.20h1.00v8.80h-1.00z"/>
<path fill="#f0909c" d="M237.00 157.20h1.00v8.80h-1.00z"/>
<path fill="#c67e90" d="M238.00 157.20h1.00v8.80h-1.00z"/>
<path fill="#d2a2ba" d="M239.00 157.20h1.00v8.80h-1.00z"/>
<path fill="#9c90ba" d="M240.00 157.20h1.00v8.80h-1.00z"/>
<path fill="#d2bad8" d="M241.00 157.20h1.00v8.80h-1.00z"/>
<path fill="#d87e84" d="M242.00 157.20h1.00v8.80h-1.00z"/>
<path fill="#de666c" d="M243.00 157.20h1.00v8.80h-1.00z"/>
<path fill="#de848a" d="M244.00 157.20h1.00v8.80h-1.00z"/>
<path fill="#f6d2de" d="M245.00 157.20h1.00v8.80h-1.00z"/>
<path fill="#b496ba" d="M246.00 157.20h1.00v8.80h-1.00z"/>
<path fill="#d27284" d="M247.00 157.20h1.00v8.80h-1.00z"/>
<path fill="#c04242" d="M248.00 157.20h1.00v8.80h-1.00z"/>
<path fill="#ffeaea" d="M249.00 157.20h1.00v8.80h-1.00zM281.00 157.20h1.00v8.80h-1.00z"/>
<path fill="#eadeea" d="M250.00 157.20h1.00v8.80h-1.00z"/>
<path fill="#ffc0c6" d="M251.00 157.20h1.00v8.80h-1.00zM350.00 157.20h1.00v8.80h-1.00z"/>
<path fill="#d24242" d="M252.00 157.20h1.00v8.80h-1.00z"/>
<path fill="#ea6660" d="M253.00 157.20h1.00v8.80h-1.00z"/>
<path fill="#ffd2e4" d="M254.00 157.20h1.00v8.80h-1.00z"/>
<path fill="#8a608a" d="M255.00 157.20h1.00v8.80h-1.00z"/>
<path fill="#d88496" d="M256.00 157.20h1.00v8.80h-1.00zM366.00 157.20h1.00v8.80h-1.00z"/>
<path fill="#ff9c9c" d="M257.00 157.20h1.00v8.80h-1.00z"/>
<path fill="#b45a78" d="M258.00 157.20h1.00v8.80h-1.00z"/>
<path fill="#72549c" d="M259.00 157.20h1.00v8.80h-1.00z"/>
<path fill="#605aa2" d="M260.00 157.20h1.00v8.80h-1.00z"/>
<path fill="#ccaecc" d="M261.00 157.20h1.00v8.80h-1.00zM305.00 157.20h1.00v8.80h-1.00z"/>
<path fill="#ffdede" d="M262.00 157.20h1.00v8.80h-1.00zM273.00 157.20h1.00v8.80h-1.00z"/>
<path fill="#fcdede" d="M264.00 157.20h1.00v8.80h-1.00z"/>
<path fill="#f0d2e4" d="M265.00 157.20h1.00v8.80h-1.00z"/>
<path fill="#a87296" d="M266.00 157.20h1.00v8.80h-1.00z"/>
<path fill="#b46078" d="M267.00 157.20h1.00v8.80h-1.00z"/>
<path fill="#ff9ca2" d="M268.00 157.20h1.00v8.80h-1.00z"/>
<path fill="#de605a" d="M269.00 157.20h1.00v8.80h-1.00z"/>
<path fill="#de5a54" d="M271.00 157.20h1.00v8.80h-1.00z"/>
<path fill="#f0847e" d="M272.00 157.20h1.00v8.80h-1.00z"/>
<path fill="#b48496" d="M275.00 157.20h1.00v8.80h-1.00z"/>
<path fill="#d8b4cc" d="M276.00 157.20h1.00v8.80h-1.00z"/>
<path fill="#d2b4d8" d="M277.00 157.20h1.00v8.80h-1.00z"/>
<path fill="#6c609c" d="M278.00 157.20h1.00v8.80h-1.00z"/>
<path fill="#a8aede" d="M279.00 157.20h1.00v8.80h-1.00z"/>
<path fill="#f0f0fc" d="M280.00 157.20h1.00v8.80h-1.00z"/>
<path fill="#dea2ae" d="M282.00 157.20h1.00v8.80h-1.00z"/>
<path fill="#a8728a" d="M283.00 157.20h1.00v8.80h-1.00z"/>
<path fill="#f0d2ea" d="M284.00 157.20h1.00v8.80h-1.00z"/>
<path fill="#c6c0de" d="M285.00 157.20h1.00v8.80h-1.00z"/>
<path fill="#baa2c0" d="M286.00 157.20h1.00v8.80h-1.00z"/>
<path fill="#d88490" d="M287.00 157.20h1.00v8.80h-1.00z"/>
<path fill="#fc7e78" d="M289.00 157.20h1.00v8.80h-1.00z"/>
<path fill="#d2484e" d="M290.00 157.20h1.00v8.80h-1.00z"/>
<path fill="#c0728a" d="M291.00 157.20h1.00v8.80h-1.00z"/>
<path fill="#baa2d2" d="M292.00 157.20h1.00v8.80h-1.00z"/>
<path fill="#7878a8" d="M293.00 157.20h1.00v8.80h-1.00z"/>
<path fill="#ded2f0" d="M294.00 157.20h1.00v8.80h-1.00z"/>
<path fill="#f09090" d="M296.00 157.20h1.00v8.80h-1.00z"/>
<path fill="#de6666" d="M297.00 157.20h1.00v8.80h-1.00z"/>
<path fill="#e4848a" d="M298.00 157.20h1.00v8.80h-1.00z"/>
<path fill="#d8aec6" d="M299.00 157.20h1.00v8.80h-1.00z"/>
<path fill="#968ab4" d="M300.00 157.20h1.00v8.80h-1.00z"/>
<path fill="#dec0de" d="M301.00 157.20h1.00v8.80h-1.00zM319.00 157.20h1.00v8.80h-1.00z"/>
<path fill="#f6a2a2" d="M302.00 157.20h1.00v8.80h-1.00z"/>
<path fill="#d86660" d="M303.00 157.20h1.00v8.80h-1.00z"/>
<path fill="#8a5a8a" d="M306.00 157.20h1.00v8.80h-1.00z"/>
<path fill="#c06c8a" d="M307.00 157.20h1.00v8.80h-1.00z"/>
<path fill="#e4a2ae" d="M308.00 157.20h1.00v8.80h-1.00z"/>
<path fill="#f6a8b4" d="M309.00 157.20h1.00v8.80h-1.00z"/>
<path fill="#c04e54" d="M310.00 157.20h1.00v8.80h-1.00z"/>
<path fill="#f0969c" d="M311.00 157.20h1.00v8.80h-1.00z"/>
<path fill="#ffb4ba" d="M312.00 157.20h1.00v8.80h-1.00z"/>
<path fill="#d2666c" d="M313.00 157.20h1.00v8.80h-1.00z"/>
<path fill="#de7e8a" d="M314.00 157.20h1.00v8.80h-1.00z"/>
<path fill="#f0b4ba" d="M315.00 157.20h1.00v8.80h-1.00z"/>
<path fill="#f0b4c6" d="M316.00 157.20h1.00v8.80h-1.00z"/>
<path fill="#906690" d="M317.00 157.20h1.00v8.80h-1.00z"/>
<path fill="#9c8ac0" d="M318.00 157.20h1.00v8.80h-1.00z"/>
<path fill="#ea9696" d="M320.00 157.20h1.00v8.80h-1.00z"/>
<path fill="#ea8a84" d="M321.00 157.20h1.00v8.80h-1.00zM376.00 157.20h1.00v8.80h-1.00z"/>
<path fill="#ffbaba" d="M322.00 157.20h1.00v8.80h-1.00zM394.00 157.20h1.00v8.80h-1.00z"/>
<path fill="#de9696" d="M323.00 157.20h1.00v8.80h-1.00z"/>
<path fill="#f0ccde" d="M324.00 157.20h1.00v8.80h-1.00z"/>
<path fill="#b4a8cc" d="M325.00 157.20h1.00v8.80h-1.00z"/>
<path fill="#ae8aa8" d="M326.00 157.20h1.00v8.80h-1.00z"/>
<path fill="#e4b4c0" d="M327.00 157.20h1.00v8.80h-1.00z"/>
<path fill="#f6d2d8" d="M328.00 157.20h1.00v8.80h-1.00zM379.00 157.20h1.00v8.80h-1.00z"/>
<path fill="#eac0c6" d="M329.00 157.20h1.00v8.80h-1.00z"/>
<path fill="#eaa2a2" d="M330.00 157.20h1.00v8.80h-1.00zM387.00 157.20h1.00v8.80h-1.00z"/>
<path fill="#f6a8a8" d="M331.00 157.20h1.00v8.80h-1.00z"/>
<path fill="#f6aeb4" d="M332.00 157.20h1.00v8.80h-1.00z"/>
<path fill="#cc7e8a" d="M333.00 157.20h1.00v8.80h-1.00z"/>
<path fill="#f0bac0" d="M334.00 157.20h1.00v8.80h-1.00z"/>
<path fill="#fcb4ba" d="M335.00 157.20h1.00v8.80h-1.00z"/>
<path fill="#cc666c" d="M336.00 157.20h1.00v8.80h-1.00z"/>
<path fill="#e4a2c0" d="M337.00 157.20h1.00v8.80h-1.00z"/>
<path fill="#785a8a" d="M338.00 157.20h1.00v8.80h-1.00z"/>
<path fill="#d8a2ba" d="M339.00 157.20h1.00v8.80h-1.00z"/>
<path fill="#d296a2" d="M340.00 157.20h1.00v8.80h-1.00z"/>
<path fill="#dedefc" d="M342.00 157.20h1.00v8.80h-1.00z"/>
<path fill="#8a90ba" d="M343.00 157.20h1.00v8.80h-1.00z"/>
<path fill="#dec0d8" d="M344.00 157.20h1.00v8.80h-1.00z"/>
<path fill="#ea7872" d="M346.00 157.20h1.00v8.80h-1.00z"/>
<path fill="#fcaeae" d="M347.00 157.20h1.00v8.80h-1.00z"/>
<path fill="#d8aec0" d="M348.00 157.20h1.00v8.80h-1.00z"/>
<path fill="#d8c0d8" d="M349.00 157.20h1.00v8.80h-1.00z"/>
<path fill="#c63c3c" d="M351.00 157.20h1.00v8.80h-1.00z"/>
<path fill="#ea8a96" d="M352.00 157.20h1.00v8.80h-1.00z"/>
<path fill="#c0a2c0" d="M353.00 157.20h1.00v8.80h-1.00z"/>
<path fill="#c6c0ea" d="M354.00 157.20h1.00v8.80h-1.00z"/>
<path fill="#6c72ae" d="M355.00 157.20h1.00v8.80h-1.00z"/>
<path fill="#a29cd2" d="M356.00 157.20h1.00v8.80h-1.00z"/>
<path fill="#c6a8d2" d="M357.00 157.20h1.00v8.80h-1.00z"/>
<path fill="#9072a2" d="M358.00 157.20h1.00v8.80h-1.00z"/>
<path fill="#846c9c" d="M359.00 157.20h1.00v8.80h-1.00z"/>
<path fill="#f0b4cc" d="M360.00 157.20h1.00v8.80h-1.00z"/>
<path fill="#d2847e" d="M361.00 157.20h1.00v8.80h-1.00z"/>
<path fill="#ffe4e4" d="M362.00 157.20h1.00v8.80h-1.00z"/>
<path fill="#ead2de" d="M363.00 157.20h1.00v8.80h-1.00z"/>
<path fill="#e48a96" d="M365.00 157.20h1.00v8.80h-1.00z"/>
<path fill="#9078a8" d="M367.00 157.20h1.00v8.80h-1.00z"/>
<path fill="#9096cc" d="M368.00 157.20h1.00v8.80h-1.00z"/>
<path fill="#ffdef0" d="M369.00 157.20h1.00v8.80h-1.00z"/>
<path fill="#cc4e48" d="M370.00 157.20h1.00v8.80h-1.00z"/>
<path fill="#ea6c6c" d="M371.00 157.20h1.00v8.80h-1.00z"/>
<path fill="#f6bac0" d="M372.00 157.20h1.00v8.80h-1.00z"/>
<path fill="#fcd8de" d="M373.00 157.20h1.00v8.80h-1.00z"/>
<path fill="#fcc6c6" d="M374.00 157.20h1.00v8.80h-1.00z"/>
<path fill="#ffaeae" d="M375.00 157.20h1.00v8.80h-1.00z"/>
<path fill="#fca8a8" d="M377.00 157.20h1.00v8.80h-1.00z"/>
<path fill="#fccccc" d="M378.00 157.20h1.00v8.80h-1.00z"/>
<path fill="#d2aeba" d="M380.00 157.20h1.00v8.80h-1.00z"/>
<path fill="#e4c0cc" d="M381.00 157.20h1.00v8.80h-1.00z"/>
<path fill="#ead8f6" d="M382.00 157.20h1.00v8.80h-1.00z"/>
<path fill="#7e78a2" d="M383.00 157.20h1.00v8.80h-1.00z"/>
<path fill="#fce4f6" d="M384.00 157.20h1.00v8.80h-1.00z"/>
<path fill="#e4a2a2" d="M385.00 157.20h1.00v8.80h-1.00z"/>
<path fill="#f6a2a8" d="M386.00 157.20h1.00v8.80h-1.00z"/>
<path fill="#eab4ba" d="M388.00 157.20h1.00v8.80h-1.00z"/>
<path fill="#c6bae4" d="M389.00 157.20h1.00v8.80h-1.00z"/>
<path fill="#54488a" d="M390.00 157.20h1.00v8.80h-1.00z"/>
<path fill="#b46c90" d="M391.00 157.20h1.00v8.80h-1.00z"/>
<path fill="#e47278" d="M392.00 157.20h1.00v8.80h-1.00z"/>
<path fill="#f69696" d="M393.00 157.20h1.00v8.80h-1.00zM395.00 157.20h1.00v8.80h-1.00z"/>
<path fill="#f07e78" d="M396.00 157.20h1.00v8.80h-1.00z"/>
<path fill="#f6908a" d="M397.00 157.20h1.00v8.80h-1.00z"/>
<path fill="#ffb4b4" d="M398.00 157.20h1.00v8.80h-1.00z"/>
<path fill="#b4667e" d="M399.00 157.20h1.00v8.80h-1.00z"/>
<path fill="#a86690" d="M400.00 157.20h1.00v8.80h-1.00z"/>
<path fill="#964872" d="M401.00 157.20h1.00v8.80h-1.00z"/>
<path fill="#c684ae" d="M402.00 157.20h1.00v8.80h-1.00z"/>
<path fill="#8a6ca8" d="M403.00 157.20h1.00v8.80h-1.00z"/>
<path fill="#665a9c" d="M404.00 157.20h1.00v8.80h-1.00z"/>
<path fill="#c0b4ea" d="M405.00 157.20h1.00v8.80h-1.00z"/>
<path fill="#7e78a8" d="M406.00 157.20h1.00v8.80h-1.00z"/>
<path fill="#f6c0d8" d="M407.00 157.20h1.00v8.80h-1.00z"/>
<path fill="#d84848" d="M408.00 157.20h1.00v8.80h-1.00z"/>
<path fill="#ea544e" d="M409.00 157.20h1.00v8.80h-1.00z"/>
<path fill="#ffa2a2" d="M410.00 157.20h1.00v8.80h-1.00z"/>
<path fill="#ffd8d2" d="M411.00 157.20h0.10v8.80h-0.10z"/>
<path fill="#d2d2fc" d="M83.10 165.40h0.90v8.80h-0.90z"/>
<path fill="#726ca2" d="M84.00 165.40h1.00v8.80h-1.00z"/>
<path fill="#c6b4ea" d="M85.00 165.40h1.00v8.80h-1.00z"/>
<path fill="#665a9c" d="M86.00 165.40h1.00v8.80h-1.00z"/>
<path fill="#7e78ba" d="M87.00 165.40h1.00v8.80h-1.00z"/>
<path fill="#d8d2fc" d="M88.00 165.40h1.00v8.80h-1.00z"/>
<path fill="#8484b4" d="M89.00 165.40h1.00v8.80h-1.00z"/>
<path fill="#baaed2" d="M90.00 165.40h1.00v8.80h-1.00zM163.00 165.40h1.00v8.80h-1.00z"/>
<path fill="#ead8f0" d="M91.00 165.40h1.00v8.80h-1.00z"/>
<path fill="#9696cc" d="M92.00 165.40h1.00v8.80h-1.00z"/>
<path fill="#605a9c" d="M93.00 165.40h1.00v8.80h-1.00z"/>
<path fill="#a884b4" d="M94.00 165.40h1.00v8.80h-1.00z"/>
<path fill="#c09cb4" d="M95.00 165.40h1.00v8.80h-1.00z"/>
<path fill="#fff0f6" d="M96.00 165.40h1.00v8.80h-1.00z"/>
<path fill="#f0d2e4" d="M97.00 165.40h1.00v8.80h-1.00z"/>
<path fill="#7e669c" d="M98.00 165.40h1.00v8.80h-1.00z"/>
<path fill="#a872a2" d="M99.00 165.40h1.00v8.80h-1.00z"/>
<path fill="#d2606c" d="M100.00 165.40h1.00v8.80h-1.00z"/>
<path fill="#ea90a2" d="M101.00 165.40h1.00v8.80h-1.00z"/>
<path fill="#78609c" d="M102.00 165.40h1.00v8.80h-1.00z"/>
<path fill="#8a90d8" d="M103.00 165.40h1.00v8.80h-1.00z"/>
<path fill="#8a8ac0" d="M104.00 165.40h1.00v8.80h-1.00z"/>
<path fill="#e4deff" d="M105.00 165.40h1.00v8.80h-1.00z"/>
<path fill="#9ca2d2" d="M106.00 165.40h1.00v8.80h-1.00z"/>
<path fill="#6c78c0" d="M107.00 165.40h1.00v8.80h-1.00z"/>
<path fill="#726cc0" d="M108.00 165.40h1.00v8.80h-1.00z"/>
<path fill="#6c4284" d="M109.00 165.40h1.00v8.80h-1.00z"/>
<path fill="#964e78" d="M110.00 165.40h1.00v8.80h-1.00z"/>
<path fill="#d2a2ba" d="M111.00 165.40h1.00v8.80h-1.00z"/>
<path fill="#d8c6e4" d="M112.00 165.40h1.00v8.80h-1.00z"/>
<path fill="#ae9cc6" d="M113.00 165.40h1.00v8.80h-1.00z"/>
<path fill="#7e78ae" d="M114.00 165.40h1.00v8.80h-1.00z"/>
<path fill="#969ccc" d="M115.00 165.40h1.00v8.80h-1.00z"/>
<path fill="#ccd2fc" d="M116.00 165.40h1.00v8.80h-1.00z"/>
<path fill="#9096c6" d="M117.00 165.40h1.00v8.80h-1.00z"/>
<path fill="#9096de" d="M118.00 165.40h1.00v8.80h-1.00z"/>
<path fill="#48549c" d="M119.00 165.40h1.00v8.80h-1.00z"/>
<path fill="#b4b4f0" d="M120.00 165.40h1.00v8.80h-1.00z"/>
<path fill="#a890ba" d="M121.00 165.40h1.00v8.80h-1.00z"/>
<path fill="#c096ae" d="M122.00 165.40h1.00v8.80h-1.00z"/>
<path fill="#ead2ea" d="M123.00 165.40h1.00v8.80h-1.00z"/>
<path fill="#b496b4" d="M124.00 165.40h1.00v8.80h-1.00z"/>
<path fill="#d896a2" d="M125.00 165.40h1.00v8.80h-1.00z"/>
<path fill="#ffc6c6" d="M126.00 165.40h1.00v8.80h-1.00zM268.00 165.40h1.00v8.80h-1.00zM273.00 165.40h1.00v8.80h-1.00zM296.00 165.40h1.00v8.80h-1.00z"/>
<path fill="#de9c9c" d="M127.00 165.40h1.00v8.80h-1.00z"/>
<path fill="#ffc0cc" d="M128.00 165.40h1.00v8.80h-1.00z"/>
<path fill="#7e4872" d="M129.00 165.40h1.00v8.80h-1.00z"/>
<path fill="#7866a8" d="M130.00 165.40h1.00v8.80h-1.00z"/>
<path fill="#a2a8e4" d="M131.00 165.40h1.00v8.80h-1.00z"/>
<path fill="#ba9cc0" d="M132.00 165.40h1.00v8.80h-1.00z"/>
<path fill="#ba7284" d="M133.00 165.40h1.00v8.80h-1.00z"/>
<path fill="#f6cce4" d="M134.00 165.40h1.00v8.80h-1.00z"/>
<path fill="#8a8ac6" d="M135.00 165.40h1.00v8.80h-1.00z"/>
<path fill="#6666a8" d="M136.00 165.40h1.00v8.80h-1.00z"/>
<path fill="#c6b4e4" d="M137.00 165.40h1.00v8.80h-1.00z"/>
<path fill="#90729c" d="M138.00 165.40h1.00v8.80h-1.00z"/>
<path fill="#e4c0d2" d="M139.00 165.40h1.00v8.80h-1.00zM209.00 165.40h1.00v8.80h-1.00z"/>
<path fill="#eac0c0" d="M140.00 165.40h1.00v8.80h-1.00z"/>
<path fill="#fff0fc" d="M141.00 165.40h1.00v8.80h-1.00z"/>
<path fill="#9696c0" d="M142.00 165.40h1.00v8.80h-1.00z"/>
<path fill="#a8aed8" d="M143.00 165.40h1.00v8.80h-1.00z"/>
<path fill="#c0c0ea" d="M144.00 165.40h1.00v8.80h-1.00z"/>
<path fill="#9c8aae" d="M145.00 165.40h1.00v8.80h-1.00z"/>
<path fill="#f6e4f0" d="M146.00 165.40h1.00v8.80h-1.00zM219.00 165.40h1.00v8.80h-1.00z"/>
<path fill="#f0eaf6" d="M147.00 165.40h1.00v8.80h-1.00z"/>
<path fill="#ded8ea" d="M148.00 165.40h1.00v8.80h-1.00z"/>
<path fill="#ded2e4" d="M149.00 165.40h1.00v8.80h-1.00zM381.00 165.40h1.00v8.80h-1.00z"/>
<path fill="#c0bade" d="M150.00 165.40h1.00v8.80h-1.00z"/>
<path fill="#8a90cc" d="M151.00 165.40h1.00v8.80h-1.00z"/>
<path fill="#9072a8" d="M152.00 165.40h1.00v8.80h-1.00z"/>
<path fill="#b45a72" d="M153.00 165.40h1.00v8.80h-1.00z"/>
<path fill="#ff9096" d="M154.00 165.40h1.00v8.80h-1.00z"/>
<path fill="#cc6066" d="M155.00 165.40h1.00v8.80h-1.00z"/>
<path fill="#eaaeba" d="M156.00 165.40h1.00v8.80h-1.00z"/>
<path fill="#ffd8de" d="M157.00 165.40h1.00v8.80h-1.00z"/>
<path fill="#de7878" d="M158.00 165.40h1.00v8.80h-1.00z"/>
<path fill="#f68a8a" d="M159.00 165.40h1.00v8.80h-1.00z"/>
<path fill="#fca8a8" d="M160.00 165.40h1.00v8.80h-1.00z"/>
<path fill="#f6b4b4" d="M161.00 165.40h1.00v8.80h-1.00zM172.00 165.40h1.00v8.80h-1.00z"/>
<path fill="#fcd8e4" d="M162.00 165.40h1.00v8.80h-1.00z"/>
<path fill="#9078a2" d="M164.00 165.40h1.00v8.80h-1.00z"/>
<path fill="#fcd2de" d="M165.00 165.40h1.00v8.80h-1.00z"/>
<path fill="#f6c0ba" d="M166.00 165.40h1.00v8.80h-1.00z"/>
<path fill="#f0c0c6" d="M167.00 165.40h1.00v8.80h-1.00z"/>
<path fill="#c0aecc" d="M168.00 165.40h1.00v8.80h-1.00z"/>
<path fill="#c0b4d2" d="M169.00 165.40h1.00v8.80h-1.00z"/>
<path fill="#e4c0cc" d="M170.00 165.40h1.00v8.80h-1.00z"/>
<path fill="#fcc0c0" d="M171.00 165.40h1.00v8.80h-1.00z"/>
<path fill="#f6baba" d="M173.00 165.40h1.00v8.80h-1.00z"/>
<path fill="#cca2ba" d="M174.00 165.40h1.00v8.80h-1.00z"/>
<path fill="#ba84a2" d="M175.00 165.40h1.00v8.80h-1.00z"/>
<path fill="#c06672" d="M176.00 165.40h1.00v8.80h-1.00z"/>
<path fill="#ffc0ba" d="M177.00 165.40h1.00v8.80h-1.00z"/>
<path fill="#d86666" d="M178.00 165.40h1.00v8.80h-1.00z"/>
<path fill="#ff9c9c" d="M179.00 165.40h1.00v8.80h-1.00z"/>
<path fill="#f09c96" d="M180.00 165.40h1.00v8.80h-1.00z"/>
<path fill="#ffaea8" d="M181.00 165.40h1.00v8.80h-1.00z"/>
<path fill="#d85a54" d="M182.00 165.40h1.00v8.80h-1.00z"/>
<path fill="#fc9696" d="M183.00 165.40h1.00v8.80h-1.00z"/>
<path fill="#eac0cc" d="M184.00 165.40h1.00v8.80h-1.00z"/>
<path fill="#d8bacc" d="M185.00 165.40h1.00v8.80h-1.00z"/>
<path fill="#fca2a8" d="M186.00 165.40h1.00v8.80h-1.00z"/>
<path fill="#cc3c36" d="M187.00 165.40h1.00v8.80h-1.00zM361.00 165.40h1.00v8.80h-1.00z"/>
<path fill="#ff9090" d="M188.00 165.40h1.00v8.80h-1.00zM362.00 165.40h1.00v8.80h-1.00z"/>
<path fill="#ffbaba" d="M189.00 165.40h1.00v8.80h-1.00zM206.00 165.40h1.00v8.80h-1.00z"/>
<path fill="#de8a8a" d="M190.00 165.40h1.00v8.80h-1.00z"/>
<path fill="#ffa2a2" d="M191.00 165.40h1.00v8.80h-1.00zM289.00 165.40h1.00v8.80h-1.00z"/>
<path fill="#cc4248" d="M192.00 165.40h1.00v8.80h-1.00z"/>
<path fill="#cc7284" d="M193.00 165.40h1.00v8.80h-1.00z"/>
<path fill="#f6d2de" d="M194.00 165.40h1.00v8.80h-1.00z"/>
<path fill="#f6dee4" d="M195.00 165.40h1.00v8.80h-1.00z"/>
<path fill="#fff0ea" d="M196.00 165.40h1.00v8.80h-1.00z"/>
<path fill="#cc8496" d="M197.00 165.40h1.00v8.80h-1.00z"/>
<path fill="#966690" d="M198.00 165.40h1.00v8.80h-1.00z"/>
<path fill="#aea2d2" d="M199.00 165.40h1.00v8.80h-1.00zM200.00 165.40h1.00v8.80h-1.00z"/>
<path fill="#b4a2cc" d="M201.00 165.40h1.00v8.80h-1.00z"/>
<path fill="#ba789c" d="M202.00 165.40h1.00v8.80h-1.00z"/>
<path fill="#ae425a" d="M203.00 165.40h1.00v8.80h-1.00z"/>
<path fill="#f67878" d="M204.00 165.40h1.00v8.80h-1.00z"/>
<path fill="#ea7e78" d="M205.00 165.40h1.00v8.80h-1.00z"/>
<path fill="#e4a8ae" d="M207.00 165.40h1.00v8.80h-1.00z"/>
<path fill="#d2aec0" d="M208.00 165.40h1.00v8.80h-1.00z"/>
<path fill="#fcbac0" d="M210.00 165.40h1.00v8.80h-1.00z"/>
<path fill="#c67e84" d="M211.00 165.40h1.00v8.80h-1.00z"/>
<path fill="#fcc6d2" d="M212.00 165.40h1.00v8.80h-1.00zM347.00 165.40h1.00v8.80h-1.00z"/>
<path fill="#cca2c0" d="M213.00 165.40h1.00v8.80h-1.00z"/>
<path fill="#786cae" d="M214.00 165.40h1.00v8.80h-1.00z"/>
<path fill="#7860a2" d="M215.00 165.40h1.00v8.80h-1.00z"/>
<path fill="#ba5a78" d="M216.00 165.40h1.00v8.80h-1.00z"/>
<path fill="#cc666c" d="M217.00 165.40h1.00v8.80h-1.00z"/>
<path fill="#f0ccd8" d="M218.00 165.40h1.00v8.80h-1.00zM241.00 165.40h1.00v8.80h-1.00z"/>
<path fill="#deccea" d="M220.00 165.40h1.00v8.80h-1.00z"/>
<path fill="#7878a8" d="M221.00 165.40h1.00v8.80h-1.00z"/>
<path fill="#dedeff" d="M222.00 165.40h1.00v8.80h-1.00z"/>
<path fill="#b4a8c0" d="M223.00 165.40h1.00v8.80h-1.00z"/>
<path fill="#f0ccde" d="M224.00 165.40h1.00v8.80h-1.00z"/>
<path fill="#ccaec0" d="M225.00 165.40h1.00v8.80h-1.00zM342.00 165.40h1.00v8.80h-1.00z"/>
<path fill="#ccb4cc" d="M226.00 165.40h1.00v8.80h-1.00z"/>
<path fill="#d8c0d8" d="M227.00 165.40h1.00v8.80h-1.00z"/>
<path fill="#d2c6de" d="M228.00 165.40h1.00v8.80h-1.00z"/>
<path fill="#baaecc" d="M229.00 165.40h1.00v8.80h-1.00z"/>
<path fill="#f0c6d2" d="M230.00 165.40h1.00v8.80h-1.00z"/>
<path fill="#fccccc" d="M231.00 165.40h1.00v8.80h-1.00z"/>
<path fill="#fcdede" d="M232.00 165.40h1.00v8.80h-1.00zM330.00 165.40h1.00v8.80h-1.00z"/>
<path fill="#e4d8ea" d="M233.00 165.40h1.00v8.80h-1.00z"/>
<path fill="#a8aede" d="M234.00 165.40h1.00v8.80h-1.00z"/>
<path fill="#8a6ca8" d="M235.00 165.40h1.00v8.80h-1.00z"/>
<path fill="#ae6084" d="M236.00 165.40h1.00v8.80h-1.00z"/>
<path fill="#ae5472" d="M237.00 165.40h1.00v8.80h-1.00z"/>
<path fill="#f69ca8" d="M238.00 165.40h1.00v8.80h-1.00z"/>
<path fill="#c66672" d="M239.00 165.40h1.00v8.80h-1.00z"/>
<path fill="#f0c6d8" d="M240.00 165.40h1.00v8.80h-1.00z"/>
<path fill="#f69696" d="M242.00 165.40h1.00v8.80h-1.00z"/>
<path fill="#ea605a" d="M243.00 165.40h1.00v8.80h-1.00z"/>
<path fill="#d85a66" d="M244.00 165.40h1.00v8.80h-1.00z"/>
<path fill="#7e4e72" d="M245.00 165.40h1.00v8.80h-1.00z"/>
<path fill="#f0def6" d="M246.00 165.40h1.00v8.80h-1.00z"/>
<path fill="#ffbac0" d="M247.00 165.40h1.00v8.80h-1.00z"/>
<path fill="#d2544e" d="M248.00 165.40h1.00v8.80h-1.00z"/>
<path fill="#ff847e" d="M249.00 165.40h1.00v8.80h-1.00zM393.00 165.40h1.00v8.80h-1.00z"/>
<path fill="#fc847e" d="M250.00 165.40h1.00v8.80h-1.00z"/>
<path fill="#ea7272" d="M251.00 165.40h1.00v8.80h-1.00z"/>
<path fill="#ff9690" d="M252.00 165.40h1.00v8.80h-1.00zM270.00 165.40h1.00v8.80h-1.00zM386.00 165.40h1.00v8.80h-1.00z"/>
<path fill="#e48484" d="M253.00 165.40h1.00v8.80h-1.00z"/>
<path fill="#fcc0d8" d="M254.00 165.40h1.00v8.80h-1.00z"/>
<path fill="#8a4e72" d="M255.00 165.40h1.00v8.80h-1.00zM306.00 165.40h1.00v8.80h-1.00z"/>
<path fill="#c06072" d="M256.00 165.40h1.00v8.80h-1.00z"/>
<path fill="#ffb4b4" d="M257.00 165.40h1.00v8.80h-1.00zM272.00 165.40h1.00v8.80h-1.00z"/>
<path fill="#b46078" d="M258.00 165.40h1.00v8.80h-1.00z"/>
<path fill="#8466a8" d="M259.00 165.40h1.00v8.80h-1.00z"/>
<path fill="#424e9c" d="M260.00 165.40h1.00v8.80h-1.00z"/>
<path fill="#d2ccf6" d="M261.00 165.40h1.00v8.80h-1.00z"/>
<path fill="#f0def0" d="M262.00 165.40h1.00v8.80h-1.00z"/>
<path fill="#a89cc0" d="M263.00 165.40h1.00v8.80h-1.00z"/>
<path fill="#a8a2cc" d="M264.00 165.40h1.00v8.80h-1.00z"/>
<path fill="#e4d2f0" d="M265.00 165.40h1.00v8.80h-1.00z"/>
<path fill="#967290" d="M266.00 165.40h1.00v8.80h-1.00z"/>
<path fill="#d2a8c0" d="M267.00 165.40h1.00v8.80h-1.00z"/>
<path fill="#de7872" d="M269.00 165.40h1.00v8.80h-1.00z"/>
<path fill="#d25a54" d="M271.00 165.40h1.00v8.80h-1.00z"/>
<path fill="#e49690" d="M274.00 165.40h1.00v8.80h-1.00z"/>
<path fill="#fcc6c6" d="M275.00 165.40h1.00v8.80h-1.00z"/>
<path fill="#ead8e4" d="M276.00 165.40h1.00v8.80h-1.00z"/>
<path fill="#ccccf6" d="M277.00 165.40h1.00v8.80h-1.00z"/>
<path fill="#544e90" d="M278.00 165.40h1.00v8.80h-1.00z"/>
<path fill="#9c78a8" d="M279.00 165.40h1.00v8.80h-1.00z"/>
<path fill="#ffd2d8" d="M280.00 165.40h1.00v8.80h-1.00z"/>
<path fill="#fca2a2" d="M281.00 165.40h1.00v8.80h-1.00zM376.00 165.40h1.00v8.80h-1.00z"/>
<path fill="#d87278" d="M282.00 165.40h1.00v8.80h-1.00zM345.00 165.40h1.00v8.80h-1.00z"/>
<path fill="#b4728a" d="M283.00 165.40h1.00v8.80h-1.00z"/>
<path fill="#dec0d2" d="M284.00 165.40h1.00v8.80h-1.00zM374.00 165.40h1.00v8.80h-1.00z"/>
<path fill="#ded8f0" d="M285.00 165.40h1.00v8.80h-1.00z"/>
<path fill="#c0aec6" d="M286.00 165.40h1.00v8.80h-1.00z"/>
<path fill="#eaa2ae" d="M287.00 165.40h1.00v8.80h-1.00z"/>
<path fill="#de7e7e" d="M288.00 165.40h1.00v8.80h-1.00z"/>
<path fill="#c6666c" d="M290.00 165.40h1.00v8.80h-1.00z"/>
<path fill="#d2aec6" d="M291.00 165.40h1.00v8.80h-1.00zM327.00 165.40h1.00v8.80h-1.00z"/>
<path fill="#b4baea" d="M292.00 165.40h1.00v8.80h-1.00z"/>
<path fill="#6c72a8" d="M293.00 165.40h1.00v8.80h-1.00z"/>
<path fill="#f0d8f0" d="M294.00 165.40h1.00v8.80h-1.00z"/>
<path fill="#d8969c" d="M295.00 165.40h1.00v8.80h-1.00z"/>
<path fill="#c66066" d="M297.00 165.40h1.00v8.80h-1.00z"/>
<path fill="#d26c78" d="M298.00 165.40h1.00v8.80h-1.00z"/>
<path fill="#eabad8" d="M299.00 165.40h1.00v8.80h-1.00z"/>
<path fill="#7e6c9c" d="M300.00 165.40h1.00v8.80h-1.00z"/>
<path fill="#f6c6de" d="M301.00 165.40h1.00v8.80h-1.00z"/>
<path fill="#f07878" d="M302.00 165.40h1.00v8.80h-1.00z"/>
<path fill="#de4842" d="M303.00 165.40h1.00v8.80h-1.00z"/>
<path fill="#fc7e78" d="M304.00 165.40h1.00v8.80h-1.00z"/>
<path fill="#f6aeba" d="M305.00 165.40h1.00v8.80h-1.00z"/>
<path fill="#d290ae" d="M307.00 165.40h1.00v8.80h-1.00z"/>
<path fill="#c096b4" d="M308.00 165.40h1.00v8.80h-1.00z"/>
<path fill="#e4a8c0" d="M309.00 165.40h1.00v8.80h-1.00z"/>
<path fill="#c04854" d="M310.00 165.40h1.00v8.80h-1.00z"/>
<path fill="#e47e8a" d="M311.00 165.40h1.00v8.80h-1.00z"/>
<path fill="#f0bac6" d="M312.00 165.40h1.00v8.80h-1.00z"/>
<path fill="#ffdede" d="M313.00 165.40h1.00v8.80h-1.00z"/>
<path fill="#cc8a90" d="M314.00 165.40h1.00v8.80h-1.00z"/>
<path fill="#deaec0" d="M315.00 165.40h1.00v8.80h-1.00z"/>
<path fill="#ccbad8" d="M316.00 165.40h1.00v8.80h-1.00z"/>
<path fill="#a88aae" d="M317.00 165.40h1.00v8.80h-1.00z"/>
<path fill="#c6a2c6" d="M318.00 165.40h1.00v8.80h-1.00z"/>
<path fill="#c69cb4" d="M319.00 165.40h1.00v8.80h-1.00z"/>
<path fill="#e49096" d="M320.00 165.40h1.00v8.80h-1.00z"/>
<path fill="#ea9090" d="M321.00 165.40h1.00v8.80h-1.00z"/>
<path fill="#ffa8a8" d="M322.00 165.40h1.00v8.80h-1.00z"/>
<path fill="#cc4842" d="M323.00 165.40h1.00v8.80h-1.00z"/>
<path fill="#f69090" d="M324.00 165.40h1.00v8.80h-1.00z"/>
<path fill="#debad2" d="M325.00 165.40h1.00v8.80h-1.00z"/>
<path fill="#906c96" d="M326.00 165.40h1.00v8.80h-1.00z"/>
<path fill="#e4ccd8" d="M328.00 165.40h1.00v8.80h-1.00z"/>
<path fill="#f0ccd2" d="M329.00 165.40h1.00v8.80h-1.00z"/>
<path fill="#fff6f6" d="M331.00 165.40h1.00v8.80h-1.00z"/>
<path fill="#f6c0c0" d="M332.00 165.40h1.00v8.80h-1.00z"/>
<path fill="#e4a29c" d="M333.00 165.40h1.00v8.80h-1.00z"/>
<path fill="#ffe4e4" d="M334.00 165.40h1.00v8.80h-1.00z"/>
<path fill="#ffd2d2" d="M335.00 165.40h1.00v8.80h-1.00z"/>
<path fill="#e4aeba" d="M336.00 165.40h1.00v8.80h-1.00z"/>
<path fill="#c0a2cc" d="M337.00 165.40h1.00v8.80h-1.00z"/>
<path fill="#725490" d="M338.00 165.40h1.00v8.80h-1.00z"/>
<path fill="#ba84a8" d="M339.00 165.40h1.00v8.80h-1.00z"/>
<path fill="#d8a8b4" d="M340.00 165.40h1.00v8.80h-1.00z"/>
<path fill="#ffd8e4" d="M341.00 165.40h1.00v8.80h-1.00z"/>
<path fill="#b4a8cc" d="M343.00 165.40h1.00v8.80h-1.00z"/>
<path fill="#d2aecc" d="M344.00 165.40h1.00v8.80h-1.00z"/>
<path fill="#f0847e" d="M346.00 165.40h1.00v8.80h-1.00z"/>
<path fill="#c6bade" d="M348.00 165.40h1.00v8.80h-1.00z"/>
<path fill="#a29cc0" d="M349.00 165.40h1.00v8.80h-1.00z"/>
<path fill="#f0b4c6" d="M350.00 165.40h1.00v8.80h-1.00z"/>
<path fill="#e46060" d="M351.00 165.40h1.00v8.80h-1.00z"/>
<path fill="#d8545a" d="M352.00 165.40h1.00v8.80h-1.00z"/>
<path fill="#c68aa8" d="M353.00 165.40h1.00v8.80h-1.00z"/>
<path fill="#c0bae4" d="M354.00 165.40h1.00v8.80h-1.00z"/>
<path fill="#9696ba" d="M355.00 165.40h1.00v8.80h-1.00z"/>
<path fill="#fff0ff" d="M356.00 165.40h1.00v8.80h-1.00z"/>
<path fill="#cc9cae" d="M357.00 165.40h1.00v8.80h-1.00z"/>
<path fill="#a26c96" d="M358.00 165.40h1.00v8.80h-1.00z"/>
<path fill="#8a5484" d="M359.00 165.40h1.00v8.80h-1.00z"/>
<path fill="#f08a9c" d="M360.00 165.40h1.00v8.80h-1.00z"/>
<path fill="#d2787e" d="M363.00 165.40h1.00v8.80h-1.00z"/>
<path fill="#eaaec0" d="M364.00 165.40h1.00v8.80h-1.00z"/>
<path fill="#c68aa2" d="M365.00 165.40h1.00v8.80h-1.00z"/>
<path fill="#96668a" d="M366.00 165.40h1.00v8.80h-1.00z"/>
<path fill="#eadeff" d="M367.00 165.40h1.00v8.80h-1.00z"/>
<path fill="#9c96ba" d="M368.00 165.40h1.00v8.80h-1.00z"/>
<path fill="#decce4" d="M369.00 165.40h1.00v8.80h-1.00z"/>
<path fill="#ffccd2" d="M370.00 165.40h1.00v8.80h-1.00z"/>
<path fill="#de908a" d="M371.00 165.40h1.00v8.80h-1.00z"/>
<path fill="#fcbaba" d="M372.00 165.40h1.00v8.80h-1.00z"/>
<path fill="#e4bac6" d="M373.00 165.40h1.00v8.80h-1.00z"/>
<path fill="#de9ca8" d="M375.00 165.40h1.00v8.80h-1.00z"/>
<path fill="#ff9696" d="M377.00 165.40h1.00v8.80h-1.00z"/>
<path fill="#cc545a" d="M378.00 165.40h1.00v8.80h-1.00z"/>
<path fill="#de90a2" d="M379.00 165.40h1.00v8.80h-1.00z"/>
<path fill="#deb4c6" d="M380.00 165.40h1.00v8.80h-1.00z"/>
<path fill="#d8deff" d="M382.00 165.40h1.00v8.80h-1.00z"/>
<path fill="#726696" d="M383.00 165.40h1.00v8.80h-1.00z"/>
<path fill="#c684a2" d="M384.00 165.40h1.00v8.80h-1.00z"/>
<path fill="#e47878" d="M385.00 165.40h1.00v8.80h-1.00z"/>
<path fill="#de7272" d="M387.00 165.40h1.00v8.80h-1.00z"/>
<path fill="#de96a8" d="M388.00 165.40h1.00v8.80h-1.00z"/>
<path fill="#d8bad8" d="M389.00 165.40h1.00v8.80h-1.00z"/>
<path fill="#a27ea8" d="M390.00 165.40h1.00v8.80h-1.00z"/>
<path fill="#c6546c" d="M391.00 165.40h1.00v8.80h-1.00z"/>
<path fill="#de4848" d="M392.00 165.40h1.00v8.80h-1.00z"/>
<path fill="#e4908a" d="M394.00 165.40h1.00v8.80h-1.00z"/>
<path fill="#ffeaea" d="M395.00 165.40h1.00v8.80h-1.00zM396.00 165.40h1.00v8.80h-1.00z"/>
<path fill="#eac0c6" d="M397.00 165.40h1.00v8.80h-1.00z"/>
<path fill="#f6b4c0" d="M398.00 165.40h1.00v8.80h-1.00z"/>
<path fill="#9c5478" d="M399.00 165.40h1.00v8.80h-1.00z"/>
<path fill="#904e84" d="M400.00 165.40h1.00v8.80h-1.00z"/>
<path fill="#964e6c" d="M401.00 165.40h1.00v8.80h-1.00z"/>
<path fill="#ffe4f6" d="M402.00 165.40h1.00v8.80h-1.00z"/>
<path fill="#a296c0" d="M403.00 165.40h1.00v8.80h-1.00z"/>
<path fill="#7e84ba" d="M404.00 165.40h1.00v8.80h-1.00z"/>
<path fill="#b4bafc" d="M405.00 165.40h1.00v8.80h-1.00z"/>
<path fill="#4e488a" d="M406.00 165.40h1.00v8.80h-1.00z"/>
<path fill="#c08aae" d="M407.00 165.40h1.00v8.80h-1.00z"/>
<path fill="#ea787e" d="M408.00 165.40h1.00v8.80h-1.00z"/>
<path fill="#f6726c" d="M409.00 165.40h1.00v8.80h-1.00z"/>
<path fill="#ff7872" d="M410.00 165.40h1.00v8.80h-1.00z"/>
<path fill="#f0544e" d="M411.00 165.40h0.10v8.80h-0.10z"/>
<path fill="#4e54ae" d="M83.10 173.60h0.90v8.20h-0.90z"/>
<path fill="#8a84ba" d="M84.00 173.60h1.00v8.20h-1.00z"/>
<path fill="#f0def6" d="M85.00 173.60h1.00v8.20h-1.00z"/>
<path fill="#b4a8cc" d="M86.00 173.60h1.00v8.20h-1.00zM363.00 173.60h1.00v8.20h-1.00z"/>
<path fill="#aeaecc" d="M87.00 173.60h1.00v8.20h-1.00z"/>
<path fill="#eae4ff" d="M88.00 173.60h1.00v8.20h-1.00z"/>
<path fill="#6c66a2" d="M89.00 173.60h1.00v8.20h-1.00z"/>
<path fill="#8478ae" d="M90.00 173.60h1.00v8.20h-1.00z"/>
<path fill="#f0d8fc" d="M91.00 173.60h1.00v8.20h-1.00z"/>
<path fill="#908ac6" d="M92.00 173.60h1.00v8.20h-1.00z"/>
<path fill="#4e54a2" d="M93.00 173.60h1.00v8.20h-1.00z"/>
<path fill="#a2a8ea" d="M94.00 173.60h1.00v8.20h-1.00z"/>
<path fill="#8a90c0" d="M95.00 173.60h1.00v8.20h-1.00z"/>
<path fill="#dedeff" d="M96.00 173.60h1.00v8.20h-1.00z"/>
<path fill="#b4b4de" d="M97.00 173.60h1.00v8.20h-1.00z"/>
<path fill="#9690ba" d="M98.00 173.60h1.00v8.20h-1.00z"/>
<path fill="#ffccde" d="M99.00 173.60h1.00v8.20h-1.00z"/>
<path fill="#d26666" d="M100.00 173.60h1.00v8.20h-1.00z"/>
<path fill="#fcaec0" d="M101.00 173.60h1.00v8.20h-1.00z"/>
<path fill="#7e6c96" d="M102.00 173.60h1.00v8.20h-1.00z"/>
<path fill="#d2ccfc" d="M103.00 173.60h1.00v8.20h-1.00z"/>
<path fill="#7e7eae" d="M104.00 173.60h1.00v8.20h-1.00z"/>
<path fill="#e4deff" d="M105.00 173.60h1.00v8.20h-1.00zM133.00 173.60h1.00v8.20h-1.00z"/>
<path fill="#baaed8" d="M106.00 173.60h1.00v8.20h-1.00z"/>
<path fill="#7278ba" d="M107.00 173.60h1.00v8.20h-1.00z"/>
<path fill="#5a5aae" d="M108.00 173.60h1.00v8.20h-1.00z"/>
<path fill="#784e96" d="M109.00 173.60h1.00v8.20h-1.00z"/>
<path fill="#7e4e84" d="M110.00 173.60h1.00v8.20h-1.00z"/>
<path fill="#a890c0" d="M111.00 173.60h1.00v8.20h-1.00z"/>
<path fill="#d2b4de" d="M112.00 173.60h1.00v8.20h-1.00z"/>
<path fill="#845484" d="M113.00 173.60h1.00v8.20h-1.00z"/>
<path fill="#724e90" d="M114.00 173.60h1.00v8.20h-1.00z"/>
<path fill="#8a7eb4" d="M115.00 173.60h1.00v8.20h-1.00z"/>
<path fill="#f6f0ff" d="M116.00 173.60h1.00v8.20h-1.00z"/>
<path fill="#8484b4" d="M117.00 173.60h1.00v8.20h-1.00z"/>
<path fill="#aeb4f0" d="M118.00 173.60h1.00v8.20h-1.00z"/>
<path fill="#6c6ca8" d="M119.00 173.60h1.00v8.20h-1.00z"/>
<path fill="#aea8d8" d="M120.00 173.60h1.00v8.20h-1.00z"/>
<path fill="#ae96ba" d="M121.00 173.60h1.00v8.20h-1.00z"/>
<path fill="#f6ccd8" d="M122.00 173.60h1.00v8.20h-1.00z"/>
<path fill="#f0c0c6" d="M123.00 173.60h1.00v8.20h-1.00z"/>
<path fill="#c09cb4" d="M124.00 173.60h1.00v8.20h-1.00z"/>
<path fill="#e4ccde" d="M125.00 173.60h1.00v8.20h-1.00z"/>
<path fill="#f0e4f0" d="M126.00 173.60h1.00v8.20h-1.00zM140.00 173.60h1.00v8.20h-1.00z"/>
<path fill="#ffeaea" d="M127.00 173.60h1.00v8.20h-1.00zM374.00 173.60h1.00v8.20h-1.00z"/>
<path fill="#eaa2ae" d="M128.00 173.60h1.00v8.20h-1.00z"/>
<path fill="#8a426c" d="M129.00 173.60h1.00v8.20h-1.00z"/>
<path fill="#7e6cae" d="M130.00 173.60h1.00v8.20h-1.00z"/>
<path fill="#969cde" d="M131.00 173.60h1.00v8.20h-1.00z"/>
<path fill="#9696c6" d="M132.00 173.60h1.00v8.20h-1.00z"/>
<path fill="#9090cc" d="M134.00 173.60h1.00v8.20h-1.00z"/>
<path fill="#424ea8" d="M135.00 173.60h1.00v8.20h-1.00z"/>
<path fill="#484ea2" d="M136.00 173.60h1.00v8.20h-1.00z"/>
<path fill="#ccbaea" d="M137.00 173.60h1.00v8.20h-1.00z"/>
<path fill="#8a6690" d="M138.00 173.60h1.00v8.20h-1.00z"/>
<path fill="#cca8c6" d="M139.00 173.60h1.00v8.20h-1.00z"/>
<path fill="#d2d2f6" d="M141.00 173.60h1.00v8.20h-1.00z"/>
<path fill="#666cae" d="M142.00 173.60h1.00v8.20h-1.00z"/>
<path fill="#6c78c0" d="M143.00 173.60h1.00v8.20h-1.00z"/>
<path fill="#969cd8" d="M144.00 173.60h1.00v8.20h-1.00z"/>
<path fill="#9c96c0" d="M145.00 173.60h1.00v8.20h-1.00z"/>
<path fill="#f0e4f6" d="M146.00 173.60h1.00v8.20h-1.00z"/>
<path fill="#eae4ea" d="M147.00 173.60h1.00v8.20h-1.00z"/>
<path fill="#e4d8de" d="M148.00 173.60h1.00v8.20h-1.00z"/>
<path fill="#f0d8f0" d="M149.00 173.60h1.00v8.20h-1.00z"/>
<path fill="#8a7eae" d="M150.00 173.60h1.00v8.20h-1.00z"/>
<path fill="#aeaee4" d="M151.00 173.60h1.00v8.20h-1.00z"/>
<path fill="#9c78a8" d="M152.00 173.60h1.00v8.20h-1.00z"/>
<path fill="#ba6072" d="M153.00 173.60h1.00v8.20h-1.00z"/>
<path fill="#fc8a90" d="M154.00 173.60h1.00v8.20h-1.00z"/>
<path fill="#cc666c" d="M155.00 173.60h1.00v8.20h-1.00z"/>
<path fill="#e4a8b4" d="M156.00 173.60h1.00v8.20h-1.00zM205.00 173.60h1.00v8.20h-1.00z"/>
<path fill="#f6d2d8" d="M157.00 173.60h1.00v8.20h-1.00z"/>
<path fill="#fccccc" d="M158.00 173.60h1.00v8.20h-1.00z"/>
<path fill="#f6ccd2" d="M159.00 173.60h1.00v8.20h-1.00z"/>
<path fill="#d2b4c0" d="M160.00 173.60h1.00v8.20h-1.00z"/>
<path fill="#ffd8de" d="M161.00 173.60h1.00v8.20h-1.00z"/>
<path fill="#e4b4c0" d="M162.00 173.60h1.00v8.20h-1.00z"/>
<path fill="#a290b4" d="M163.00 173.60h1.00v8.20h-1.00z"/>
<path fill="#d2c0de" d="M164.00 173.60h1.00v8.20h-1.00z"/>
<path fill="#eaaeb4" d="M165.00 173.60h1.00v8.20h-1.00z"/>
<path fill="#f0a29c" d="M166.00 173.60h1.00v8.20h-1.00z"/>
<path fill="#fcc6cc" d="M167.00 173.60h1.00v8.20h-1.00z"/>
<path fill="#dec0d8" d="M168.00 173.60h1.00v8.20h-1.00z"/>
<path fill="#b47e9c" d="M169.00 173.60h1.00v8.20h-1.00z"/>
<path fill="#d26c72" d="M170.00 173.60h1.00v8.20h-1.00z"/>
<path fill="#f69690" d="M171.00 173.60h1.00v8.20h-1.00z"/>
<path fill="#ffd2d2" d="M172.00 173.60h1.00v8.20h-1.00zM204.00 173.60h1.00v8.20h-1.00z"/>
<path fill="#f0aeae" d="M173.00 173.60h1.00v8.20h-1.00z"/>
<path fill="#cc8aa2" d="M174.00 173.60h1.00v8.20h-1.00z"/>
<path fill="#c07896" d="M175.00 173.60h1.00v8.20h-1.00z"/>
<path fill="#cc3c42" d="M176.00 173.60h1.00v8.20h-1.00z"/>
<path fill="#e4423c" d="M177.00 173.60h1.00v8.20h-1.00z"/>
<path fill="#fc9696" d="M178.00 173.60h1.00v8.20h-1.00zM183.00 173.60h1.00v8.20h-1.00z"/>
<path fill="#f6c0c6" d="M179.00 173.60h1.00v8.20h-1.00z"/>
<path fill="#cc9ca8" d="M180.00 173.60h1.00v8.20h-1.00z"/>
<path fill="#ffc6cc" d="M181.00 173.60h1.00v8.20h-1.00z"/>
<path fill="#c64e4e" d="M182.00 173.60h1.00v8.20h-1.00z"/>
<path fill="#f0c0d2" d="M184.00 173.60h1.00v8.20h-1.00z"/>
<path fill="#846690" d="M185.00 173.60h1.00v8.20h-1.00z"/>
<path fill="#ffc0d2" d="M186.00 173.60h1.00v8.20h-1.00z"/>
<path fill="#ea6666" d="M187.00 173.60h1.00v8.20h-1.00z"/>
<path fill="#d8544e" d="M188.00 173.60h1.00v8.20h-1.00zM297.00 173.60h1.00v8.20h-1.00z"/>
<path fill="#ffaeae" d="M189.00 173.60h1.00v8.20h-1.00zM243.00 173.60h1.00v8.20h-1.00z"/>
<path fill="#d8a2ae" d="M190.00 173.60h1.00v8.20h-1.00z"/>
<path fill="#c096ae" d="M191.00 173.60h1.00v8.20h-1.00z"/>
<path fill="#eac6d8" d="M192.00 173.60h1.00v8.20h-1.00z"/>
<path fill="#dec0cc" d="M193.00 173.60h1.00v8.20h-1.00zM344.00 173.60h1.00v8.20h-1.00z"/>
<path fill="#ffeaf0" d="M194.00 173.60h1.00v8.20h-1.00z"/>
<path fill="#f0d8de" d="M195.00 173.60h1.00v8.20h-1.00zM222.00 173.60h1.00v8.20h-1.00z"/>
<path fill="#f0a2a8" d="M196.00 173.60h1.00v8.20h-1.00z"/>
<path fill="#c05a72" d="M197.00 173.60h1.00v8.20h-1.00z"/>
<path fill="#906690" d="M198.00 173.60h1.00v8.20h-1.00z"/>
<path fill="#c0c0ea" d="M199.00 173.60h1.00v8.20h-1.00z"/>
<path fill="#ded8fc" d="M200.00 173.60h1.00v8.20h-1.00z"/>
<path fill="#8a6696" d="M201.00 173.60h1.00v8.20h-1.00z"/>
<path fill="#b4668a" d="M202.00 173.60h1.00v8.20h-1.00z"/>
<path fill="#a84e60" d="M203.00 173.60h1.00v8.20h-1.00z"/>
<path fill="#c08aa2" d="M206.00 173.60h1.00v8.20h-1.00z"/>
<path fill="#d8a8ba" d="M207.00 173.60h1.00v8.20h-1.00z"/>
<path fill="#f6ccde" d="M208.00 173.60h1.00v8.20h-1.00z"/>
<path fill="#c68aa2" d="M209.00 173.60h1.00v8.20h-1.00z"/>
<path fill="#cc6072" d="M210.00 173.60h1.00v8.20h-1.00z"/>
<path fill="#b44860" d="M211.00 173.60h1.00v8.20h-1.00z"/>
<path fill="#d2aec6" d="M212.00 173.60h1.00v8.20h-1.00z"/>
<path fill="#e4eaff" d="M213.00 173.60h1.00v8.20h-1.00z"/>
<path fill="#787eba" d="M214.00 173.60h1.00v8.20h-1.00z"/>
<path fill="#967eb4" d="M215.00 173.60h1.00v8.20h-1.00z"/>
<path fill="#9c5a78" d="M216.00 173.60h1.00v8.20h-1.00z"/>
<path fill="#e4c0de" d="M217.00 173.60h1.00v8.20h-1.00z"/>
<path fill="#9c96ba" d="M218.00 173.60h1.00v8.20h-1.00z"/>
<path fill="#ffd8ea" d="M219.00 173.60h1.00v8.20h-1.00z"/>
<path fill="#cc8490" d="M220.00 173.60h1.00v8.20h-1.00z"/>
<path fill="#e4bac6" d="M221.00 173.60h1.00v8.20h-1.00z"/>
<path fill="#f6e4ea" d="M223.00 173.60h1.00v8.20h-1.00z"/>
<path fill="#e4ccd8" d="M224.00 173.60h1.00v8.20h-1.00z"/>
<path fill="#ccbacc" d="M225.00 173.60h1.00v8.20h-1.00z"/>
<path fill="#bab4d2" d="M226.00 173.60h1.00v8.20h-1.00z"/>
<path fill="#eaf0ff" d="M227.00 173.60h1.00v8.20h-1.00z"/>
<path fill="#969cd2" d="M228.00 173.60h1.00v8.20h-1.00z"/>
<path fill="#5a488a" d="M229.00 173.60h1.00v8.20h-1.00z"/>
<path fill="#ea90a2" d="M230.00 173.60h1.00v8.20h-1.00z"/>
<path fill="#de544e" d="M231.00 173.60h1.00v8.20h-1.00zM302.00 173.60h1.00v8.20h-1.00z"/>
<path fill="#ff7e7e" d="M232.00 173.60h1.00v8.20h-1.00z"/>
<path fill="#b44e60" d="M233.00 173.60h1.00v8.20h-1.00z"/>
<path fill="#c6a2cc" d="M234.00 173.60h1.00v8.20h-1.00z"/>
<path fill="#9672a8" d="M235.00 173.60h1.00v8.20h-1.00z"/>
<path fill="#ae547e" d="M236.00 173.60h1.00v8.20h-1.00z"/>
<path fill="#b4546c" d="M237.00 173.60h1.00v8.20h-1.00z"/>
<path fill="#f0909c" d="M238.00 173.60h1.00v8.20h-1.00z"/>
<path fill="#cc8aa8" d="M239.00 173.60h1.00v8.20h-1.00z"/>
<path fill="#5a4884" d="M240.00 173.60h1.00v8.20h-1.00z"/>
<path fill="#c09ccc" d="M241.00 173.60h1.00v8.20h-1.00z"/>
<path fill="#d8848a" d="M242.00 173.60h1.00v8.20h-1.00z"/>
<path fill="#f0aeb4" d="M244.00 173.60h1.00v8.20h-1.00z"/>
<path fill="#ccaecc" d="M245.00 173.60h1.00v8.20h-1.00z"/>
<path fill="#a89cc0" d="M246.00 173.60h1.00v8.20h-1.00z"/>
<path fill="#fcccd8" d="M247.00 173.60h1.00v8.20h-1.00z"/>
<path fill="#cc6660" d="M248.00 173.60h1.00v8.20h-1.00z"/>
<path fill="#ffc0c0" d="M249.00 173.60h1.00v8.20h-1.00z"/>
<path fill="#ffdee4" d="M250.00 173.60h1.00v8.20h-1.00z"/>
<path fill="#f0a2a2" d="M251.00 173.60h1.00v8.20h-1.00z"/>
<path fill="#cc6060" d="M252.00 173.60h1.00v8.20h-1.00z"/>
<path fill="#ffd2de" d="M253.00 173.60h1.00v8.20h-1.00z"/>
<path fill="#babae4" d="M254.00 173.60h1.00v8.20h-1.00z"/>
<path fill="#6c6ca2" d="M255.00 173.60h1.00v8.20h-1.00z"/>
<path fill="#f0defc" d="M256.00 173.60h1.00v8.20h-1.00zM294.00 173.60h1.00v8.20h-1.00z"/>
<path fill="#eab4c0" d="M257.00 173.60h1.00v8.20h-1.00z"/>
<path fill="#ba6c78" d="M258.00 173.60h1.00v8.20h-1.00z"/>
<path fill="#e4c6e4" d="M259.00 173.60h1.00v8.20h-1.00z"/>
<path fill="#9096c0" d="M260.00 173.60h1.00v8.20h-1.00z"/>
<path fill="#ccc6e4" d="M261.00 173.60h1.00v8.20h-1.00z"/>
<path fill="#f6d8e4" d="M262.00 173.60h1.00v8.20h-1.00z"/>
<path fill="#e4c0c6" d="M263.00 173.60h1.00v8.20h-1.00z"/>
<path fill="#deccd8" d="M264.00 173.60h1.00v8.20h-1.00z"/>
<path fill="#eae4fc" d="M265.00 173.60h1.00v8.20h-1.00z"/>
<path fill="#ae90b4" d="M266.00 173.60h1.00v8.20h-1.00z"/>
<path fill="#a2607e" d="M267.00 173.60h1.00v8.20h-1.00z"/>
<path fill="#ffb4c0" d="M268.00 173.60h1.00v8.20h-1.00zM398.00 173.60h1.00v8.20h-1.00z"/>
<path fill="#ea7e7e" d="M269.00 173.60h1.00v8.20h-1.00zM397.00 173.60h1.00v8.20h-1.00z"/>
<path fill="#f06666" d="M270.00 173.60h1.00v8.20h-1.00z"/>
<path fill="#d26c78" d="M271.00 173.60h1.00v8.20h-1.00z"/>
<path fill="#ba96ba" d="M272.00 173.60h1.00v8.20h-1.00z"/>
<path fill="#ccb4d2" d="M273.00 173.60h1.00v8.20h-1.00z"/>
<path fill="#eac0cc" d="M274.00 173.60h1.00v8.20h-1.00z"/>
<path fill="#d8c6de" d="M275.00 173.60h1.00v8.20h-1.00z"/>
<path fill="#baa2c6" d="M276.00 173.60h1.00v8.20h-1.00z"/>
<path fill="#ba90ba" d="M277.00 173.60h1.00v8.20h-1.00z"/>
<path fill="#726096" d="M278.00 173.60h1.00v8.20h-1.00z"/>
<path fill="#c6ccf0" d="M279.00 173.60h1.00v8.20h-1.00z"/>
<path fill="#f0eaff" d="M280.00 173.60h1.00v8.20h-1.00z"/>
<path fill="#cca8ba" d="M281.00 173.60h1.00v8.20h-1.00z"/>
<path fill="#d896a2" d="M282.00 173.60h1.00v8.20h-1.00z"/>
<path fill="#d896a8" d="M283.00 173.60h1.00v8.20h-1.00z"/>
<path fill="#d2a8ba" d="M284.00 173.60h1.00v8.20h-1.00z"/>
<path fill="#deccea" d="M285.00 173.60h1.00v8.20h-1.00z"/>
<path fill="#ae8aae" d="M286.00 173.60h1.00v8.20h-1.00z"/>
<path fill="#c66672" d="M287.00 173.60h1.00v8.20h-1.00z"/>
<path fill="#ff9690" d="M288.00 173.60h1.00v8.20h-1.00z"/>
<path fill="#fc8a84" d="M289.00 173.60h1.00v8.20h-1.00zM346.00 173.60h1.00v8.20h-1.00z"/>
<path fill="#d24e54" d="M290.00 173.60h1.00v8.20h-1.00z"/>
<path fill="#cc849c" d="M291.00 173.60h1.00v8.20h-1.00z"/>
<path fill="#c0aede" d="M292.00 173.60h1.00v8.20h-1.00z"/>
<path fill="#7272a2" d="M293.00 173.60h1.00v8.20h-1.00z"/>
<path fill="#e4b4ba" d="M295.00 173.60h1.00v8.20h-1.00z"/>
<path fill="#ffc6c6" d="M296.00 173.60h1.00v8.20h-1.00z"/>
<path fill="#e46660" d="M298.00 173.60h1.00v8.20h-1.00z"/>
<path fill="#f0b4cc" d="M299.00 173.60h1.00v8.20h-1.00z"/>
<path fill="#7e6c9c" d="M300.00 173.60h1.00v8.20h-1.00z"/>
<path fill="#fcbad2" d="M301.00 173.60h1.00v8.20h-1.00z"/>
<path fill="#f0544e" d="M303.00 173.60h1.00v8.20h-1.00zM410.00 173.60h1.00v8.20h-1.00z"/>
<path fill="#f06c66" d="M304.00 173.60h1.00v8.20h-1.00z"/>
<path fill="#f6a2ae" d="M305.00 173.60h1.00v8.20h-1.00z"/>
<path fill="#ba7e9c" d="M306.00 173.60h1.00v8.20h-1.00z"/>
<path fill="#de969c" d="M307.00 173.60h1.00v8.20h-1.00z"/>
<path fill="#fcc0cc" d="M308.00 173.60h1.00v8.20h-1.00z"/>
<path fill="#ba849c" d="M309.00 173.60h1.00v8.20h-1.00z"/>
<path fill="#d27884" d="M310.00 173.60h1.00v8.20h-1.00z"/>
<path fill="#f09c9c" d="M311.00 173.60h1.00v8.20h-1.00z"/>
<path fill="#ffd2d8" d="M312.00 173.60h1.00v8.20h-1.00z"/>
<path fill="#c66066" d="M313.00 173.60h1.00v8.20h-1.00z"/>
<path fill="#d26672" d="M314.00 173.60h1.00v8.20h-1.00z"/>
<path fill="#fca8ae" d="M315.00 173.60h1.00v8.20h-1.00z"/>
<path fill="#f6aeb4" d="M316.00 173.60h1.00v8.20h-1.00z"/>
<path fill="#96607e" d="M317.00 173.60h1.00v8.20h-1.00z"/>
<path fill="#dec6ea" d="M318.00 173.60h1.00v8.20h-1.00z"/>
<path fill="#c696ae" d="M319.00 173.60h1.00v8.20h-1.00z"/>
<path fill="#d27278" d="M320.00 173.60h1.00v8.20h-1.00z"/>
<path fill="#ffa29c" d="M321.00 173.60h1.00v8.20h-1.00z"/>
<path fill="#ffa8a2" d="M322.00 173.60h1.00v8.20h-1.00z"/>
<path fill="#de7872" d="M323.00 173.60h1.00v8.20h-1.00z"/>
<path fill="#ffc6d2" d="M324.00 173.60h1.00v8.20h-1.00z"/>
<path fill="#b49cba" d="M325.00 173.60h1.00v8.20h-1.00z"/>
<path fill="#c090a8" d="M326.00 173.60h1.00v8.20h-1.00z"/>
<path fill="#e4aec0" d="M327.00 173.60h1.00v8.20h-1.00z"/>
<path fill="#c690a8" d="M328.00 173.60h1.00v8.20h-1.00z"/>
<path fill="#e48490" d="M329.00 173.60h1.00v8.20h-1.00z"/>
<path fill="#f0847e" d="M330.00 173.60h1.00v8.20h-1.00z"/>
<path fill="#ffaea8" d="M331.00 173.60h1.00v8.20h-1.00z"/>
<path fill="#f08a84" d="M332.00 173.60h1.00v8.20h-1.00z"/>
<path fill="#f09c96" d="M333.00 173.60h1.00v8.20h-1.00zM371.00 173.60h1.00v8.20h-1.00z"/>
<path fill="#ffe4e4" d="M334.00 173.60h1.00v8.20h-1.00z"/>
<path fill="#debac0" d="M335.00 173.60h1.00v8.20h-1.00z"/>
<path fill="#dea8b4" d="M336.00 173.60h1.00v8.20h-1.00z"/>
<path fill="#dec0de" d="M337.00 173.60h1.00v8.20h-1.00z"/>
<path fill="#786c9c" d="M338.00 173.60h1.00v8.20h-1.00z"/>
<path fill="#f6d8ea" d="M339.00 173.60h1.00v8.20h-1.00z"/>
<path fill="#f6c6c0" d="M340.00 173.60h1.00v8.20h-1.00z"/>
<path fill="#f0c0c0" d="M341.00 173.60h1.00v8.20h-1.00z"/>
<path fill="#f0cccc" d="M342.00 173.60h1.00v8.20h-1.00z"/>
<path fill="#f6dee4" d="M343.00 173.60h1.00v8.20h-1.00z"/>
<path fill="#f0a8ae" d="M345.00 173.60h1.00v8.20h-1.00z"/>
<path fill="#d26066" d="M347.00 173.60h1.00v8.20h-1.00z"/>
<path fill="#d8a8c6" d="M348.00 173.60h1.00v8.20h-1.00z"/>
<path fill="#8a84b4" d="M349.00 173.60h1.00v8.20h-1.00z"/>
<path fill="#fcd8ea" d="M350.00 173.60h1.00v8.20h-1.00z"/>
<path fill="#d87878" d="M351.00 173.60h1.00v8.20h-1.00z"/>
<path fill="#ea969c" d="M352.00 173.60h1.00v8.20h-1.00z"/>
<path fill="#d8c0e4" d="M353.00 173.60h1.00v8.20h-1.00z"/>
<path fill="#787eb4" d="M354.00 173.60h1.00v8.20h-1.00z"/>
<path fill="#b4bade" d="M355.00 173.60h1.00v8.20h-1.00z"/>
<path fill="#fcf0fc" d="M356.00 173.60h1.00v8.20h-1.00z"/>
<path fill="#c6a8c0" d="M357.00 173.60h1.00v8.20h-1.00z"/>
<path fill="#968ac0" d="M358.00 173.60h1.00v8.20h-1.00z"/>
<path fill="#8484ba" d="M359.00 173.60h1.00v8.20h-1.00z"/>
<path fill="#eabad8" d="M360.00 173.60h1.00v8.20h-1.00z"/>
<path fill="#d27272" d="M361.00 173.60h1.00v8.20h-1.00z"/>
<path fill="#ffc0c6" d="M362.00 173.60h1.00v8.20h-1.00z"/>
<path fill="#a88aba" d="M364.00 173.60h1.00v8.20h-1.00z"/>
<path fill="#a86c90" d="M365.00 173.60h1.00v8.20h-1.00z"/>
<path fill="#c096b4" d="M366.00 173.60h1.00v8.20h-1.00z"/>
<path fill="#ccccf6" d="M367.00 173.60h1.00v8.20h-1.00z"/>
<path fill="#5a609c" d="M368.00 173.60h1.00v8.20h-1.00z"/>
<path fill="#c6b4de" d="M369.00 173.60h1.00v8.20h-1.00z"/>
<path fill="#eaa8ae" d="M370.00 173.60h1.00v8.20h-1.00z"/>
<path fill="#ffb4ae" d="M372.00 173.60h1.00v8.20h-1.00zM377.00 173.60h1.00v8.20h-1.00z"/>
<path fill="#f0baba" d="M373.00 173.60h1.00v8.20h-1.00z"/>
<path fill="#ffd8d8" d="M375.00 173.60h1.00v8.20h-1.00z"/>
<path fill="#cc605a" d="M376.00 173.60h1.00v8.20h-1.00z"/>
<path fill="#e49ca8" d="M378.00 173.60h1.00v8.20h-1.00z"/>
<path fill="#c07e9c" d="M379.00 173.60h1.00v8.20h-1.00z"/>
<path fill="#ae7ea2" d="M380.00 173.60h1.00v8.20h-1.00z"/>
<path fill="#8a6c9c" d="M381.00 173.60h1.00v8.20h-1.00z"/>
<path fill="#baa8d8" d="M382.00 173.60h1.00v8.20h-1.00zM405.00 173.60h1.00v8.20h-1.00z"/>
<path fill="#90789c" d="M383.00 173.60h1.00v8.20h-1.00z"/>
<path fill="#fcbac6" d="M384.00 173.60h1.00v8.20h-1.00z"/>
<path fill="#d8726c" d="M385.00 173.60h1.00v8.20h-1.00z"/>
<path fill="#ffb4b4" d="M386.00 173.60h1.00v8.20h-1.00z"/>
<path fill="#eaa8a8" d="M387.00 173.60h1.00v8.20h-1.00z"/>
<path fill="#debad2" d="M388.00 173.60h1.00v8.20h-1.00z"/>
<path fill="#9696cc" d="M389.00 173.60h1.00v8.20h-1.00z"/>
<path fill="#6c60a2" d="M390.00 173.60h1.00v8.20h-1.00z"/>
<path fill="#cc84a8" d="M391.00 173.60h1.00v8.20h-1.00z"/>
<path fill="#f67272" d="M392.00 173.60h1.00v8.20h-1.00z"/>
<path fill="#de3c36" d="M393.00 173.60h1.00v8.20h-1.00z"/>
<path fill="#f07878" d="M394.00 173.60h1.00v8.20h-1.00z"/>
<path fill="#fcb4ba" d="M395.00 173.60h1.00v8.20h-1.00z"/>
<path fill="#e47e84" d="M396.00 173.60h1.00v8.20h-1.00z"/>
<path fill="#904872" d="M399.00 173.60h1.00v8.20h-1.00z"/>
<path fill="#723c78" d="M400.00 173.60h1.00v8.20h-1.00z"/>
<path fill="#a25a84" d="M401.00 173.60h1.00v8.20h-1.00z"/>
<path fill="#f0b4c6" d="M402.00 173.60h1.00v8.20h-1.00z"/>
<path fill="#c0a2ba" d="M403.00 173.60h1.00v8.20h-1.00z"/>
<path fill="#c6b4d2" d="M404.00 173.60h1.00v8.20h-1.00z"/>
<path fill="#6c548a" d="M406.00 173.60h1.00v8.20h-1.00z"/>
<path fill="#c67896" d="M407.00 173.60h1.00v8.20h-1.00z"/>
<path fill="#d84e4e" d="M408.00 173.60h1.00v8.20h-1.00z"/>
<path fill="#ff847e" d="M409.00 173.60h1.00v8.20h-1.00z"/>
<path fill="#ea3024" d="M411.00 173.60h0.10v8.20h-0.10z"/>
<rect x="82.5" y="156.6" width="329.2" height="25.80000000000001" fill="none" stroke="#1a1a1a" stroke-width="1.1"/>
<path fill="#f0c0c6" d="M83.10 189.40h0.90v8.20h-0.90z"/>
<path fill="#baa8d2" d="M84.00 189.40h1.00v8.20h-1.00z"/>
<path fill="#7e7eb4" d="M85.00 189.40h1.00v8.20h-1.00z"/>
<path fill="#ded8fc" d="M86.00 189.40h1.00v8.20h-1.00z"/>
<path fill="#b4a8c6" d="M87.00 189.40h1.00v8.20h-1.00z"/>
<path fill="#ae9cc0" d="M88.00 189.40h1.00v8.20h-1.00z"/>
<path fill="#d2bade" d="M89.00 189.40h1.00v8.20h-1.00z"/>
<path fill="#6c66a2" d="M90.00 189.40h1.00v8.20h-1.00z"/>
<path fill="#848acc" d="M91.00 189.40h1.00v8.20h-1.00z"/>
<path fill="#b4bae4" d="M92.00 189.40h1.00v8.20h-1.00zM121.00 189.40h1.00v8.20h-1.00zM182.00 189.40h1.00v8.20h-1.00z"/>
<path fill="#c6c6fc" d="M93.00 189.40h1.00v8.20h-1.00z"/>
<path fill="#4248a2" d="M94.00 189.40h1.00v8.20h-1.00z"/>
<path fill="#48489c" d="M95.00 189.40h1.00v8.20h-1.00z"/>
<path fill="#c6c6ff" d="M96.00 189.40h1.00v8.20h-1.00z"/>
<path fill="#5a5a96" d="M97.00 189.40h1.00v8.20h-1.00z"/>
<path fill="#cca8cc" d="M98.00 189.40h1.00v8.20h-1.00zM403.00 189.40h1.00v8.20h-1.00z"/>
<path fill="#e4909c" d="M99.00 189.40h1.00v8.20h-1.00z"/>
<path fill="#a86078" d="M100.00 189.40h1.00v8.20h-1.00z"/>
<path fill="#c6aecc" d="M101.00 189.40h1.00v8.20h-1.00zM202.00 189.40h1.00v8.20h-1.00z"/>
<path fill="#eae4f6" d="M102.00 189.40h1.00v8.20h-1.00z"/>
<path fill="#d8ccd8" d="M103.00 189.40h1.00v8.20h-1.00z"/>
<path fill="#ded8ea" d="M104.00 189.40h1.00v8.20h-1.00zM105.00 189.40h1.00v8.20h-1.00z"/>
<path fill="#d8c0d2" d="M106.00 189.40h1.00v8.20h-1.00z"/>
<path fill="#ae90ae" d="M107.00 189.40h1.00v8.20h-1.00z"/>
<path fill="#c0b4d8" d="M108.00 189.40h1.00v8.20h-1.00z"/>
<path fill="#d8def6" d="M109.00 189.40h1.00v8.20h-1.00z"/>
<path fill="#c6c6e4" d="M110.00 189.40h1.00v8.20h-1.00z"/>
<path fill="#c6ccfc" d="M111.00 189.40h1.00v8.20h-1.00z"/>
<path fill="#484e9c" d="M112.00 189.40h1.00v8.20h-1.00z"/>
<path fill="#7278cc" d="M113.00 189.40h1.00v8.20h-1.00z"/>
<path fill="#7860a2" d="M114.00 189.40h1.00v8.20h-1.00z"/>
<path fill="#b47e9c" d="M115.00 189.40h1.00v8.20h-1.00zM368.00 189.40h1.00v8.20h-1.00z"/>
<path fill="#fcd8de" d="M116.00 189.40h1.00v8.20h-1.00zM180.00 189.40h1.00v8.20h-1.00z"/>
<path fill="#f6f0f6" d="M117.00 189.40h1.00v8.20h-1.00z"/>
<path fill="#ccccde" d="M118.00 189.40h1.00v8.20h-1.00z"/>
<path fill="#c0c6e4" d="M119.00 189.40h1.00v8.20h-1.00z"/>
<path fill="#c6c6ea" d="M120.00 189.40h1.00v8.20h-1.00z"/>
<path fill="#9ca2cc" d="M122.00 189.40h1.00v8.20h-1.00zM345.00 189.40h1.00v8.20h-1.00z"/>
<path fill="#c0aed2" d="M123.00 189.40h1.00v8.20h-1.00z"/>
<path fill="#c09ca8" d="M124.00 189.40h1.00v8.20h-1.00z"/>
<path fill="#ffe4ea" d="M125.00 189.40h1.00v8.20h-1.00zM240.00 189.40h1.00v8.20h-1.00z"/>
<path fill="#cc8a8a" d="M126.00 189.40h1.00v8.20h-1.00z"/>
<path fill="#f6bac6" d="M127.00 189.40h1.00v8.20h-1.00z"/>
<path fill="#d2c6de" d="M128.00 189.40h1.00v8.20h-1.00z"/>
<path fill="#a8a8d8" d="M129.00 189.40h1.00v8.20h-1.00z"/>
<path fill="#a2a8d2" d="M130.00 189.40h1.00v8.20h-1.00z"/>
<path fill="#c0c6fc" d="M131.00 189.40h1.00v8.20h-1.00z"/>
<path fill="#4e4890" d="M132.00 189.40h1.00v8.20h-1.00z"/>
<path fill="#ae9cde" d="M133.00 189.40h1.00v8.20h-1.00z"/>
<path fill="#5a5aa2" d="M134.00 189.40h1.00v8.20h-1.00z"/>
<path fill="#666cc6" d="M135.00 189.40h1.00v8.20h-1.00z"/>
<path fill="#4e5ab4" d="M136.00 189.40h1.00v8.20h-1.00z"/>
<path fill="#4e54ae" d="M137.00 189.40h1.00v8.20h-1.00z"/>
<path fill="#8a90e4" d="M138.00 189.40h1.00v8.20h-1.00z"/>
<path fill="#424e9c" d="M139.00 189.40h1.00v8.20h-1.00z"/>
<path fill="#a8b4f6" d="M140.00 189.40h1.00v8.20h-1.00z"/>
<path fill="#606cb4" d="M141.00 189.40h1.00v8.20h-1.00z"/>
<path fill="#7278d2" d="M142.00 189.40h1.00v8.20h-1.00z"/>
<path fill="#4248a8" d="M143.00 189.40h1.00v8.20h-1.00z"/>
<path fill="#6060ae" d="M144.00 189.40h1.00v8.20h-1.00z"/>
<path fill="#b4a2d8" d="M145.00 189.40h1.00v8.20h-1.00z"/>
<path fill="#ba96b4" d="M146.00 189.40h1.00v8.20h-1.00z"/>
<path fill="#ba849c" d="M147.00 189.40h1.00v8.20h-1.00z"/>
<path fill="#dec0d2" d="M148.00 189.40h1.00v8.20h-1.00z"/>
<path fill="#f0defc" d="M149.00 189.40h1.00v8.20h-1.00z"/>
<path fill="#786690" d="M150.00 189.40h1.00v8.20h-1.00z"/>
<path fill="#ccbade" d="M151.00 189.40h1.00v8.20h-1.00z"/>
<path fill="#aea8d2" d="M152.00 189.40h1.00v8.20h-1.00z"/>
<path fill="#b4a8cc" d="M153.00 189.40h1.00v8.20h-1.00z"/>
<path fill="#fcd2d8" d="M154.00 189.40h1.00v8.20h-1.00z"/>
<path fill="#ea9c9c" d="M155.00 189.40h1.00v8.20h-1.00z"/>
<path fill="#f0b4ba" d="M156.00 189.40h1.00v8.20h-1.00z"/>
<path fill="#f0d8e4" d="M157.00 189.40h1.00v8.20h-1.00z"/>
<path fill="#ffd8de" d="M158.00 189.40h1.00v8.20h-1.00zM340.00 189.40h1.00v8.20h-1.00z"/>
<path fill="#d2909c" d="M159.00 189.40h1.00v8.20h-1.00z"/>
<path fill="#d8aec0" d="M160.00 189.40h1.00v8.20h-1.00zM161.00 189.40h1.00v8.20h-1.00z"/>
<path fill="#d8b4c0" d="M162.00 189.40h1.00v8.20h-1.00z"/>
<path fill="#f0d8ea" d="M163.00 189.40h1.00v8.20h-1.00zM380.00 189.40h1.00v8.20h-1.00z"/>
<path fill="#d28a9c" d="M164.00 189.40h1.00v8.20h-1.00z"/>
<path fill="#c05a66" d="M165.00 189.40h1.00v8.20h-1.00z"/>
<path fill="#d2a2c6" d="M166.00 189.40h1.00v8.20h-1.00z"/>
<path fill="#968ab4" d="M167.00 189.40h1.00v8.20h-1.00z"/>
<path fill="#f0e4ff" d="M168.00 189.40h1.00v8.20h-1.00z"/>
<path fill="#b4a2c0" d="M169.00 189.40h1.00v8.20h-1.00z"/>
<path fill="#c09cc6" d="M170.00 189.40h1.00v8.20h-1.00z"/>
<path fill="#845a84" d="M171.00 189.40h1.00v8.20h-1.00z"/>
<path fill="#f6c6de" d="M172.00 189.40h1.00v8.20h-1.00zM327.00 189.40h1.00v8.20h-1.00z"/>
<path fill="#dea2a2" d="M173.00 189.40h1.00v8.20h-1.00z"/>
<path fill="#fcd8ea" d="M174.00 189.40h1.00v8.20h-1.00z"/>
<path fill="#a28aae" d="M175.00 189.40h1.00v8.20h-1.00z"/>
<path fill="#ba9cc6" d="M176.00 189.40h1.00v8.20h-1.00z"/>
<path fill="#8a72a2" d="M177.00 189.40h1.00v8.20h-1.00z"/>
<path fill="#d8aecc" d="M178.00 189.40h1.00v8.20h-1.00z"/>
<path fill="#d89c9c" d="M179.00 189.40h1.00v8.20h-1.00z"/>
<path fill="#eaeafc" d="M181.00 189.40h1.00v8.20h-1.00z"/>
<path fill="#726ca8" d="M183.00 189.40h1.00v8.20h-1.00z"/>
<path fill="#c67ea2" d="M184.00 189.40h1.00v8.20h-1.00z"/>
<path fill="#d24e4e" d="M185.00 189.40h1.00v8.20h-1.00z"/>
<path fill="#ff908a" d="M186.00 189.40h1.00v8.20h-1.00z"/>
<path fill="#ffa8a8" d="M187.00 189.40h1.00v8.20h-1.00zM219.00 189.40h1.00v8.20h-1.00zM295.00 189.40h1.00v8.20h-1.00z"/>
<path fill="#c06672" d="M188.00 189.40h1.00v8.20h-1.00z"/>
<path fill="#d296b4" d="M189.00 189.40h1.00v8.20h-1.00z"/>
<path fill="#d89ca8" d="M190.00 189.40h1.00v8.20h-1.00zM334.00 189.40h1.00v8.20h-1.00z"/>
<path fill="#ffcccc" d="M191.00 189.40h1.00v8.20h-1.00z"/>
<path fill="#f09c96" d="M192.00 189.40h1.00v8.20h-1.00z"/>
<path fill="#de8a8a" d="M193.00 189.40h1.00v8.20h-1.00zM261.00 189.40h1.00v8.20h-1.00z"/>
<path fill="#f6d2de" d="M194.00 189.40h1.00v8.20h-1.00z"/>
<path fill="#d8d2ea" d="M195.00 189.40h1.00v8.20h-1.00zM341.00 189.40h1.00v8.20h-1.00z"/>
<path fill="#c0c0de" d="M196.00 189.40h1.00v8.20h-1.00z"/>
<path fill="#b4a8d8" d="M197.00 189.40h1.00v8.20h-1.00z"/>
<path fill="#8a547e" d="M198.00 189.40h1.00v8.20h-1.00z"/>
<path fill="#de6c78" d="M199.00 189.40h1.00v8.20h-1.00z"/>
<path fill="#fc7872" d="M200.00 189.40h1.00v8.20h-1.00z"/>
<path fill="#d2727e" d="M201.00 189.40h1.00v8.20h-1.00z"/>
<path fill="#a2a2c6" d="M203.00 189.40h1.00v8.20h-1.00z"/>
<path fill="#ffd8e4" d="M204.00 189.40h1.00v8.20h-1.00zM321.00 189.40h1.00v8.20h-1.00z"/>
<path fill="#d27878" d="M205.00 189.40h1.00v8.20h-1.00z"/>
<path fill="#e47884" d="M206.00 189.40h1.00v8.20h-1.00z"/>
<path fill="#ae5472" d="M207.00 189.40h1.00v8.20h-1.00z"/>
<path fill="#9c78a8" d="M208.00 189.40h1.00v8.20h-1.00z"/>
<path fill="#a8aeea" d="M209.00 189.40h1.00v8.20h-1.00z"/>
<path fill="#7e78b4" d="M210.00 189.40h1.00v8.20h-1.00z"/>
<path fill="#c69cba" d="M211.00 189.40h1.00v8.20h-1.00z"/>
<path fill="#d890a2" d="M212.00 189.40h1.00v8.20h-1.00z"/>
<path fill="#b47290" d="M213.00 189.40h1.00v8.20h-1.00z"/>
<path fill="#ae789c" d="M214.00 189.40h1.00v8.20h-1.00z"/>
<path fill="#a896b4" d="M215.00 189.40h1.00v8.20h-1.00z"/>
<path fill="#f6e4fc" d="M216.00 189.40h1.00v8.20h-1.00zM245.00 189.40h1.00v8.20h-1.00z"/>
<path fill="#fca8a8" d="M217.00 189.40h1.00v8.20h-1.00z"/>
<path fill="#d85a54" d="M218.00 189.40h1.00v8.20h-1.00z"/>
<path fill="#e4c6e4" d="M220.00 189.40h1.00v8.20h-1.00z"/>
<path fill="#7272ae" d="M221.00 189.40h1.00v8.20h-1.00z"/>
<path fill="#9ca2de" d="M222.00 189.40h1.00v8.20h-1.00z"/>
<path fill="#8a90cc" d="M223.00 189.40h1.00v8.20h-1.00z"/>
<path fill="#9090c6" d="M224.00 189.40h1.00v8.20h-1.00z"/>
<path fill="#ccbad2" d="M225.00 189.40h1.00v8.20h-1.00z"/>
<path fill="#ffdeea" d="M226.00 189.40h1.00v8.20h-1.00z"/>
<path fill="#ae8aae" d="M227.00 189.40h1.00v8.20h-1.00z"/>
<path fill="#5a5496" d="M228.00 189.40h1.00v8.20h-1.00z"/>
<path fill="#a896cc" d="M229.00 189.40h1.00v8.20h-1.00z"/>
<path fill="#deaec0" d="M230.00 189.40h1.00v8.20h-1.00z"/>
<path fill="#ba96ae" d="M231.00 189.40h1.00v8.20h-1.00z"/>
<path fill="#d2ccf0" d="M232.00 189.40h1.00v8.20h-1.00z"/>
<path fill="#9090b4" d="M233.00 189.40h1.00v8.20h-1.00z"/>
<path fill="#fff0fc" d="M234.00 189.40h1.00v8.20h-1.00z"/>
<path fill="#deaeae" d="M235.00 189.40h1.00v8.20h-1.00z"/>
<path fill="#ffeaea" d="M236.00 189.40h1.00v8.20h-1.00z"/>
<path fill="#fcdee4" d="M237.00 189.40h1.00v8.20h-1.00z"/>
<path fill="#e4aeae" d="M238.00 189.40h1.00v8.20h-1.00z"/>
<path fill="#eab4b4" d="M239.00 189.40h1.00v8.20h-1.00z"/>
<path fill="#f0d8de" d="M241.00 189.40h1.00v8.20h-1.00z"/>
<path fill="#ffbac0" d="M242.00 189.40h1.00v8.20h-1.00z"/>
<path fill="#c0484e" d="M243.00 189.40h1.00v8.20h-1.00z"/>
<path fill="#c66c7e" d="M244.00 189.40h1.00v8.20h-1.00z"/>
<path fill="#b4bade" d="M246.00 189.40h1.00v8.20h-1.00z"/>
<path fill="#7e84cc" d="M247.00 189.40h1.00v8.20h-1.00z"/>
<path fill="#5a488a" d="M248.00 189.40h1.00v8.20h-1.00z"/>
<path fill="#d290a8" d="M249.00 189.40h1.00v8.20h-1.00z"/>
<path fill="#f0aeb4" d="M250.00 189.40h1.00v8.20h-1.00z"/>
<path fill="#f6baba" d="M251.00 189.40h1.00v8.20h-1.00z"/>
<path fill="#dea8ae" d="M252.00 189.40h1.00v8.20h-1.00z"/>
<path fill="#f0def0" d="M253.00 189.40h1.00v8.20h-1.00z"/>
<path fill="#c0bad2" d="M254.00 189.40h1.00v8.20h-1.00z"/>
<path fill="#ead8e4" d="M255.00 189.40h1.00v8.20h-1.00z"/>
<path fill="#fff0f6" d="M256.00 189.40h1.00v8.20h-1.00z"/>
<path fill="#f0d2d8" d="M257.00 189.40h1.00v8.20h-1.00z"/>
<path fill="#dec0d8" d="M258.00 189.40h1.00v8.20h-1.00z"/>
<path fill="#7872a2" d="M259.00 189.40h1.00v8.20h-1.00z"/>
<path fill="#e4ccea" d="M260.00 189.40h1.00v8.20h-1.00z"/>
<path fill="#f69696" d="M262.00 189.40h1.00v8.20h-1.00z"/>
<path fill="#f0aeba" d="M263.00 189.40h1.00v8.20h-1.00z"/>
<path fill="#a87896" d="M264.00 189.40h1.00v8.20h-1.00z"/>
<path fill="#fca8b4" d="M265.00 189.40h1.00v8.20h-1.00z"/>
<path fill="#de726c" d="M266.00 189.40h1.00v8.20h-1.00z"/>
<path fill="#ffc0c6" d="M267.00 189.40h1.00v8.20h-1.00zM395.00 189.40h1.00v8.20h-1.00z"/>
<path fill="#ba90a8" d="M268.00 189.40h1.00v8.20h-1.00z"/>
<path fill="#fcaeba" d="M269.00 189.40h1.00v8.20h-1.00z"/>
<path fill="#cc6c6c" d="M270.00 189.40h1.00v8.20h-1.00z"/>
<path fill="#f6b4c6" d="M271.00 189.40h1.00v8.20h-1.00z"/>
<path fill="#c68496" d="M272.00 189.40h1.00v8.20h-1.00z"/>
<path fill="#f6a2a8" d="M273.00 189.40h1.00v8.20h-1.00z"/>
<path fill="#ffa2a2" d="M274.00 189.40h1.00v8.20h-1.00z"/>
<path fill="#ea8a8a" d="M275.00 189.40h1.00v8.20h-1.00z"/>
<path fill="#e4969c" d="M276.00 189.40h1.00v8.20h-1.00z"/>
<path fill="#ffd8d8" d="M277.00 189.40h1.00v8.20h-1.00z"/>
<path fill="#eaa8b4" d="M278.00 189.40h1.00v8.20h-1.00z"/>
<path fill="#a24260" d="M279.00 189.40h1.00v8.20h-1.00z"/>
<path fill="#ba3c4e" d="M280.00 189.40h1.00v8.20h-1.00z"/>
<path fill="#d87284" d="M281.00 189.40h1.00v8.20h-1.00z"/>
<path fill="#ae90ba" d="M282.00 189.40h1.00v8.20h-1.00z"/>
<path fill="#a8aed8" d="M283.00 189.40h1.00v8.20h-1.00z"/>
<path fill="#ded8f0" d="M284.00 189.40h1.00v8.20h-1.00z"/>
<path fill="#e4c6d8" d="M285.00 189.40h1.00v8.20h-1.00z"/>
<path fill="#d2aecc" d="M286.00 189.40h1.00v8.20h-1.00z"/>
<path fill="#6c609c" d="M287.00 189.40h1.00v8.20h-1.00z"/>
<path fill="#c0a8d8" d="M288.00 189.40h1.00v8.20h-1.00z"/>
<path fill="#c68a96" d="M289.00 189.40h1.00v8.20h-1.00z"/>
<path fill="#ffbaba" d="M290.00 189.40h1.00v8.20h-1.00zM381.00 189.40h1.00v8.20h-1.00z"/>
<path fill="#f68a84" d="M291.00 189.40h1.00v8.20h-1.00z"/>
<path fill="#de7272" d="M292.00 189.40h1.00v8.20h-1.00zM383.00 189.40h1.00v8.20h-1.00z"/>
<path fill="#ffa8ae" d="M293.00 189.40h1.00v8.20h-1.00zM329.00 189.40h1.00v8.20h-1.00z"/>
<path fill="#cc6c72" d="M294.00 189.40h1.00v8.20h-1.00z"/>
<path fill="#d2787e" d="M296.00 189.40h1.00v8.20h-1.00z"/>
<path fill="#fcb4c6" d="M297.00 189.40h1.00v8.20h-1.00z"/>
<path fill="#906690" d="M298.00 189.40h1.00v8.20h-1.00z"/>
<path fill="#a284b4" d="M299.00 189.40h1.00v8.20h-1.00z"/>
<path fill="#f0c6d8" d="M300.00 189.40h1.00v8.20h-1.00zM388.00 189.40h1.00v8.20h-1.00z"/>
<path fill="#e4c0cc" d="M301.00 189.40h1.00v8.20h-1.00z"/>
<path fill="#d8cce4" d="M302.00 189.40h1.00v8.20h-1.00zM352.00 189.40h1.00v8.20h-1.00z"/>
<path fill="#b4aed2" d="M303.00 189.40h1.00v8.20h-1.00z"/>
<path fill="#9c90c6" d="M304.00 189.40h1.00v8.20h-1.00z"/>
<path fill="#7872b4" d="M305.00 189.40h1.00v8.20h-1.00z"/>
<path fill="#b4aed8" d="M306.00 189.40h1.00v8.20h-1.00z"/>
<path fill="#d8c6d8" d="M307.00 189.40h1.00v8.20h-1.00z"/>
<path fill="#ffccd2" d="M308.00 189.40h1.00v8.20h-1.00zM357.00 189.40h1.00v8.20h-1.00zM360.00 189.40h1.00v8.20h-1.00z"/>
<path fill="#d25a60" d="M309.00 189.40h1.00v8.20h-1.00z"/>
<path fill="#de5a60" d="M310.00 189.40h1.00v8.20h-1.00z"/>
<path fill="#e47278" d="M311.00 189.40h1.00v8.20h-1.00z"/>
<path fill="#f07272" d="M312.00 189.40h1.00v8.20h-1.00z"/>
<path fill="#f66c66" d="M313.00 189.40h1.00v8.20h-1.00z"/>
<path fill="#de6c6c" d="M314.00 189.40h1.00v8.20h-1.00z"/>
<path fill="#d89cb4" d="M315.00 189.40h1.00v8.20h-1.00z"/>
<path fill="#c0a8c0" d="M316.00 189.40h1.00v8.20h-1.00zM372.00 189.40h1.00v8.20h-1.00z"/>
<path fill="#f0ccd2" d="M317.00 189.40h1.00v8.20h-1.00z"/>
<path fill="#ffc6c6" d="M318.00 189.40h1.00v8.20h-1.00z"/>
<path fill="#f69c9c" d="M319.00 189.40h1.00v8.20h-1.00z"/>
<path fill="#e49090" d="M320.00 189.40h1.00v8.20h-1.00z"/>
<path fill="#b490a8" d="M322.00 189.40h1.00v8.20h-1.00z"/>
<path fill="#e4aeba" d="M323.00 189.40h1.00v8.20h-1.00z"/>
<path fill="#ffd2d8" d="M324.00 189.40h1.00v8.20h-1.00z"/>
<path fill="#d8aec6" d="M325.00 189.40h1.00v8.20h-1.00z"/>
<path fill="#9078a2" d="M326.00 189.40h1.00v8.20h-1.00z"/>
<path fill="#c6666c" d="M328.00 189.40h1.00v8.20h-1.00z"/>
<path fill="#ba8490" d="M330.00 189.40h1.00v8.20h-1.00z"/>
<path fill="#deccf6" d="M331.00 189.40h1.00v8.20h-1.00z"/>
<path fill="#6c72a8" d="M332.00 189.40h1.00v8.20h-1.00z"/>
<path fill="#c6bade" d="M333.00 189.40h1.00v8.20h-1.00z"/>
<path fill="#f6a8a8" d="M335.00 189.40h1.00v8.20h-1.00zM394.00 189.40h1.00v8.20h-1.00z"/>
<path fill="#f69ca2" d="M336.00 189.40h1.00v8.20h-1.00z"/>
<path fill="#de8a90" d="M337.00 189.40h1.00v8.20h-1.00z"/>
<path fill="#dea2ae" d="M338.00 189.40h1.00v8.20h-1.00z"/>
<path fill="#e4aeb4" d="M339.00 189.40h1.00v8.20h-1.00zM391.00 189.40h1.00v8.20h-1.00z"/>
<path fill="#8a90c6" d="M342.00 189.40h1.00v8.20h-1.00z"/>
<path fill="#8a90c0" d="M343.00 189.40h1.00v8.20h-1.00z"/>
<path fill="#eaeaff" d="M344.00 189.40h1.00v8.20h-1.00z"/>
<path fill="#ae9cc6" d="M346.00 189.40h1.00v8.20h-1.00z"/>
<path fill="#deaeba" d="M347.00 189.40h1.00v8.20h-1.00z"/>
<path fill="#fcccd2" d="M348.00 189.40h1.00v8.20h-1.00z"/>
<path fill="#ba8aa2" d="M349.00 189.40h1.00v8.20h-1.00z"/>
<path fill="#c696b4" d="M350.00 189.40h1.00v8.20h-1.00z"/>
<path fill="#ccaecc" d="M351.00 189.40h1.00v8.20h-1.00z"/>
<path fill="#c6bad8" d="M353.00 189.40h1.00v8.20h-1.00z"/>
<path fill="#dec6e4" d="M354.00 189.40h1.00v8.20h-1.00z"/>
<path fill="#9c789c" d="M355.00 189.40h1.00v8.20h-1.00z"/>
<path fill="#d2bad8" d="M356.00 189.40h1.00v8.20h-1.00z"/>
<path fill="#c0423c" d="M358.00 189.40h1.00v8.20h-1.00z"/>
<path fill="#ffaeae" d="M359.00 189.40h1.00v8.20h-1.00z"/>
<path fill="#d85a5a" d="M361.00 189.40h1.00v8.20h-1.00z"/>
<path fill="#f06660" d="M362.00 189.40h1.00v8.20h-1.00z"/>
<path fill="#ff9c96" d="M363.00 189.40h1.00v8.20h-1.00z"/>
<path fill="#f09090" d="M364.00 189.40h1.00v8.20h-1.00z"/>
<path fill="#f6bab4" d="M365.00 189.40h1.00v8.20h-1.00z"/>
<path fill="#fff0f0" d="M366.00 189.40h1.00v8.20h-1.00z"/>
<path fill="#eac6d2" d="M367.00 189.40h1.00v8.20h-1.00z"/>
<path fill="#784e78" d="M369.00 189.40h1.00v8.20h-1.00z"/>
<path fill="#f0d8f0" d="M370.00 189.40h1.00v8.20h-1.00z"/>
<path fill="#e4def0" d="M371.00 189.40h1.00v8.20h-1.00z"/>
<path fill="#ba8a9c" d="M373.00 189.40h1.00v8.20h-1.00z"/>
<path fill="#d2c0e4" d="M374.00 189.40h1.00v8.20h-1.00z"/>
<path fill="#7884c6" d="M375.00 189.40h1.00v8.20h-1.00z"/>
<path fill="#6060a2" d="M376.00 189.40h1.00v8.20h-1.00z"/>
<path fill="#e4d8f6" d="M377.00 189.40h1.00v8.20h-1.00z"/>
<path fill="#d2d2ea" d="M378.00 189.40h1.00v8.20h-1.00z"/>
<path fill="#a8a8cc" d="M379.00 189.40h1.00v8.20h-1.00z"/>
<path fill="#de5a5a" d="M382.00 189.40h1.00v8.20h-1.00z"/>
<path fill="#fcbac6" d="M384.00 189.40h1.00v8.20h-1.00z"/>
<path fill="#cc6672" d="M385.00 189.40h1.00v8.20h-1.00z"/>
<path fill="#d86666" d="M386.00 189.40h1.00v8.20h-1.00z"/>
<path fill="#eac0d2" d="M387.00 189.40h1.00v8.20h-1.00z"/>
<path fill="#ae6672" d="M389.00 189.40h1.00v8.20h-1.00z"/>
<path fill="#ffc6d2" d="M390.00 189.40h1.00v8.20h-1.00z"/>
<path fill="#ffc6c0" d="M392.00 189.40h1.00v8.20h-1.00z"/>
<path fill="#f0a8a2" d="M393.00 189.40h1.00v8.20h-1.00z"/>
<path fill="#9c425a" d="M396.00 189.40h1.00v8.20h-1.00z"/>
<path fill="#b4789c" d="M397.00 189.40h1.00v8.20h-1.00z"/>
<path fill="#ae9cd2" d="M398.00 189.40h1.00v8.20h-1.00z"/>
<path fill="#6066ae" d="M399.00 189.40h1.00v8.20h-1.00z"/>
<path fill="#a88ac0" d="M400.00 189.40h1.00v8.20h-1.00z"/>
<path fill="#b46078" d="M401.00 189.40h1.00v8.20h-1.00z"/>
<path fill="#eaa8ba" d="M402.00 189.40h1.00v8.20h-1.00z"/>
<path fill="#72669c" d="M404.00 189.40h1.00v8.20h-1.00z"/>
<path fill="#ccd2ff" d="M405.00 189.40h1.00v8.20h-1.00z"/>
<path fill="#b496c0" d="M406.00 189.40h1.00v8.20h-1.00z"/>
<path fill="#904866" d="M407.00 189.40h1.00v8.20h-1.00z"/>
<path fill="#fcd2e4" d="M408.00 189.40h1.00v8.20h-1.00z"/>
<path fill="#d2ccde" d="M409.00 189.40h1.00v8.20h-1.00z"/>
<path fill="#d2cce4" d="M410.00 189.40h1.00v8.20h-1.00z"/>
<path fill="#c0c0e4" d="M411.00 189.40h0.10v8.20h-0.10z"/>
<path fill="#f6ccd2" d="M83.10 197.00h0.90v7.60h-0.90z"/>
<path fill="#d2c0d8" d="M84.00 197.00h1.00v7.60h-1.00z"/>
<path fill="#9c96c0" d="M85.00 197.00h1.00v7.60h-1.00z"/>
<path fill="#eadefc" d="M86.00 197.00h1.00v7.60h-1.00z"/>
<path fill="#baa2c0" d="M87.00 197.00h1.00v7.60h-1.00z"/>
<path fill="#ae9cc0" d="M88.00 197.00h1.00v7.60h-1.00z"/>
<path fill="#ccc6f6" d="M89.00 197.00h1.00v7.60h-1.00z"/>
<path fill="#4e549c" d="M90.00 197.00h1.00v7.60h-1.00z"/>
<path fill="#7e84c6" d="M91.00 197.00h1.00v7.60h-1.00z"/>
<path fill="#e4e4ff" d="M92.00 197.00h1.00v7.60h-1.00z"/>
<path fill="#ccccf6" d="M93.00 197.00h1.00v7.60h-1.00zM253.00 197.00h1.00v7.60h-1.00z"/>
<path fill="#424ea2" d="M94.00 197.00h1.00v7.60h-1.00z"/>
<path fill="#4248a8" d="M95.00 197.00h1.00v7.60h-1.00z"/>
<path fill="#7e8ade" d="M96.00 197.00h1.00v7.60h-1.00z"/>
<path fill="#424e9c" d="M97.00 197.00h1.00v7.60h-1.00z"/>
<path fill="#a296cc" d="M98.00 197.00h1.00v7.60h-1.00z"/>
<path fill="#eab4c6" d="M99.00 197.00h1.00v7.60h-1.00zM236.00 197.00h1.00v7.60h-1.00z"/>
<path fill="#c68a9c" d="M100.00 197.00h1.00v7.60h-1.00zM251.00 197.00h1.00v7.60h-1.00z"/>
<path fill="#c0a2c0" d="M101.00 197.00h1.00v7.60h-1.00z"/>
<path fill="#eadef0" d="M102.00 197.00h1.00v7.60h-1.00z"/>
<path fill="#f6f6ff" d="M103.00 197.00h1.00v7.60h-1.00z"/>
<path fill="#c6c6e4" d="M104.00 197.00h1.00v7.60h-1.00zM342.00 197.00h1.00v7.60h-1.00z"/>
<path fill="#a8a2cc" d="M105.00 197.00h1.00v7.60h-1.00z"/>
<path fill="#a884ae" d="M106.00 197.00h1.00v7.60h-1.00z"/>
<path fill="#a278a2" d="M107.00 197.00h1.00v7.60h-1.00z"/>
<path fill="#baaed2" d="M108.00 197.00h1.00v7.60h-1.00zM222.00 197.00h1.00v7.60h-1.00z"/>
<path fill="#c6c0ea" d="M109.00 197.00h1.00v7.60h-1.00z"/>
<path fill="#9684a8" d="M110.00 197.00h1.00v7.60h-1.00z"/>
<path fill="#f6e4ff" d="M111.00 197.00h1.00v7.60h-1.00z"/>
<path fill="#4e4e90" d="M112.00 197.00h1.00v7.60h-1.00z"/>
<path fill="#8a90de" d="M113.00 197.00h1.00v7.60h-1.00z"/>
<path fill="#7e78ae" d="M114.00 197.00h1.00v7.60h-1.00z"/>
<path fill="#dec0d8" d="M115.00 197.00h1.00v7.60h-1.00zM214.00 197.00h1.00v7.60h-1.00zM256.00 197.00h1.00v7.60h-1.00z"/>
<path fill="#eac0cc" d="M116.00 197.00h1.00v7.60h-1.00z"/>
<path fill="#ccb4c0" d="M117.00 197.00h1.00v7.60h-1.00z"/>
<path fill="#fcf0f6" d="M118.00 197.00h1.00v7.60h-1.00z"/>
<path fill="#f6eafc" d="M119.00 197.00h1.00v7.60h-1.00z"/>
<path fill="#847eb4" d="M120.00 197.00h1.00v7.60h-1.00z"/>
<path fill="#7278ba" d="M121.00 197.00h1.00v7.60h-1.00zM144.00 197.00h1.00v7.60h-1.00z"/>
<path fill="#909cde" d="M122.00 197.00h1.00v7.60h-1.00z"/>
<path fill="#907eb4" d="M123.00 197.00h1.00v7.60h-1.00z"/>
<path fill="#a87290" d="M124.00 197.00h1.00v7.60h-1.00z"/>
<path fill="#ffe4ea" d="M125.00 197.00h1.00v7.60h-1.00z"/>
<path fill="#d8969c" d="M126.00 197.00h1.00v7.60h-1.00z"/>
<path fill="#c696ae" d="M127.00 197.00h1.00v7.60h-1.00z"/>
<path fill="#c0aed2" d="M128.00 197.00h1.00v7.60h-1.00z"/>
<path fill="#c6aec6" d="M129.00 197.00h1.00v7.60h-1.00z"/>
<path fill="#f0d8ea" d="M130.00 197.00h1.00v7.60h-1.00z"/>
<path fill="#c6c0f0" d="M131.00 197.00h1.00v7.60h-1.00z"/>
<path fill="#4e4890" d="M132.00 197.00h1.00v7.60h-1.00zM305.00 197.00h1.00v7.60h-1.00z"/>
<path fill="#a896d8" d="M133.00 197.00h1.00v7.60h-1.00z"/>
<path fill="#7872ae" d="M134.00 197.00h1.00v7.60h-1.00z"/>
<path fill="#8a90d2" d="M135.00 197.00h1.00v7.60h-1.00z"/>
<path fill="#9ca2e4" d="M136.00 197.00h1.00v7.60h-1.00z"/>
<path fill="#5a60a8" d="M137.00 197.00h1.00v7.60h-1.00z"/>
<path fill="#a8b4f0" d="M138.00 197.00h1.00v7.60h-1.00z"/>
<path fill="#787eb4" d="M139.00 197.00h1.00v7.60h-1.00z"/>
<path fill="#ccd2ff" d="M140.00 197.00h1.00v7.60h-1.00z"/>
<path fill="#6672ba" d="M141.00 197.00h1.00v7.60h-1.00z"/>
<path fill="#4248ae" d="M142.00 197.00h1.00v7.60h-1.00z"/>
<path fill="#424eae" d="M143.00 197.00h1.00v7.60h-1.00z"/>
<path fill="#ded8f0" d="M145.00 197.00h1.00v7.60h-1.00z"/>
<path fill="#ffeaea" d="M146.00 197.00h1.00v7.60h-1.00zM157.00 197.00h1.00v7.60h-1.00zM367.00 197.00h1.00v7.60h-1.00z"/>
<path fill="#d88a84" d="M147.00 197.00h1.00v7.60h-1.00z"/>
<path fill="#ffc0c6" d="M148.00 197.00h1.00v7.60h-1.00zM174.00 197.00h1.00v7.60h-1.00z"/>
<path fill="#d8cce4" d="M149.00 197.00h1.00v7.60h-1.00z"/>
<path fill="#7878a8" d="M150.00 197.00h1.00v7.60h-1.00z"/>
<path fill="#fcf6ff" d="M151.00 197.00h1.00v7.60h-1.00zM152.00 197.00h1.00v7.60h-1.00z"/>
<path fill="#9084b4" d="M153.00 197.00h1.00v7.60h-1.00z"/>
<path fill="#a8789c" d="M154.00 197.00h1.00v7.60h-1.00z"/>
<path fill="#d8848a" d="M155.00 197.00h1.00v7.60h-1.00z"/>
<path fill="#ffd2d2" d="M156.00 197.00h1.00v7.60h-1.00zM191.00 197.00h1.00v7.60h-1.00z"/>
<path fill="#de8a84" d="M158.00 197.00h1.00v7.60h-1.00z"/>
<path fill="#fc9690" d="M159.00 197.00h1.00v7.60h-1.00zM160.00 197.00h1.00v7.60h-1.00z"/>
<path fill="#fc908a" d="M161.00 197.00h1.00v7.60h-1.00z"/>
<path fill="#e48a90" d="M162.00 197.00h1.00v7.60h-1.00z"/>
<path fill="#e4bac6" d="M163.00 197.00h1.00v7.60h-1.00z"/>
<path fill="#ffcccc" d="M164.00 197.00h1.00v7.60h-1.00z"/>
<path fill="#c66c72" d="M165.00 197.00h1.00v7.60h-1.00z"/>
<path fill="#d8aecc" d="M166.00 197.00h1.00v7.60h-1.00z"/>
<path fill="#a87ea2" d="M167.00 197.00h1.00v7.60h-1.00z"/>
<path fill="#cc849c" d="M168.00 197.00h1.00v7.60h-1.00z"/>
<path fill="#d89cb4" d="M169.00 197.00h1.00v7.60h-1.00z"/>
<path fill="#ba84a8" d="M170.00 197.00h1.00v7.60h-1.00z"/>
<path fill="#905a7e" d="M171.00 197.00h1.00v7.60h-1.00z"/>
<path fill="#eaaec6" d="M172.00 197.00h1.00v7.60h-1.00z"/>
<path fill="#cc7278" d="M173.00 197.00h1.00v7.60h-1.00z"/>
<path fill="#eac6d2" d="M175.00 197.00h1.00v7.60h-1.00zM390.00 197.00h1.00v7.60h-1.00z"/>
<path fill="#e4c6d8" d="M176.00 197.00h1.00v7.60h-1.00z"/>
<path fill="#b4a8d2" d="M177.00 197.00h1.00v7.60h-1.00z"/>
<path fill="#846c9c" d="M178.00 197.00h1.00v7.60h-1.00z"/>
<path fill="#c690ae" d="M179.00 197.00h1.00v7.60h-1.00z"/>
<path fill="#c6aecc" d="M180.00 197.00h1.00v7.60h-1.00z"/>
<path fill="#c6a2c6" d="M181.00 197.00h1.00v7.60h-1.00z"/>
<path fill="#ae667e" d="M182.00 197.00h1.00v7.60h-1.00z"/>
<path fill="#d8a2c0" d="M183.00 197.00h1.00v7.60h-1.00z"/>
<path fill="#e49cae" d="M184.00 197.00h1.00v7.60h-1.00z"/>
<path fill="#d85454" d="M185.00 197.00h1.00v7.60h-1.00z"/>
<path fill="#ff6660" d="M186.00 197.00h1.00v7.60h-1.00z"/>
<path fill="#e44e48" d="M187.00 197.00h1.00v7.60h-1.00z"/>
<path fill="#e46c72" d="M188.00 197.00h1.00v7.60h-1.00z"/>
<path fill="#d27284" d="M189.00 197.00h1.00v7.60h-1.00z"/>
<path fill="#e49096" d="M190.00 197.00h1.00v7.60h-1.00zM323.00 197.00h1.00v7.60h-1.00zM351.00 197.00h1.00v7.60h-1.00z"/>
<path fill="#e4aeb4" d="M192.00 197.00h1.00v7.60h-1.00z"/>
<path fill="#f0aeae" d="M193.00 197.00h1.00v7.60h-1.00zM291.00 197.00h1.00v7.60h-1.00zM292.00 197.00h1.00v7.60h-1.00z"/>
<path fill="#f0b4b4" d="M194.00 197.00h1.00v7.60h-1.00zM257.00 197.00h1.00v7.60h-1.00z"/>
<path fill="#fff0f0" d="M195.00 197.00h1.00v7.60h-1.00z"/>
<path fill="#f6dede" d="M196.00 197.00h1.00v7.60h-1.00z"/>
<path fill="#ffe4f6" d="M197.00 197.00h1.00v7.60h-1.00z"/>
<path fill="#ae6c84" d="M198.00 197.00h1.00v7.60h-1.00z"/>
<path fill="#de4854" d="M199.00 197.00h1.00v7.60h-1.00z"/>
<path fill="#ea3c36" d="M200.00 197.00h1.00v7.60h-1.00z"/>
<path fill="#d25a66" d="M201.00 197.00h1.00v7.60h-1.00z"/>
<path fill="#d290b4" d="M202.00 197.00h1.00v7.60h-1.00z"/>
<path fill="#c0667e" d="M203.00 197.00h1.00v7.60h-1.00z"/>
<path fill="#f66666" d="M204.00 197.00h1.00v7.60h-1.00z"/>
<path fill="#de4e4e" d="M205.00 197.00h1.00v7.60h-1.00z"/>
<path fill="#f67e84" d="M206.00 197.00h1.00v7.60h-1.00z"/>
<path fill="#c6666c" d="M207.00 197.00h1.00v7.60h-1.00z"/>
<path fill="#f6d2f0" d="M208.00 197.00h1.00v7.60h-1.00z"/>
<path fill="#6c72ae" d="M209.00 197.00h1.00v7.60h-1.00z"/>
<path fill="#8a90cc" d="M210.00 197.00h1.00v7.60h-1.00z"/>
<path fill="#d2c6e4" d="M211.00 197.00h1.00v7.60h-1.00zM348.00 197.00h1.00v7.60h-1.00z"/>
<path fill="#dec0d2" d="M212.00 197.00h1.00v7.60h-1.00z"/>
<path fill="#a884a2" d="M213.00 197.00h1.00v7.60h-1.00z"/>
<path fill="#d8d2ea" d="M215.00 197.00h1.00v7.60h-1.00z"/>
<path fill="#c0bad8" d="M216.00 197.00h1.00v7.60h-1.00z"/>
<path fill="#ffd2de" d="M217.00 197.00h1.00v7.60h-1.00zM333.00 197.00h1.00v7.60h-1.00z"/>
<path fill="#e47872" d="M218.00 197.00h1.00v7.60h-1.00z"/>
<path fill="#de7e90" d="M219.00 197.00h1.00v7.60h-1.00z"/>
<path fill="#78548a" d="M220.00 197.00h1.00v7.60h-1.00z"/>
<path fill="#bab4e4" d="M221.00 197.00h1.00v7.60h-1.00z"/>
<path fill="#d2a8c6" d="M223.00 197.00h1.00v7.60h-1.00z"/>
<path fill="#964266" d="M224.00 197.00h1.00v7.60h-1.00z"/>
<path fill="#a8608a" d="M225.00 197.00h1.00v7.60h-1.00z"/>
<path fill="#a284ae" d="M226.00 197.00h1.00v7.60h-1.00z"/>
<path fill="#c0b4ea" d="M227.00 197.00h1.00v7.60h-1.00z"/>
<path fill="#484e96" d="M228.00 197.00h1.00v7.60h-1.00z"/>
<path fill="#aea2de" d="M229.00 197.00h1.00v7.60h-1.00z"/>
<path fill="#cc9cba" d="M230.00 197.00h1.00v7.60h-1.00z"/>
<path fill="#965a7e" d="M231.00 197.00h1.00v7.60h-1.00z"/>
<path fill="#d2bad8" d="M232.00 197.00h1.00v7.60h-1.00z"/>
<path fill="#fff6ff" d="M233.00 197.00h1.00v7.60h-1.00z"/>
<path fill="#ffd8d8" d="M234.00 197.00h1.00v7.60h-1.00z"/>
<path fill="#e4a2a8" d="M235.00 197.00h1.00v7.60h-1.00zM277.00 197.00h1.00v7.60h-1.00z"/>
<path fill="#b48aa2" d="M237.00 197.00h1.00v7.60h-1.00z"/>
<path fill="#eac6d8" d="M238.00 197.00h1.00v7.60h-1.00z"/>
<path fill="#d8b4c0" d="M239.00 197.00h1.00v7.60h-1.00z"/>
<path fill="#c6b4cc" d="M240.00 197.00h1.00v7.60h-1.00z"/>
<path fill="#e4d2e4" d="M241.00 197.00h1.00v7.60h-1.00z"/>
<path fill="#fca2a8" d="M242.00 197.00h1.00v7.60h-1.00z"/>
<path fill="#cc3c36" d="M243.00 197.00h1.00v7.60h-1.00z"/>
<path fill="#ff9690" d="M244.00 197.00h1.00v7.60h-1.00z"/>
<path fill="#e4847e" d="M245.00 197.00h1.00v7.60h-1.00z"/>
<path fill="#f0b4c0" d="M246.00 197.00h1.00v7.60h-1.00z"/>
<path fill="#c0bae4" d="M247.00 197.00h1.00v7.60h-1.00z"/>
<path fill="#786096" d="M248.00 197.00h1.00v7.60h-1.00zM388.00 197.00h1.00v7.60h-1.00z"/>
<path fill="#cc7e96" d="M249.00 197.00h1.00v7.60h-1.00z"/>
<path fill="#e496a2" d="M250.00 197.00h1.00v7.60h-1.00z"/>
<path fill="#c0a8c6" d="M252.00 197.00h1.00v7.60h-1.00z"/>
<path fill="#969cd2" d="M254.00 197.00h1.00v7.60h-1.00z"/>
<path fill="#8a84ba" d="M255.00 197.00h1.00v7.60h-1.00z"/>
<path fill="#e4a2ba" d="M258.00 197.00h1.00v7.60h-1.00z"/>
<path fill="#84487e" d="M259.00 197.00h1.00v7.60h-1.00z"/>
<path fill="#8a4e7e" d="M260.00 197.00h1.00v7.60h-1.00z"/>
<path fill="#d890a2" d="M261.00 197.00h1.00v7.60h-1.00z"/>
<path fill="#fca8a8" d="M262.00 197.00h1.00v7.60h-1.00z"/>
<path fill="#eaa2a8" d="M263.00 197.00h1.00v7.60h-1.00z"/>
<path fill="#ba8a9c" d="M264.00 197.00h1.00v7.60h-1.00z"/>
<path fill="#f0bac6" d="M265.00 197.00h1.00v7.60h-1.00z"/>
<path fill="#f6baba" d="M266.00 197.00h1.00v7.60h-1.00z"/>
<path fill="#f6ccde" d="M267.00 197.00h1.00v7.60h-1.00z"/>
<path fill="#a890a8" d="M268.00 197.00h1.00v7.60h-1.00z"/>
<path fill="#fca2ae" d="M269.00 197.00h1.00v7.60h-1.00z"/>
<path fill="#d2423c" d="M270.00 197.00h1.00v7.60h-1.00z"/>
<path fill="#ff8a8a" d="M271.00 197.00h1.00v7.60h-1.00z"/>
<path fill="#f0847e" d="M272.00 197.00h1.00v7.60h-1.00z"/>
<path fill="#f6a29c" d="M273.00 197.00h1.00v7.60h-1.00z"/>
<path fill="#ffd2cc" d="M274.00 197.00h1.00v7.60h-1.00zM363.00 197.00h1.00v7.60h-1.00z"/>
<path fill="#d87878" d="M275.00 197.00h1.00v7.60h-1.00z"/>
<path fill="#de848a" d="M276.00 197.00h1.00v7.60h-1.00z"/>
<path fill="#ffd8de" d="M278.00 197.00h1.00v7.60h-1.00z"/>
<path fill="#d8a2b4" d="M279.00 197.00h1.00v7.60h-1.00z"/>
<path fill="#d26066" d="M280.00 197.00h1.00v7.60h-1.00z"/>
<path fill="#d85460" d="M281.00 197.00h1.00v7.60h-1.00z"/>
<path fill="#b46c8a" d="M282.00 197.00h1.00v7.60h-1.00z"/>
<path fill="#ccaec6" d="M283.00 197.00h1.00v7.60h-1.00z"/>
<path fill="#ffeaf0" d="M284.00 197.00h1.00v7.60h-1.00z"/>
<path fill="#ffdede" d="M285.00 197.00h1.00v7.60h-1.00zM402.00 197.00h1.00v7.60h-1.00z"/>
<path fill="#eac6de" d="M286.00 197.00h1.00v7.60h-1.00z"/>
<path fill="#5a4e90" d="M287.00 197.00h1.00v7.60h-1.00z"/>
<path fill="#a28ac0" d="M288.00 197.00h1.00v7.60h-1.00z"/>
<path fill="#e4bacc" d="M289.00 197.00h1.00v7.60h-1.00z"/>
<path fill="#eac0c6" d="M290.00 197.00h1.00v7.60h-1.00zM403.00 197.00h1.00v7.60h-1.00z"/>
<path fill="#ffe4de" d="M293.00 197.00h1.00v7.60h-1.00z"/>
<path fill="#eabac0" d="M294.00 197.00h1.00v7.60h-1.00z"/>
<path fill="#fcc6d2" d="M295.00 197.00h1.00v7.60h-1.00z"/>
<path fill="#cc7e84" d="M296.00 197.00h1.00v7.60h-1.00z"/>
<path fill="#ffbac6" d="M297.00 197.00h1.00v7.60h-1.00z"/>
<path fill="#7e4878" d="M298.00 197.00h1.00v7.60h-1.00z"/>
<path fill="#7e66a8" d="M299.00 197.00h1.00v7.60h-1.00z"/>
<path fill="#b48aae" d="M300.00 197.00h1.00v7.60h-1.00z"/>
<path fill="#d28a9c" d="M301.00 197.00h1.00v7.60h-1.00z"/>
<path fill="#c096ba" d="M302.00 197.00h1.00v7.60h-1.00z"/>
<path fill="#9684ba" d="M303.00 197.00h1.00v7.60h-1.00z"/>
<path fill="#9684c0" d="M304.00 197.00h1.00v7.60h-1.00z"/>
<path fill="#b4baea" d="M306.00 197.00h1.00v7.60h-1.00z"/>
<path fill="#e4eaff" d="M307.00 197.00h1.00v7.60h-1.00z"/>
<path fill="#9696ba" d="M308.00 197.00h1.00v7.60h-1.00z"/>
<path fill="#f6d8f0" d="M309.00 197.00h1.00v7.60h-1.00z"/>
<path fill="#c6788a" d="M310.00 197.00h1.00v7.60h-1.00z"/>
<path fill="#ba5a6c" d="M311.00 197.00h1.00v7.60h-1.00z"/>
<path fill="#ffbac0" d="M312.00 197.00h1.00v7.60h-1.00z"/>
<path fill="#de7272" d="M313.00 197.00h1.00v7.60h-1.00z"/>
<path fill="#f6a2a8" d="M314.00 197.00h1.00v7.60h-1.00z"/>
<path fill="#a27ea2" d="M315.00 197.00h1.00v7.60h-1.00z"/>
<path fill="#f0cce4" d="M316.00 197.00h1.00v7.60h-1.00z"/>
<path fill="#e4aeae" d="M317.00 197.00h1.00v7.60h-1.00z"/>
<path fill="#ffc6c0" d="M318.00 197.00h1.00v7.60h-1.00z"/>
<path fill="#d24842" d="M319.00 197.00h1.00v7.60h-1.00z"/>
<path fill="#ff6c66" d="M320.00 197.00h1.00v7.60h-1.00z"/>
<path fill="#e47878" d="M321.00 197.00h1.00v7.60h-1.00z"/>
<path fill="#f6a8b4" d="M322.00 197.00h1.00v7.60h-1.00z"/>
<path fill="#ffa29c" d="M324.00 197.00h1.00v7.60h-1.00zM381.00 197.00h1.00v7.60h-1.00z"/>
<path fill="#c65a60" d="M325.00 197.00h1.00v7.60h-1.00z"/>
<path fill="#c67284" d="M326.00 197.00h1.00v7.60h-1.00z"/>
<path fill="#ffa2a8" d="M327.00 197.00h1.00v7.60h-1.00z"/>
<path fill="#d26060" d="M328.00 197.00h1.00v7.60h-1.00z"/>
<path fill="#e48a96" d="M329.00 197.00h1.00v7.60h-1.00z"/>
<path fill="#d2909c" d="M330.00 197.00h1.00v7.60h-1.00z"/>
<path fill="#f0c6d8" d="M331.00 197.00h1.00v7.60h-1.00z"/>
<path fill="#b4a2b4" d="M332.00 197.00h1.00v7.60h-1.00z"/>
<path fill="#ea7e7e" d="M334.00 197.00h1.00v7.60h-1.00z"/>
<path fill="#f06c66" d="M335.00 197.00h1.00v7.60h-1.00z"/>
<path fill="#e47e78" d="M336.00 197.00h1.00v7.60h-1.00z"/>
<path fill="#ffdee4" d="M337.00 197.00h1.00v7.60h-1.00z"/>
<path fill="#d8c6d2" d="M338.00 197.00h1.00v7.60h-1.00z"/>
<path fill="#f0ccde" d="M339.00 197.00h1.00v7.60h-1.00z"/>
<path fill="#ae96ae" d="M340.00 197.00h1.00v7.60h-1.00z"/>
<path fill="#d8d2f0" d="M341.00 197.00h1.00v7.60h-1.00z"/>
<path fill="#ccc0d8" d="M343.00 197.00h1.00v7.60h-1.00z"/>
<path fill="#fceaf6" d="M344.00 197.00h1.00v7.60h-1.00z"/>
<path fill="#b4a8cc" d="M345.00 197.00h1.00v7.60h-1.00z"/>
<path fill="#7e78a8" d="M346.00 197.00h1.00v7.60h-1.00z"/>
<path fill="#eae4fc" d="M347.00 197.00h1.00v7.60h-1.00z"/>
<path fill="#8a7eae" d="M349.00 197.00h1.00v7.60h-1.00z"/>
<path fill="#e4bad2" d="M350.00 197.00h1.00v7.60h-1.00z"/>
<path fill="#f6b4c0" d="M352.00 197.00h1.00v7.60h-1.00z"/>
<path fill="#a88aa8" d="M353.00 197.00h1.00v7.60h-1.00z"/>
<path fill="#f0c6e4" d="M354.00 197.00h1.00v7.60h-1.00z"/>
<path fill="#96668a" d="M355.00 197.00h1.00v7.60h-1.00z"/>
<path fill="#d29cba" d="M356.00 197.00h1.00v7.60h-1.00z"/>
<path fill="#e47278" d="M357.00 197.00h1.00v7.60h-1.00z"/>
<path fill="#d23c3c" d="M358.00 197.00h1.00v7.60h-1.00z"/>
<path fill="#ea848a" d="M359.00 197.00h1.00v7.60h-1.00z"/>
<path fill="#ff9696" d="M360.00 197.00h1.00v7.60h-1.00z"/>
<path fill="#d8423c" d="M361.00 197.00h1.00v7.60h-1.00z"/>
<path fill="#f07872" d="M362.00 197.00h1.00v7.60h-1.00z"/>
<path fill="#de847e" d="M364.00 197.00h1.00v7.60h-1.00z"/>
<path fill="#ffa8a2" d="M365.00 197.00h1.00v7.60h-1.00zM385.00 197.00h1.00v7.60h-1.00z"/>
<path fill="#e4a29c" d="M366.00 197.00h1.00v7.60h-1.00z"/>
<path fill="#f6aea8" d="M368.00 197.00h1.00v7.60h-1.00z"/>
<path fill="#cc6c78" d="M369.00 197.00h1.00v7.60h-1.00z"/>
<path fill="#a884a8" d="M370.00 197.00h1.00v7.60h-1.00z"/>
<path fill="#e4deff" d="M371.00 197.00h1.00v7.60h-1.00z"/>
<path fill="#a890b4" d="M372.00 197.00h1.00v7.60h-1.00z"/>
<path fill="#e4c0cc" d="M373.00 197.00h1.00v7.60h-1.00z"/>
<path fill="#ffe4f0" d="M374.00 197.00h1.00v7.60h-1.00z"/>
<path fill="#c0c0ea" d="M375.00 197.00h1.00v7.60h-1.00z"/>
<path fill="#666ca2" d="M376.00 197.00h1.00v7.60h-1.00z"/>
<path fill="#f0f6ff" d="M377.00 197.00h1.00v7.60h-1.00z"/>
<path fill="#f0f0ff" d="M378.00 197.00h1.00v7.60h-1.00z"/>
<path fill="#a28aa8" d="M379.00 197.00h1.00v7.60h-1.00z"/>
<path fill="#e49ca8" d="M380.00 197.00h1.00v7.60h-1.00z"/>
<path fill="#e4544e" d="M382.00 197.00h1.00v7.60h-1.00z"/>
<path fill="#e45a54" d="M383.00 197.00h1.00v7.60h-1.00z"/>
<path fill="#ffbaba" d="M384.00 197.00h1.00v7.60h-1.00z"/>
<path fill="#c0606c" d="M386.00 197.00h1.00v7.60h-1.00z"/>
<path fill="#d2aed8" d="M387.00 197.00h1.00v7.60h-1.00z"/>
<path fill="#b47e9c" d="M389.00 197.00h1.00v7.60h-1.00z"/>
<path fill="#fcdee4" d="M391.00 197.00h1.00v7.60h-1.00z"/>
<path fill="#ffccc6" d="M392.00 197.00h1.00v7.60h-1.00z"/>
<path fill="#d87e84" d="M393.00 197.00h1.00v7.60h-1.00z"/>
<path fill="#a2608a" d="M394.00 197.00h1.00v7.60h-1.00z"/>
<path fill="#784284" d="M395.00 197.00h1.00v7.60h-1.00z"/>
<path fill="#a24872" d="M396.00 197.00h1.00v7.60h-1.00z"/>
<path fill="#a84860" d="M397.00 197.00h1.00v7.60h-1.00z"/>
<path fill="#deb4de" d="M398.00 197.00h1.00v7.60h-1.00z"/>
<path fill="#6660a8" d="M399.00 197.00h1.00v7.60h-1.00z"/>
<path fill="#9078b4" d="M400.00 197.00h1.00v7.60h-1.00z"/>
<path fill="#ae6c7e" d="M401.00 197.00h1.00v7.60h-1.00z"/>
<path fill="#c0aec6" d="M404.00 197.00h1.00v7.60h-1.00z"/>
<path fill="#ccccf0" d="M405.00 197.00h1.00v7.60h-1.00z"/>
<path fill="#a8a2c6" d="M406.00 197.00h1.00v7.60h-1.00z"/>
<path fill="#ccb4cc" d="M407.00 197.00h1.00v7.60h-1.00z"/>
<path fill="#f6d2de" d="M408.00 197.00h1.00v7.60h-1.00z"/>
<path fill="#c096a8" d="M409.00 197.00h1.00v7.60h-1.00z"/>
<path fill="#c09cba" d="M410.00 197.00h1.00v7.60h-1.00z"/>
<path fill="#baaed8" d="M411.00 197.00h0.10v7.60h-0.10z"/>
<rect x="82.5" y="188.8" width="329.2" height="16.399999999999977" fill="none" stroke="#1a1a1a" stroke-width="1.1"/>
<text x="63.6" y="29.9" font-size="5.6" font-weight="bold" fill="#262626" text-anchor="middle"  stroke="#262626" stroke-width="0.16">PD-1</text>
<text x="63.6" y="38.3" font-size="5.6" font-weight="bold" fill="#262626" text-anchor="middle"  stroke="#262626" stroke-width="0.16">PD-L1</text>
<text x="63.6" y="47" font-size="5.6" font-weight="bold" fill="#262626" text-anchor="middle"  stroke="#262626" stroke-width="0.16">PD-L2</text>
<text x="63.6" y="60" font-size="5.6" font-weight="bold" fill="#262626" text-anchor="middle"  stroke="#262626" stroke-width="0.16">CTLA4</text>
<text x="63.6" y="69.6" font-size="5.6" font-weight="bold" fill="#262626" text-anchor="middle"  stroke="#262626" stroke-width="0.16">B7-1</text>
<text x="63.6" y="79.7" font-size="5.6" font-weight="bold" fill="#262626" text-anchor="middle"  stroke="#262626" stroke-width="0.16">B7-2</text>
<text x="63.6" y="91.0" font-size="5.6" font-weight="bold" fill="#262626" text-anchor="middle"  stroke="#262626" stroke-width="0.16">TIM-3</text>
<text x="63.6" y="99" font-size="5.6" font-weight="bold" fill="#262626" text-anchor="middle"  stroke="#262626" stroke-width="0.16">Galectin-9</text>
<text x="64.3" y="132.9" font-size="5.6" font-weight="bold" fill="#262626" text-anchor="middle"  stroke="#262626" stroke-width="0.16">PD-1</text>
<text x="64.3" y="140.7" font-size="5.6" font-weight="bold" fill="#262626" text-anchor="middle"  stroke="#262626" stroke-width="0.16">PD-L1</text>
<text x="64.3" y="149.7" font-size="5.6" font-weight="bold" fill="#262626" text-anchor="middle"  stroke="#262626" stroke-width="0.16">PD-L2</text>
<text x="64.3" y="163.0" font-size="5.6" font-weight="bold" fill="#262626" text-anchor="middle"  stroke="#262626" stroke-width="0.16">CTLA4</text>
<text x="64.3" y="172.1" font-size="5.6" font-weight="bold" fill="#262626" text-anchor="middle"  stroke="#262626" stroke-width="0.16">B7-1</text>
<text x="64.3" y="182.4" font-size="5.6" font-weight="bold" fill="#262626" text-anchor="middle"  stroke="#262626" stroke-width="0.16">B7-2</text>
<text x="64.3" y="193.8" font-size="5.6" font-weight="bold" fill="#262626" text-anchor="middle"  stroke="#262626" stroke-width="0.16">TIM-3</text>
<text x="64.3" y="202.3" font-size="5.6" font-weight="bold" fill="#262626" text-anchor="middle"  stroke="#262626" stroke-width="0.16">Galectin-9</text>
<rect x="17.4" y="23.2" width="25.3" height="79.5" fill="none" stroke="#1a1a1a" stroke-width="1"/>
<rect x="16.9" y="125.7" width="26" height="80" fill="none" stroke="#1a1a1a" stroke-width="1"/>
<text transform="translate(27.4,62) rotate(-90)" font-size="7" font-weight="bold" fill="#222" text-anchor="middle" stroke="#222" stroke-width="0.16">LUSC samples</text>
<text transform="translate(35.8,63.7) rotate(-90)" font-size="7" font-weight="bold" fill="#222" text-anchor="middle" stroke="#222" stroke-width="0.16">(<tspan font-style="italic">n</tspan> = 101)</text>
<text transform="translate(26.5,163.8) rotate(-90)" font-size="6.75" font-weight="bold" fill="#222" text-anchor="middle" stroke="#222" stroke-width="0.16">TCGA LUSC cohort</text>
<text transform="translate(33.9,163.7) rotate(-90)" font-size="6.9" font-weight="bold" fill="#222" text-anchor="middle" stroke="#222" stroke-width="0.16">(<tspan font-style="italic">n</tspan> = 431)</text>
<text x="430" y="11.6" font-size="5.6" font-weight="bold" fill="#333" text-anchor="middle" stroke="#333" stroke-width="0.16"><tspan font-style="italic">P</tspan> value</text>
<text x="430" y="18.2" font-size="5.6" font-weight="bold" fill="#333" text-anchor="middle" stroke="#333" stroke-width="0.16">(A vs. B)</text>
<text x="418" y="30.4" font-size="5.4" font-weight="bold" fill="#1e1e1e" stroke="#1e1e1e" stroke-width="0.16">1.58x10<tspan font-size="3.4" dy="-2.2">-08</tspan></text>
<text x="418" y="38.4" font-size="5.4" font-weight="bold" fill="#1e1e1e" stroke="#1e1e1e" stroke-width="0.16">9.48x10<tspan font-size="3.4" dy="-2.2">-03</tspan></text>
<text x="418" y="62.5" font-size="5.4" font-weight="bold" fill="#1e1e1e" stroke="#1e1e1e" stroke-width="0.16">1.14x10<tspan font-size="3.4" dy="-2.2">-08</tspan></text>
<text x="418" y="71.3" font-size="5.4" font-weight="bold" fill="#1e1e1e" stroke="#1e1e1e" stroke-width="0.16">1.17x10<tspan font-size="3.4" dy="-2.2">-03</tspan></text>
<text x="418" y="78.8" font-size="5.4" font-weight="bold" fill="#1e1e1e" stroke="#1e1e1e" stroke-width="0.16">7.46x10<tspan font-size="3.4" dy="-2.2">-07</tspan></text>
<text x="418" y="91.6" font-size="5.4" font-weight="bold" fill="#1e1e1e" stroke="#1e1e1e" stroke-width="0.16">7.31x10<tspan font-size="3.4" dy="-2.2">-08</tspan></text>
<text x="418" y="99.6" font-size="5.4" font-weight="bold" fill="#1e1e1e" stroke="#1e1e1e" stroke-width="0.16">1.33x10<tspan font-size="3.4" dy="-2.2">-04</tspan></text>
<text x="418" y="130.4" font-size="5.4" font-weight="bold" fill="#1e1e1e" stroke="#1e1e1e" stroke-width="0.16">8.99x10<tspan font-size="3.4" dy="-2.2">-08</tspan></text>
<text x="418" y="139.9" font-size="5.4" font-weight="bold" fill="#1e1e1e" stroke="#1e1e1e" stroke-width="0.16">3.38x10<tspan font-size="3.4" dy="-2.2">-10</tspan></text>
<text x="418" y="149.5" font-size="5.4" font-weight="bold" fill="#1e1e1e" stroke="#1e1e1e" stroke-width="0.16">5.97x10<tspan font-size="3.4" dy="-2.2">-09</tspan></text>
<text x="418" y="162.6" font-size="5.4" font-weight="bold" fill="#1e1e1e" stroke="#1e1e1e" stroke-width="0.16">6.26x10<tspan font-size="3.4" dy="-2.2">-08</tspan></text>
<text x="418" y="170.7" font-size="5.4" font-weight="bold" fill="#1e1e1e" stroke="#1e1e1e" stroke-width="0.16">3.56x10<tspan font-size="3.4" dy="-2.2">-04</tspan></text>
<text x="418" y="179.3" font-size="5.4" font-weight="bold" fill="#1e1e1e" stroke="#1e1e1e" stroke-width="0.16">4.68x10<tspan font-size="3.4" dy="-2.2">-08</tspan></text>
<text x="418" y="194.2" font-size="5.4" font-weight="bold" fill="#1e1e1e" stroke="#1e1e1e" stroke-width="0.16">4.66x10<tspan font-size="3.4" dy="-2.2">-03</tspan></text>
<text x="418" y="203.8" font-size="5.4" font-weight="bold" fill="#1e1e1e" stroke="#1e1e1e" stroke-width="0.16">1.38x10<tspan font-size="3.4" dy="-2.2">-08</tspan></text>
<text x="427.8" y="46.6" font-size="5.4" font-weight="bold" fill="#1e1e1e" text-anchor="middle" stroke="#1e1e1e" stroke-width="0.16">0.168</text>
<text x="456.6" y="37.099999999999994" font-size="7.6" font-weight="bold" fill="#1a1a1a" letter-spacing="0.3" stroke="#1a1a1a" stroke-width="0.16">PD-1</text>
<text x="488.3" y="37.099999999999994" font-size="7.6" font-weight="bold" fill="#1a1a1a" letter-spacing="0.3" stroke="#1a1a1a" stroke-width="0.16">PD-L1</text>
<path d="M478.1,34.9 L484.8,34.9 M479.40000000000003,33.8 L478.0,34.9 L479.40000000000003,36.0 M483.5,33.8 L484.90000000000003,34.9 L483.5,36.0" fill="none" stroke="#8a8a8a" stroke-width="0.75"/>
<text x="456.6" y="140.0" font-size="7.6" font-weight="bold" fill="#1a1a1a" letter-spacing="0.3" stroke="#1a1a1a" stroke-width="0.16">PD-1</text>
<text x="488.3" y="140.0" font-size="7.6" font-weight="bold" fill="#1a1a1a" letter-spacing="0.3" stroke="#1a1a1a" stroke-width="0.16">PD-L1</text>
<path d="M478.1,137.79999999999998 L484.8,137.79999999999998 M479.40000000000003,136.7 L478.0,137.79999999999998 L479.40000000000003,138.89999999999998 M483.5,136.7 L484.90000000000003,137.79999999999998 L483.5,138.89999999999998" fill="none" stroke="#8a8a8a" stroke-width="0.75"/>
<text x="447.9" y="66.0" font-size="7.6" font-weight="bold" fill="#1a1a1a" letter-spacing="0.3" stroke="#1a1a1a" stroke-width="0.16">CTLA4</text>
<text x="486.8" y="66.0" font-size="7.6" font-weight="bold" fill="#1a1a1a" letter-spacing="0.3" stroke="#1a1a1a" stroke-width="0.16">B7-1 &amp;2</text>
<path d="M476.3,63.800000000000004 L483.7,63.800000000000004 M477.6,62.7 L476.2,63.800000000000004 L477.6,64.9 M482.4,62.7 L483.8,63.800000000000004 L482.4,64.9" fill="none" stroke="#8a8a8a" stroke-width="0.75"/>
<text x="447.9" y="169.8" font-size="7.6" font-weight="bold" fill="#1a1a1a" letter-spacing="0.3" stroke="#1a1a1a" stroke-width="0.16">CTLA4</text>
<text x="486.8" y="169.8" font-size="7.6" font-weight="bold" fill="#1a1a1a" letter-spacing="0.3" stroke="#1a1a1a" stroke-width="0.16">B7-1 &amp;2</text>
<path d="M476.3,167.6 L483.7,167.6 M477.6,166.5 L476.2,167.6 L477.6,168.7 M482.4,166.5 L483.8,167.6 L482.4,168.7" fill="none" stroke="#8a8a8a" stroke-width="0.75"/>
<text x="447.9" y="95.39999999999999" font-size="7.6" font-weight="bold" fill="#1a1a1a" letter-spacing="0.3" stroke="#1a1a1a" stroke-width="0.16">TIM-3</text>
<text x="481.1" y="95.39999999999999" font-size="7.6" font-weight="bold" fill="#1a1a1a" letter-spacing="0.3" stroke="#1a1a1a" stroke-width="0.16">Galectin-9</text>
<path d="M471.0,93.19999999999999 L478.59999999999997,93.19999999999999 M472.3,92.1 L470.9,93.19999999999999 L472.3,94.29999999999998 M477.29999999999995,92.1 L478.7,93.19999999999999 L477.29999999999995,94.29999999999998" fill="none" stroke="#8a8a8a" stroke-width="0.75"/>
<text x="447.9" y="198.60000000000002" font-size="7.6" font-weight="bold" fill="#1a1a1a" letter-spacing="0.3" stroke="#1a1a1a" stroke-width="0.16">TIM-3</text>
<text x="481.1" y="198.60000000000002" font-size="7.6" font-weight="bold" fill="#1a1a1a" letter-spacing="0.3" stroke="#1a1a1a" stroke-width="0.16">Galectin-9</text>
<path d="M471.0,196.4 L478.59999999999997,196.4 M472.3,195.3 L470.9,196.4 L472.3,197.5 M477.29999999999995,195.3 L478.7,196.4 L477.29999999999995,197.5" fill="none" stroke="#8a8a8a" stroke-width="0.75"/>
<rect x="338.3" y="210.6" width="74.6" height="25.9" fill="#fff" stroke="#1a1a1a" stroke-width="1"/>
<text x="375.3" y="219" font-size="5.6" font-weight="bold" fill="#333" text-anchor="middle" stroke="#333" stroke-width="0.16">Log<tspan font-size="3.6" dy="1.5">2</tspan><tspan dy="-1.5"> FPKM</tspan></text>
<defs><linearGradient id="lg" x1="0" x2="1" y1="0" y2="0"><stop offset="0" stop-color="#3a46b0"/><stop offset="0.2" stop-color="#5a64bc"/><stop offset="0.42" stop-color="#c4c8ea"/><stop offset="0.5" stop-color="#ffffff"/><stop offset="0.58" stop-color="#f8c4c2"/><stop offset="0.8" stop-color="#f26660"/><stop offset="1" stop-color="#ee2a22"/></linearGradient></defs>
<rect x="353" y="222" width="45.8" height="6.5" fill="url(#lg)"/>
<text x="345" y="227.2" font-size="5.6" font-weight="bold" fill="#222" text-anchor="middle" stroke="#222" stroke-width="0.16">-2</text>
<text x="406.3" y="227.2" font-size="5.6" font-weight="bold" fill="#222" text-anchor="middle" stroke="#222" stroke-width="0.16">2</text>
<text x="0.2" y="273.5" font-size="14" font-weight="bold" fill="#111" stroke="#111" stroke-width="0.16">B</text>
<line x1="45.5" x2="370.3" y1="471.44" y2="471.44" stroke="#f9f9f9" stroke-width="0.6"/>
<line x1="45.5" x2="370.3" y1="432.06" y2="432.06" stroke="#f9f9f9" stroke-width="0.6"/>
<line x1="45.5" x2="370.3" y1="392.69" y2="392.69" stroke="#f9f9f9" stroke-width="0.6"/>
<line x1="45.5" x2="370.3" y1="353.31" y2="353.31" stroke="#f9f9f9" stroke-width="0.6"/>
<line x1="45.5" x2="370.3" y1="313.94" y2="313.94" stroke="#f9f9f9" stroke-width="0.6"/>
<line x1="45.5" x2="370.3" y1="451.75" y2="451.75" stroke="#f5f5f5" stroke-width="0.9"/>
<line x1="45.5" x2="370.3" y1="412.38" y2="412.38" stroke="#f5f5f5" stroke-width="0.9"/>
<line x1="45.5" x2="370.3" y1="373.00" y2="373.00" stroke="#f5f5f5" stroke-width="0.9"/>
<line x1="45.5" x2="370.3" y1="333.62" y2="333.62" stroke="#f5f5f5" stroke-width="0.9"/>
<line x1="45.5" x2="370.3" y1="294.25" y2="294.25" stroke="#f5f5f5" stroke-width="0.9"/>
<line x1="69.25" x2="69.25" y1="277.7" y2="488.0" stroke="#f5f5f5" stroke-width="0.9"/>
<line x1="108.85" x2="108.85" y1="277.7" y2="488.0" stroke="#f5f5f5" stroke-width="0.9"/>
<line x1="148.45" x2="148.45" y1="277.7" y2="488.0" stroke="#f5f5f5" stroke-width="0.9"/>
<line x1="188.05" x2="188.05" y1="277.7" y2="488.0" stroke="#f5f5f5" stroke-width="0.9"/>
<line x1="227.65" x2="227.65" y1="277.7" y2="488.0" stroke="#f5f5f5" stroke-width="0.9"/>
<line x1="267.25" x2="267.25" y1="277.7" y2="488.0" stroke="#f5f5f5" stroke-width="0.9"/>
<line x1="306.85" x2="306.85" y1="277.7" y2="488.0" stroke="#f5f5f5" stroke-width="0.9"/>
<line x1="346.45" x2="346.45" y1="277.7" y2="488.0" stroke="#f5f5f5" stroke-width="0.9"/>
<line x1="58.11" x2="58.11" y1="337.2" y2="366.6" stroke="#8a8a8a" stroke-width="0.9"/>
<line x1="58.11" x2="58.11" y1="392.5" y2="429.7" stroke="#8a8a8a" stroke-width="0.9"/>
<polygon points="54.31,366.60 54.31,368.99 56.21,373.50 54.31,378.01 54.31,392.50 61.91,392.50 61.91,378.01 60.01,373.50 61.91,368.99 61.91,366.60" fill="#ee2a1c" stroke="#a81a10" stroke-width="0.8" stroke-linejoin="round"/>
<line x1="56.21" x2="60.01" y1="373.5" y2="373.5" stroke="#a81a10" stroke-width="1"/>
<circle cx="58.11" cy="451.9" r="1.35" fill="#111"/>
<circle cx="58.11" cy="471.2" r="1.35" fill="#111"/>
<line x1="65.54" x2="65.54" y1="340.2" y2="347.1" stroke="#8a8a8a" stroke-width="0.9"/>
<line x1="65.54" x2="65.54" y1="360.4" y2="371.3" stroke="#8a8a8a" stroke-width="0.9"/>
<polygon points="61.74,347.10 61.74,348.09 63.64,352.90 61.74,357.71 61.74,360.40 69.34,360.40 69.34,357.71 67.44,352.90 69.34,348.09 69.34,347.10" fill="#3a4cb4" stroke="#1e2a80" stroke-width="0.8" stroke-linejoin="round"/>
<line x1="63.64" x2="67.44" y1="352.9" y2="352.9" stroke="#1e2a80" stroke-width="1"/>
<circle cx="65.54" cy="396.7" r="1.35" fill="#111"/>
<line x1="72.96" x2="72.96" y1="340.2" y2="370.3" stroke="#8a8a8a" stroke-width="0.9"/>
<line x1="72.96" x2="72.96" y1="401.8" y2="446.7" stroke="#8a8a8a" stroke-width="0.9"/>
<polygon points="69.16,370.30 69.16,381.69 71.06,386.60 69.16,391.51 69.16,401.80 76.76,401.80 76.76,391.51 74.86,386.60 76.76,381.69 76.76,370.30" fill="#f9ad24" stroke="#b87510" stroke-width="0.8" stroke-linejoin="round"/>
<line x1="71.06" x2="74.86" y1="386.6" y2="386.6" stroke="#b87510" stroke-width="1"/>
<circle cx="72.96" cy="453.7" r="1.35" fill="#111"/>
<line x1="80.39" x2="80.39" y1="317.6" y2="356.3" stroke="#8a8a8a" stroke-width="0.9"/>
<line x1="80.39" x2="80.39" y1="386" y2="425.7" stroke="#8a8a8a" stroke-width="0.9"/>
<polygon points="76.59,356.30 76.59,364.75 78.49,369.50 76.59,374.25 76.59,386.00 84.19,386.00 84.19,374.25 82.29,369.50 84.19,364.75 84.19,356.30" fill="#8d4dc0" stroke="#5a2a88" stroke-width="0.8" stroke-linejoin="round"/>
<line x1="78.49" x2="82.29" y1="369.5" y2="369.5" stroke="#5a2a88" stroke-width="1"/>
<circle cx="80.39" cy="434.4" r="1.35" fill="#111"/>
<circle cx="80.39" cy="437.9" r="1.35" fill="#111"/>
<circle cx="80.39" cy="441.9" r="1.35" fill="#111"/>
<circle cx="80.39" cy="447.2" r="1.35" fill="#111"/>
<circle cx="80.39" cy="463" r="1.35" fill="#111"/>
<circle cx="80.39" cy="478.2" r="1.35" fill="#111"/>
<line x1="97.71" x2="97.71" y1="314.4" y2="353.2" stroke="#8a8a8a" stroke-width="0.9"/>
<line x1="97.71" x2="97.71" y1="384.4" y2="424.8" stroke="#8a8a8a" stroke-width="0.9"/>
<polygon points="93.91,353.20 93.91,368.57 95.81,374.00 93.91,379.43 93.91,384.40 101.51,384.40 101.51,379.43 99.61,374.00 101.51,368.57 101.51,353.20" fill="#ee2a1c" stroke="#a81a10" stroke-width="0.8" stroke-linejoin="round"/>
<line x1="95.81" x2="99.61" y1="374" y2="374" stroke="#a81a10" stroke-width="1"/>
<circle cx="97.71" cy="287.1" r="1.35" fill="#111"/>
<circle cx="97.71" cy="448.9" r="1.35" fill="#111"/>
<line x1="105.14" x2="105.14" y1="359.5" y2="360.8" stroke="#8a8a8a" stroke-width="0.9"/>
<line x1="105.14" x2="105.14" y1="374.4" y2="392" stroke="#8a8a8a" stroke-width="0.9"/>
<polygon points="101.34,360.80 101.34,361.98 103.24,366.90 101.34,371.82 101.34,374.40 108.94,374.40 108.94,371.82 107.04,366.90 108.94,361.98 108.94,360.80" fill="#3a4cb4" stroke="#1e2a80" stroke-width="0.8" stroke-linejoin="round"/>
<line x1="103.24" x2="107.04" y1="366.9" y2="366.9" stroke="#1e2a80" stroke-width="1"/>
<circle cx="105.14" cy="319.8" r="1.35" fill="#111"/>
<circle cx="105.14" cy="323.1" r="1.35" fill="#111"/>
<circle cx="105.14" cy="325.8" r="1.35" fill="#111"/>
<line x1="112.56" x2="112.56" y1="331.4" y2="374.4" stroke="#8a8a8a" stroke-width="0.9"/>
<line x1="112.56" x2="112.56" y1="405.3" y2="437" stroke="#8a8a8a" stroke-width="0.9"/>
<polygon points="108.76,374.40 108.76,380.08 110.66,384.90 108.76,389.72 108.76,405.30 116.36,405.30 116.36,389.72 114.46,384.90 116.36,380.08 116.36,374.40" fill="#f9ad24" stroke="#b87510" stroke-width="0.8" stroke-linejoin="round"/>
<line x1="110.66" x2="114.46" y1="384.9" y2="384.9" stroke="#b87510" stroke-width="1"/>
<circle cx="112.56" cy="317.4" r="1.35" fill="#111"/>
<circle cx="112.56" cy="320.3" r="1.35" fill="#111"/>
<circle cx="112.56" cy="326.4" r="1.35" fill="#111"/>
<circle cx="112.56" cy="328.6" r="1.35" fill="#111"/>
<line x1="119.99" x2="119.99" y1="307.8" y2="349.9" stroke="#8a8a8a" stroke-width="0.9"/>
<line x1="119.99" x2="119.99" y1="382.7" y2="419.3" stroke="#8a8a8a" stroke-width="0.9"/>
<polygon points="116.19,349.90 116.19,364.55 118.09,369.80 116.19,375.05 116.19,382.70 123.79,382.70 123.79,375.05 121.89,369.80 123.79,364.55 123.79,349.90" fill="#8d4dc0" stroke="#5a2a88" stroke-width="0.8" stroke-linejoin="round"/>
<line x1="118.09" x2="121.89" y1="369.8" y2="369.8" stroke="#5a2a88" stroke-width="1"/>
<line x1="137.31" x2="137.31" y1="323.9" y2="356.9" stroke="#8a8a8a" stroke-width="0.9"/>
<line x1="137.31" x2="137.31" y1="387" y2="423.6" stroke="#8a8a8a" stroke-width="0.9"/>
<polygon points="133.51,356.90 133.51,367.76 135.41,373.00 133.51,378.24 133.51,387.00 141.11,387.00 141.11,378.24 139.21,373.00 141.11,367.76 141.11,356.90" fill="#ee2a1c" stroke="#a81a10" stroke-width="0.8" stroke-linejoin="round"/>
<line x1="135.41" x2="139.21" y1="373" y2="373" stroke="#a81a10" stroke-width="1"/>
<line x1="144.74" x2="144.74" y1="345.4" y2="358.8" stroke="#8a8a8a" stroke-width="0.9"/>
<line x1="144.74" x2="144.74" y1="374.4" y2="392.6" stroke="#8a8a8a" stroke-width="0.9"/>
<polygon points="140.94,358.80 140.94,360.35 142.84,366.00 140.94,371.65 140.94,374.40 148.54,374.40 148.54,371.65 146.64,366.00 148.54,360.35 148.54,358.80" fill="#3a4cb4" stroke="#1e2a80" stroke-width="0.8" stroke-linejoin="round"/>
<line x1="142.84" x2="146.64" y1="366" y2="366" stroke="#1e2a80" stroke-width="1"/>
<circle cx="144.74" cy="308.6" r="1.35" fill="#111"/>
<line x1="152.16" x2="152.16" y1="327.4" y2="369.5" stroke="#8a8a8a" stroke-width="0.9"/>
<line x1="152.16" x2="152.16" y1="401.2" y2="435.6" stroke="#8a8a8a" stroke-width="0.9"/>
<polygon points="148.36,369.50 148.36,382.05 150.26,387.00 148.36,391.95 148.36,401.20 155.96,401.20 155.96,391.95 154.06,387.00 155.96,382.05 155.96,369.50" fill="#f9ad24" stroke="#b87510" stroke-width="0.8" stroke-linejoin="round"/>
<line x1="150.26" x2="154.06" y1="387" y2="387" stroke="#b87510" stroke-width="1"/>
<circle cx="152.16" cy="460.7" r="1.35" fill="#111"/>
<line x1="159.59" x2="159.59" y1="322.1" y2="355.1" stroke="#8a8a8a" stroke-width="0.9"/>
<line x1="159.59" x2="159.59" y1="381.4" y2="419.5" stroke="#8a8a8a" stroke-width="0.9"/>
<polygon points="155.79,355.10 155.79,365.00 157.69,369.50 155.79,374.00 155.79,381.40 163.39,381.40 163.39,374.00 161.49,369.50 163.39,365.00 163.39,355.10" fill="#8d4dc0" stroke="#5a2a88" stroke-width="0.8" stroke-linejoin="round"/>
<line x1="157.69" x2="161.49" y1="369.5" y2="369.5" stroke="#5a2a88" stroke-width="1"/>
<circle cx="159.59" cy="296.9" r="1.35" fill="#111"/>
<circle cx="159.59" cy="305.7" r="1.35" fill="#111"/>
<circle cx="159.59" cy="422.3" r="1.35" fill="#111"/>
<line x1="176.91" x2="176.91" y1="337.5" y2="367.4" stroke="#8a8a8a" stroke-width="0.9"/>
<line x1="176.91" x2="176.91" y1="387" y2="413.2" stroke="#8a8a8a" stroke-width="0.9"/>
<polygon points="173.11,367.40 173.11,373.09 175.01,376.50 173.11,379.91 173.11,387.00 180.71,387.00 180.71,379.91 178.81,376.50 180.71,373.09 180.71,367.40" fill="#ee2a1c" stroke="#a81a10" stroke-width="0.8" stroke-linejoin="round"/>
<line x1="175.01" x2="178.81" y1="376.5" y2="376.5" stroke="#a81a10" stroke-width="1"/>
<circle cx="176.91" cy="420.3" r="1.35" fill="#111"/>
<circle cx="176.91" cy="425.6" r="1.35" fill="#111"/>
<circle cx="176.91" cy="437" r="1.35" fill="#111"/>
<circle cx="176.91" cy="443.7" r="1.35" fill="#111"/>
<line x1="184.34" x2="184.34" y1="343.1" y2="349.9" stroke="#8a8a8a" stroke-width="0.9"/>
<line x1="184.34" x2="184.34" y1="363.4" y2="377.4" stroke="#8a8a8a" stroke-width="0.9"/>
<polygon points="180.54,349.90 180.54,354.11 182.44,359.00 180.54,363.89 180.54,363.40 188.14,363.40 188.14,363.89 186.24,359.00 188.14,354.11 188.14,349.90" fill="#3a4cb4" stroke="#1e2a80" stroke-width="0.8" stroke-linejoin="round"/>
<line x1="182.44" x2="186.24" y1="359" y2="359" stroke="#1e2a80" stroke-width="1"/>
<circle cx="184.34" cy="327.9" r="1.35" fill="#111"/>
<circle cx="184.34" cy="389.7" r="1.35" fill="#111"/>
<circle cx="184.34" cy="396.7" r="1.35" fill="#111"/>
<line x1="191.76" x2="191.76" y1="342.8" y2="370.9" stroke="#8a8a8a" stroke-width="0.9"/>
<line x1="191.76" x2="191.76" y1="395.4" y2="428.2" stroke="#8a8a8a" stroke-width="0.9"/>
<polygon points="187.96,370.90 187.96,377.98 189.86,381.80 187.96,385.62 187.96,395.40 195.56,395.40 195.56,385.62 193.66,381.80 195.56,377.98 195.56,370.90" fill="#f9ad24" stroke="#b87510" stroke-width="0.8" stroke-linejoin="round"/>
<line x1="189.86" x2="193.66" y1="381.8" y2="381.8" stroke="#b87510" stroke-width="1"/>
<circle cx="191.76" cy="309.9" r="1.35" fill="#111"/>
<circle cx="191.76" cy="331.4" r="1.35" fill="#111"/>
<circle cx="191.76" cy="333.2" r="1.35" fill="#111"/>
<circle cx="191.76" cy="432" r="1.35" fill="#111"/>
<line x1="199.19" x2="199.19" y1="316.5" y2="354.1" stroke="#8a8a8a" stroke-width="0.9"/>
<line x1="199.19" x2="199.19" y1="382.1" y2="422.5" stroke="#8a8a8a" stroke-width="0.9"/>
<polygon points="195.39,354.10 195.39,366.80 197.29,371.30 195.39,375.80 195.39,382.10 202.99,382.10 202.99,375.80 201.09,371.30 202.99,366.80 202.99,354.10" fill="#8d4dc0" stroke="#5a2a88" stroke-width="0.8" stroke-linejoin="round"/>
<line x1="197.29" x2="201.09" y1="371.3" y2="371.3" stroke="#5a2a88" stroke-width="1"/>
<circle cx="199.19" cy="426.5" r="1.35" fill="#111"/>
<circle cx="199.19" cy="429.5" r="1.35" fill="#111"/>
<circle cx="199.19" cy="432.5" r="1.35" fill="#111"/>
<circle cx="199.19" cy="435.5" r="1.35" fill="#111"/>
<circle cx="199.19" cy="463.7" r="1.35" fill="#111"/>
<line x1="216.51" x2="216.51" y1="347.2" y2="366.6" stroke="#8a8a8a" stroke-width="0.9"/>
<line x1="216.51" x2="216.51" y1="390.9" y2="412.7" stroke="#8a8a8a" stroke-width="0.9"/>
<polygon points="212.71,366.60 212.71,373.17 214.61,377.40 212.71,381.63 212.71,390.90 220.31,390.90 220.31,381.63 218.41,377.40 220.31,373.17 220.31,366.60" fill="#ee2a1c" stroke="#a81a10" stroke-width="0.8" stroke-linejoin="round"/>
<line x1="214.61" x2="218.41" y1="377.4" y2="377.4" stroke="#a81a10" stroke-width="1"/>
<circle cx="216.51" cy="432.2" r="1.35" fill="#111"/>
<circle cx="216.51" cy="460.7" r="1.35" fill="#111"/>
<line x1="223.94" x2="223.94" y1="345.4" y2="359.4" stroke="#8a8a8a" stroke-width="0.9"/>
<line x1="223.94" x2="223.94" y1="371.3" y2="380.9" stroke="#8a8a8a" stroke-width="0.9"/>
<polygon points="220.14,359.40 220.14,361.39 222.04,365.70 220.14,370.01 220.14,371.30 227.74,371.30 227.74,370.01 225.84,365.70 227.74,361.39 227.74,359.40" fill="#3a4cb4" stroke="#1e2a80" stroke-width="0.8" stroke-linejoin="round"/>
<line x1="222.04" x2="225.84" y1="365.7" y2="365.7" stroke="#1e2a80" stroke-width="1"/>
<circle cx="223.94" cy="327.4" r="1.35" fill="#111"/>
<circle cx="223.94" cy="335.4" r="1.35" fill="#111"/>
<line x1="231.36" x2="231.36" y1="337.5" y2="368.5" stroke="#8a8a8a" stroke-width="0.9"/>
<line x1="231.36" x2="231.36" y1="394" y2="430.2" stroke="#8a8a8a" stroke-width="0.9"/>
<polygon points="227.56,368.50 227.56,376.02 229.46,380.00 227.56,383.98 227.56,394.00 235.16,394.00 235.16,383.98 233.26,380.00 235.16,376.02 235.16,368.50" fill="#f9ad24" stroke="#b87510" stroke-width="0.8" stroke-linejoin="round"/>
<line x1="229.46" x2="233.26" y1="380" y2="380" stroke="#b87510" stroke-width="1"/>
<circle cx="231.36" cy="317.9" r="1.35" fill="#111"/>
<circle cx="231.36" cy="327" r="1.35" fill="#111"/>
<circle cx="231.36" cy="439.1" r="1.35" fill="#111"/>
<line x1="238.79" x2="238.79" y1="323.2" y2="355.9" stroke="#8a8a8a" stroke-width="0.9"/>
<line x1="238.79" x2="238.79" y1="382.7" y2="418.2" stroke="#8a8a8a" stroke-width="0.9"/>
<polygon points="234.99,355.90 234.99,365.00 236.89,369.50 234.99,374.00 234.99,382.70 242.59,382.70 242.59,374.00 240.69,369.50 242.59,365.00 242.59,355.90" fill="#8d4dc0" stroke="#5a2a88" stroke-width="0.8" stroke-linejoin="round"/>
<line x1="236.89" x2="240.69" y1="369.5" y2="369.5" stroke="#5a2a88" stroke-width="1"/>
<circle cx="238.79" cy="423.9" r="1.35" fill="#111"/>
<circle cx="238.79" cy="430.4" r="1.35" fill="#111"/>
<circle cx="238.79" cy="439.7" r="1.35" fill="#111"/>
<circle cx="238.79" cy="455.9" r="1.35" fill="#111"/>
<line x1="256.11" x2="256.11" y1="351.2" y2="369.6" stroke="#8a8a8a" stroke-width="0.9"/>
<line x1="256.11" x2="256.11" y1="385.6" y2="409.6" stroke="#8a8a8a" stroke-width="0.9"/>
<polygon points="252.31,369.60 252.31,374.62 254.21,377.40 252.31,380.18 252.31,385.60 259.91,385.60 259.91,380.18 258.01,377.40 259.91,374.62 259.91,369.60" fill="#ee2a1c" stroke="#a81a10" stroke-width="0.8" stroke-linejoin="round"/>
<line x1="254.21" x2="258.01" y1="377.4" y2="377.4" stroke="#a81a10" stroke-width="1"/>
<circle cx="256.11" cy="340.2" r="1.35" fill="#111"/>
<circle cx="256.11" cy="413.4" r="1.35" fill="#111"/>
<line x1="263.54" x2="263.54" y1="335.4" y2="351.6" stroke="#8a8a8a" stroke-width="0.9"/>
<line x1="263.54" x2="263.54" y1="366.9" y2="379.7" stroke="#8a8a8a" stroke-width="0.9"/>
<polygon points="259.74,351.60 259.74,353.46 261.64,359.00 259.74,364.54 259.74,366.90 267.34,366.90 267.34,364.54 265.44,359.00 267.34,353.46 267.34,351.60" fill="#3a4cb4" stroke="#1e2a80" stroke-width="0.8" stroke-linejoin="round"/>
<line x1="261.64" x2="265.44" y1="359" y2="359" stroke="#1e2a80" stroke-width="1"/>
<line x1="270.96" x2="270.96" y1="344.9" y2="369" stroke="#8a8a8a" stroke-width="0.9"/>
<line x1="270.96" x2="270.96" y1="390.2" y2="420.4" stroke="#8a8a8a" stroke-width="0.9"/>
<polygon points="267.16,369.00 267.16,375.89 269.06,379.20 267.16,382.51 267.16,390.20 274.76,390.20 274.76,382.51 272.86,379.20 274.76,375.89 274.76,369.00" fill="#f9ad24" stroke="#b87510" stroke-width="0.8" stroke-linejoin="round"/>
<line x1="269.06" x2="272.86" y1="379.2" y2="379.2" stroke="#b87510" stroke-width="1"/>
<circle cx="270.96" cy="421.6" r="1.35" fill="#111"/>
<line x1="278.39" x2="278.39" y1="321.4" y2="358.1" stroke="#8a8a8a" stroke-width="0.9"/>
<line x1="278.39" x2="278.39" y1="383.5" y2="414.8" stroke="#8a8a8a" stroke-width="0.9"/>
<polygon points="274.59,358.10 274.59,365.90 276.49,370.40 274.59,374.90 274.59,383.50 282.19,383.50 282.19,374.90 280.29,370.40 282.19,365.90 282.19,358.10" fill="#8d4dc0" stroke="#5a2a88" stroke-width="0.8" stroke-linejoin="round"/>
<line x1="276.49" x2="280.29" y1="370.4" y2="370.4" stroke="#5a2a88" stroke-width="1"/>
<circle cx="278.39" cy="420.4" r="1.35" fill="#111"/>
<circle cx="278.39" cy="423" r="1.35" fill="#111"/>
<circle cx="278.39" cy="425.6" r="1.35" fill="#111"/>
<circle cx="278.39" cy="428.2" r="1.35" fill="#111"/>
<circle cx="278.39" cy="430.8" r="1.35" fill="#111"/>
<line x1="295.71" x2="295.71" y1="338.4" y2="366.6" stroke="#8a8a8a" stroke-width="0.9"/>
<line x1="295.71" x2="295.71" y1="387.9" y2="417.1" stroke="#8a8a8a" stroke-width="0.9"/>
<polygon points="291.91,366.60 291.91,370.19 293.81,373.90 291.91,377.61 291.91,387.90 299.51,387.90 299.51,377.61 297.61,373.90 299.51,370.19 299.51,366.60" fill="#ee2a1c" stroke="#a81a10" stroke-width="0.8" stroke-linejoin="round"/>
<line x1="293.81" x2="297.61" y1="373.9" y2="373.9" stroke="#a81a10" stroke-width="1"/>
<circle cx="295.71" cy="429.1" r="1.35" fill="#111"/>
<line x1="303.14" x2="303.14" y1="336.1" y2="349.4" stroke="#8a8a8a" stroke-width="0.9"/>
<line x1="303.14" x2="303.14" y1="362.2" y2="373" stroke="#8a8a8a" stroke-width="0.9"/>
<polygon points="299.34,349.40 299.34,352.97 301.24,357.60 299.34,362.23 299.34,362.20 306.94,362.20 306.94,362.23 305.04,357.60 306.94,352.97 306.94,349.40" fill="#3a4cb4" stroke="#1e2a80" stroke-width="0.8" stroke-linejoin="round"/>
<line x1="301.24" x2="305.04" y1="357.6" y2="357.6" stroke="#1e2a80" stroke-width="1"/>
<line x1="310.56" x2="310.56" y1="342.4" y2="370.5" stroke="#8a8a8a" stroke-width="0.9"/>
<line x1="310.56" x2="310.56" y1="399.1" y2="428.2" stroke="#8a8a8a" stroke-width="0.9"/>
<polygon points="306.76,370.50 306.76,380.44 308.66,384.90 306.76,389.36 306.76,399.10 314.36,399.10 314.36,389.36 312.46,384.90 314.36,380.44 314.36,370.50" fill="#f9ad24" stroke="#b87510" stroke-width="0.8" stroke-linejoin="round"/>
<line x1="308.66" x2="312.46" y1="384.9" y2="384.9" stroke="#b87510" stroke-width="1"/>
<line x1="317.99" x2="317.99" y1="327.9" y2="356.1" stroke="#8a8a8a" stroke-width="0.9"/>
<line x1="317.99" x2="317.99" y1="382.7" y2="420.8" stroke="#8a8a8a" stroke-width="0.9"/>
<polygon points="314.19,356.10 314.19,365.90 316.09,370.40 314.19,374.90 314.19,382.70 321.79,382.70 321.79,374.90 319.89,370.40 321.79,365.90 321.79,356.10" fill="#8d4dc0" stroke="#5a2a88" stroke-width="0.8" stroke-linejoin="round"/>
<line x1="316.09" x2="319.89" y1="370.4" y2="370.4" stroke="#5a2a88" stroke-width="1"/>
<circle cx="317.99" cy="433.6" r="1.35" fill="#111"/>
<circle cx="317.99" cy="445.4" r="1.35" fill="#111"/>
<circle cx="317.99" cy="447.2" r="1.35" fill="#111"/>
<line x1="335.31" x2="335.31" y1="338" y2="367" stroke="#8a8a8a" stroke-width="0.9"/>
<line x1="335.31" x2="335.31" y1="387" y2="408" stroke="#8a8a8a" stroke-width="0.9"/>
<polygon points="331.51,367.00 331.51,369.52 333.41,373.00 331.51,376.48 331.51,387.00 339.11,387.00 339.11,376.48 337.21,373.00 339.11,369.52 339.11,367.00" fill="#ee2a1c" stroke="#a81a10" stroke-width="0.8" stroke-linejoin="round"/>
<line x1="333.41" x2="337.21" y1="373" y2="373" stroke="#a81a10" stroke-width="1"/>
<circle cx="335.31" cy="324.9" r="1.35" fill="#111"/>
<circle cx="335.31" cy="334.9" r="1.35" fill="#111"/>
<circle cx="335.31" cy="419.5" r="1.35" fill="#111"/>
<circle cx="335.31" cy="422.1" r="1.35" fill="#111"/>
<line x1="342.74" x2="342.74" y1="345.4" y2="359.4" stroke="#8a8a8a" stroke-width="0.9"/>
<line x1="342.74" x2="342.74" y1="368.6" y2="378.3" stroke="#8a8a8a" stroke-width="0.9"/>
<polygon points="338.94,359.40 338.94,360.07 340.84,363.40 338.94,366.73 338.94,368.60 346.54,368.60 346.54,366.73 344.64,363.40 346.54,360.07 346.54,359.40" fill="#3a4cb4" stroke="#1e2a80" stroke-width="0.8" stroke-linejoin="round"/>
<line x1="340.84" x2="344.64" y1="363.4" y2="363.4" stroke="#1e2a80" stroke-width="1"/>
<line x1="350.16" x2="350.16" y1="332.6" y2="369.9" stroke="#8a8a8a" stroke-width="0.9"/>
<line x1="350.16" x2="350.16" y1="396.7" y2="424.8" stroke="#8a8a8a" stroke-width="0.9"/>
<polygon points="346.36,369.90 346.36,377.22 348.26,381.40 346.36,385.58 346.36,396.70 353.96,396.70 353.96,385.58 352.06,381.40 353.96,377.22 353.96,369.90" fill="#f9ad24" stroke="#b87510" stroke-width="0.8" stroke-linejoin="round"/>
<line x1="348.26" x2="352.06" y1="381.4" y2="381.4" stroke="#b87510" stroke-width="1"/>
<circle cx="350.16" cy="313.9" r="1.35" fill="#111"/>
<line x1="357.59" x2="357.59" y1="341" y2="363.4" stroke="#8a8a8a" stroke-width="0.9"/>
<line x1="357.59" x2="357.59" y1="379.2" y2="401" stroke="#8a8a8a" stroke-width="0.9"/>
<polygon points="353.79,363.40 353.79,366.40 355.69,370.90 353.79,375.40 353.79,379.20 361.39,379.20 361.39,375.40 359.49,370.90 361.39,366.40 361.39,363.40" fill="#8d4dc0" stroke="#5a2a88" stroke-width="0.8" stroke-linejoin="round"/>
<line x1="355.69" x2="359.49" y1="370.9" y2="370.9" stroke="#5a2a88" stroke-width="1"/>
<circle cx="357.59" cy="317.4" r="1.35" fill="#111"/>
<circle cx="357.59" cy="324.9" r="1.35" fill="#111"/>
<circle cx="357.59" cy="331" r="1.35" fill="#111"/>
<circle cx="357.59" cy="333.5" r="1.35" fill="#111"/>
<circle cx="357.59" cy="336" r="1.35" fill="#111"/>
<circle cx="357.59" cy="338.5" r="1.35" fill="#111"/>
<circle cx="357.59" cy="406.9" r="1.35" fill="#111"/>
<circle cx="357.59" cy="413.4" r="1.35" fill="#111"/>
<circle cx="357.59" cy="414.6" r="1.35" fill="#111"/>
<circle cx="357.59" cy="425.1" r="1.35" fill="#111"/>
<path d="M58.20,306.1 L58.20,300.1 L80.80,300.1 L80.80,306.1" fill="none" stroke="#111" stroke-width="1.8"/>
<text x="55.20" y="295.8" font-size="6.85" fill="#111">1.47x10<tspan font-size="4.5" dy="-2.7">-10</tspan></text>
<path d="M97.40,306.1 L97.40,300.1 L120.30,300.1 L120.30,306.1" fill="none" stroke="#111" stroke-width="1.8"/>
<text x="94.40" y="295.8" font-size="6.85" fill="#111">5.73x10<tspan font-size="4.5" dy="-2.7">-09</tspan></text>
<path d="M136.70,306.1 L136.70,300.1 L159.40,300.1 L159.40,306.1" fill="none" stroke="#111" stroke-width="1.8"/>
<text x="133.70" y="295.8" font-size="6.85" fill="#111">5.79x10<tspan font-size="4.5" dy="-2.7">-09</tspan></text>
<path d="M176.10,306.1 L176.10,300.1 L198.50,300.1 L198.50,306.1" fill="none" stroke="#111" stroke-width="1.8"/>
<text x="173.10" y="295.8" font-size="6.85" fill="#111">2.57x10<tspan font-size="4.5" dy="-2.7">-09</tspan></text>
<path d="M216.20,306.1 L216.20,300.1 L238.70,300.1 L238.70,306.1" fill="none" stroke="#111" stroke-width="1.8"/>
<text x="213.20" y="295.8" font-size="6.85" fill="#111">1.49x10<tspan font-size="4.5" dy="-2.7">-07</tspan></text>
<path d="M254.50,306.1 L254.50,300.1 L277.40,300.1 L277.40,306.1" fill="none" stroke="#111" stroke-width="1.8"/>
<text x="251.50" y="295.8" font-size="6.85" fill="#111">1.29x10<tspan font-size="4.5" dy="-2.7">-08</tspan></text>
<path d="M294.80,306.1 L294.80,300.1 L317.50,300.1 L317.50,306.1" fill="none" stroke="#111" stroke-width="1.8"/>
<text x="291.80" y="295.8" font-size="6.85" fill="#111">8.50x10<tspan font-size="4.5" dy="-2.7">-12</tspan></text>
<path d="M335.10,306.1 L335.10,300.1 L358.20,300.1 L358.20,306.1" fill="none" stroke="#111" stroke-width="1.8"/>
<text x="332.10" y="295.8" font-size="6.85" fill="#111">2.27x10<tspan font-size="4.5" dy="-2.7">-09</tspan></text>
<rect x="45.5" y="277.7" width="324.8" height="210.3" fill="none" stroke="#6e6e6e" stroke-width="1"/>
<line x1="42.9" x2="45.5" y1="294.25" y2="294.25" stroke="#7a7a7a" stroke-width="0.8"/>
<text x="40.7" y="296.75" font-size="7" fill="#3d3d3d" text-anchor="end">5.0</text>
<line x1="42.9" x2="45.5" y1="333.62" y2="333.62" stroke="#7a7a7a" stroke-width="0.8"/>
<text x="40.7" y="336.12" font-size="7" fill="#3d3d3d" text-anchor="end">2.5</text>
<line x1="42.9" x2="45.5" y1="373.00" y2="373.00" stroke="#7a7a7a" stroke-width="0.8"/>
<text x="40.7" y="375.50" font-size="7" fill="#3d3d3d" text-anchor="end">0.0</text>
<line x1="42.9" x2="45.5" y1="412.38" y2="412.38" stroke="#7a7a7a" stroke-width="0.8"/>
<text x="40.7" y="414.88" font-size="7" fill="#3d3d3d" text-anchor="end">-2.5</text>
<line x1="42.9" x2="45.5" y1="451.75" y2="451.75" stroke="#7a7a7a" stroke-width="0.8"/>
<text x="40.7" y="454.25" font-size="7" fill="#3d3d3d" text-anchor="end">-5.0</text>
<line x1="69.25" x2="69.25" y1="488.0" y2="490.2" stroke="#8a8a8a" stroke-width="0.8"/>
<text x="68.65" y="499.1" font-size="7.5" font-style="italic" fill="#3d3d3d" text-anchor="middle">PDCD1</text>
<line x1="108.85" x2="108.85" y1="488.0" y2="490.2" stroke="#8a8a8a" stroke-width="0.8"/>
<text x="108.25" y="499.1" font-size="7.5" font-style="italic" fill="#3d3d3d" text-anchor="middle">CD274</text>
<line x1="148.45" x2="148.45" y1="488.0" y2="490.2" stroke="#8a8a8a" stroke-width="0.8"/>
<text x="147.85" y="499.1" font-size="7.5" font-style="italic" fill="#3d3d3d" text-anchor="middle">PDCD1LG2</text>
<line x1="188.05" x2="188.05" y1="488.0" y2="490.2" stroke="#8a8a8a" stroke-width="0.8"/>
<text x="187.45" y="499.1" font-size="7.5" font-style="italic" fill="#3d3d3d" text-anchor="middle">CTLA4</text>
<line x1="227.65" x2="227.65" y1="488.0" y2="490.2" stroke="#8a8a8a" stroke-width="0.8"/>
<text x="227.05" y="499.1" font-size="7.5" font-style="italic" fill="#3d3d3d" text-anchor="middle">CD80</text>
<line x1="267.25" x2="267.25" y1="488.0" y2="490.2" stroke="#8a8a8a" stroke-width="0.8"/>
<text x="266.65" y="499.1" font-size="7.5" font-style="italic" fill="#3d3d3d" text-anchor="middle">CD86</text>
<line x1="306.85" x2="306.85" y1="488.0" y2="490.2" stroke="#8a8a8a" stroke-width="0.8"/>
<text x="306.25" y="499.1" font-size="7.5" font-style="italic" fill="#3d3d3d" text-anchor="middle">HAVCR2</text>
<line x1="346.45" x2="346.45" y1="488.0" y2="490.2" stroke="#8a8a8a" stroke-width="0.8"/>
<text x="345.85" y="499.1" font-size="7.5" font-style="italic" fill="#3d3d3d" text-anchor="middle">LGALS9</text>
<text x="207.15" y="509.8" font-size="8.95" fill="#111" text-anchor="middle">Immune checkpoint genes</text>
<text transform="translate(21.9,367.7) rotate(-90)" font-size="7.85" fill="#111" text-anchor="middle">Expression (log<tspan font-size="5.3" dy="1.6">2</tspan><tspan dy="-1.6">(FPKM+1))</tspan></text>
<text x="384.2" y="357.2" font-size="8.7" fill="#111">Subtype</text>
<line x1="391.2" x2="391.2" y1="361.0" y2="374.0" stroke="#8a8a8a" stroke-width="0.9"/>
<rect x="385.9" y="364.2" width="10.7" height="6.6" fill="#ee2a1c" stroke="#a81a10" stroke-width="0.7"/>
<line x1="385.9" x2="396.6" y1="367.5" y2="367.5" stroke="#a81a10" stroke-width="0.9"/>
<text x="399.5" y="370.0" font-size="7.2" fill="#111">Subtype A (<tspan font-style="italic">n</tspan> = 82)</text>
<line x1="391.2" x2="391.2" y1="374.75" y2="387.75" stroke="#8a8a8a" stroke-width="0.9"/>
<rect x="385.9" y="377.95" width="10.7" height="6.6" fill="#3a4cb4" stroke="#1e2a80" stroke-width="0.7"/>
<line x1="385.9" x2="396.6" y1="381.25" y2="381.25" stroke="#1e2a80" stroke-width="0.9"/>
<text x="399.5" y="383.75" font-size="7.2" fill="#111">Subtype B (<tspan font-style="italic">n</tspan> = 19)</text>
<line x1="391.2" x2="391.2" y1="388.5" y2="401.5" stroke="#8a8a8a" stroke-width="0.9"/>
<rect x="385.9" y="391.7" width="10.7" height="6.6" fill="#f9ad24" stroke="#b87510" stroke-width="0.7"/>
<line x1="385.9" x2="396.6" y1="395.0" y2="395.0" stroke="#b87510" stroke-width="0.9"/>
<text x="399.5" y="397.5" font-size="7.2" fill="#111">TCGA LUSC subtype A (<tspan font-style="italic">n</tspan> = 103)</text>
<line x1="391.2" x2="391.2" y1="402.25" y2="415.25" stroke="#8a8a8a" stroke-width="0.9"/>
<rect x="385.9" y="405.45" width="10.7" height="6.6" fill="#8d4dc0" stroke="#5a2a88" stroke-width="0.7"/>
<line x1="385.9" x2="396.6" y1="408.75" y2="408.75" stroke="#5a2a88" stroke-width="0.9"/>
<text x="399.5" y="411.25" font-size="7.2" fill="#111">TCGA LUSC subtype B (<tspan font-style="italic">n</tspan> = 328)</text>
</svg></body></html>
